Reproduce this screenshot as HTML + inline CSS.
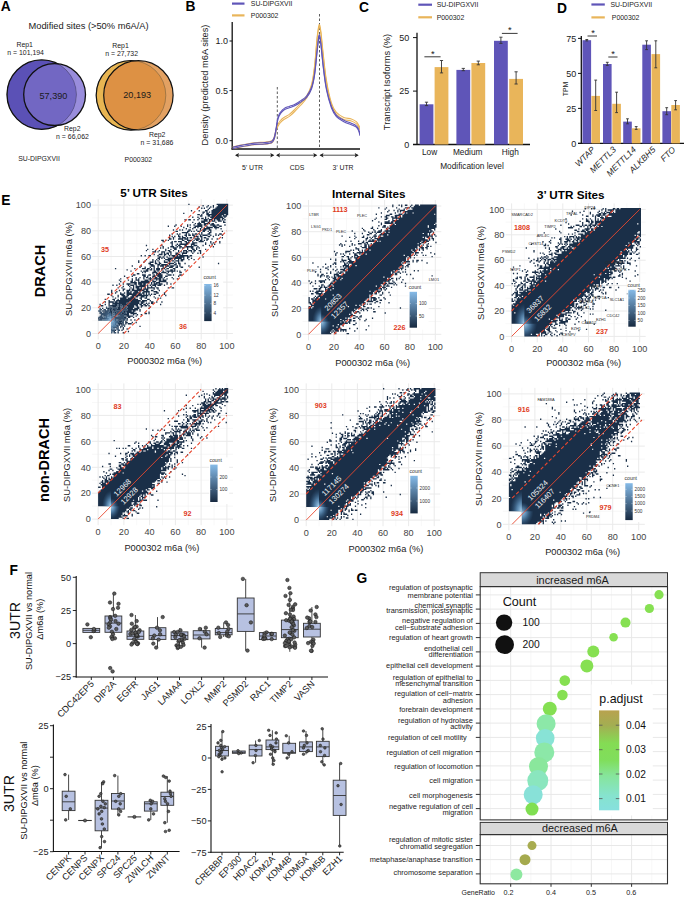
<!DOCTYPE html>
<html><head><meta charset="utf-8"><title>Figure</title>
<style>html,body{margin:0;padding:0;background:#fff;width:685px;height:897px;overflow:hidden}svg{display:block}text{font-family:"Liberation Sans", sans-serif}</style>
</head><body>
<svg width="685" height="897" viewBox="0 0 685 897" font-family='"Liberation Sans", sans-serif' fill="#1a1a1a">
<rect width="685" height="897" fill="#fff"/>
<text x="0.8" y="10.8" font-size="13.8" text-anchor="start" font-weight="bold" fill="#000">A</text>
<text x="28.5" y="28.5" font-size="9.3" text-anchor="start">Modified sites (&gt;50% m6A/A)</text>
<defs><clipPath id="cA1"><circle cx="41.7" cy="94.6" r="34.7"/></clipPath><clipPath id="cA2"><circle cx="131.0" cy="95.3" r="34.8"/></clipPath></defs>
<circle cx="54.6" cy="94.6" r="30.9" fill="#998DDC"/>
<circle cx="41.7" cy="94.6" r="34.7" fill="#5B51B6"/>
<circle cx="54.6" cy="94.6" r="30.9" fill="#7267C3" clip-path="url(#cA1)"/>
<mask id="mA1"><rect x="0" y="40" width="100" height="110" fill="#fff"/><circle cx="54.6" cy="94.6" r="30.9" fill="#000"/></mask>
<circle cx="41.7" cy="94.6" r="34.7" fill="none" stroke="#333" stroke-width="0.6" stroke-opacity="0.6"/>
<circle cx="41.7" cy="94.6" r="34.7" fill="none" stroke="#111" stroke-width="1.3" mask="url(#mA1)"/>
<circle cx="54.6" cy="94.6" r="30.9" fill="none" stroke="#111" stroke-width="1.3"/>
<text x="53.4" y="98.7" font-size="9.1" text-anchor="middle">57,390</text>
<text x="24.7" y="46.8" font-size="6.9" text-anchor="middle">Rep1</text>
<text x="25.6" y="55.0" font-size="6.9" text-anchor="middle">n = 101,194</text>
<text x="72.3" y="130.9" font-size="6.9" text-anchor="middle">Rep2</text>
<text x="72.5" y="138.7" font-size="6.9" text-anchor="middle">n = 66,062</text>
<text x="39.0" y="160.6" font-size="6.9" text-anchor="middle">SU-DIPGXVII</text>
<circle cx="138.4" cy="95.3" r="34.7" fill="#E3A162"/>
<circle cx="131.0" cy="95.3" r="34.8" fill="#E8B552"/>
<circle cx="138.4" cy="95.3" r="34.7" fill="#DD9144" clip-path="url(#cA2)"/>
<mask id="mA2"><rect x="90" y="40" width="100" height="110" fill="#fff"/><circle cx="138.4" cy="95.3" r="34.7" fill="#000"/></mask>
<circle cx="131.0" cy="95.3" r="34.8" fill="none" stroke="#333" stroke-width="0.6" stroke-opacity="0.6"/>
<circle cx="131.0" cy="95.3" r="34.8" fill="none" stroke="#111" stroke-width="1.2" mask="url(#mA2)"/>
<circle cx="138.4" cy="95.3" r="34.7" fill="none" stroke="#111" stroke-width="1.2"/>
<text x="137.2" y="98.4" font-size="9.1" text-anchor="middle">20,193</text>
<text x="120.5" y="47.7" font-size="6.9" text-anchor="middle">Rep1</text>
<text x="121.6" y="55.8" font-size="6.9" text-anchor="middle">n = 27,732</text>
<text x="157.2" y="136.7" font-size="6.9" text-anchor="middle">Rep2</text>
<text x="157.0" y="144.6" font-size="6.9" text-anchor="middle">n = 31,686</text>
<text x="138.4" y="162.4" font-size="6.9" text-anchor="middle">P000302</text>
<text x="185.5" y="10.8" font-size="13.8" text-anchor="start" font-weight="bold" fill="#000">B</text>
<line x1="232.0" y1="3.6" x2="244.5" y2="3.6" stroke="#5F55B8" stroke-width="2.2"/>
<line x1="232.0" y1="15.4" x2="244.5" y2="15.4" stroke="#E9B55A" stroke-width="2.2"/>
<text x="250.8" y="6.0" font-size="6.9" text-anchor="start" fill="#222">SU-DIPGXVII</text>
<text x="250.8" y="17.8" font-size="6.9" text-anchor="start" fill="#222">P000302</text>
<line x1="232.2" y1="22.0" x2="232.2" y2="149.5" stroke="#111" stroke-width="1.3"/>
<line x1="231.5" y1="149.0" x2="360.0" y2="149.0" stroke="#111" stroke-width="1.3"/>
<text x="228.0" y="44.2" font-size="9.0" text-anchor="end">1.0</text>
<line x1="229.5" y1="41.0" x2="232.2" y2="41.0" stroke="#111" stroke-width="1"/>
<text x="228.0" y="93.8" font-size="9.0" text-anchor="end">0.5</text>
<line x1="229.5" y1="90.6" x2="232.2" y2="90.6" stroke="#111" stroke-width="1"/>
<text x="228.0" y="143.9" font-size="9.0" text-anchor="end">0.0</text>
<line x1="229.5" y1="140.7" x2="232.2" y2="140.7" stroke="#111" stroke-width="1"/>
<text x="208.3" y="85.0" font-size="9.3" text-anchor="middle" transform="rotate(-90 208.3 85.0)">Density (predicted m6A sites)</text>
<line x1="277.3" y1="87.0" x2="277.3" y2="149.0" stroke="#333" stroke-width="0.8" stroke-dasharray="2.5,2"/>
<line x1="319.5" y1="14.0" x2="319.5" y2="149.0" stroke="#333" stroke-width="0.8" stroke-dasharray="2.5,2"/>
<g clip-path="url(#clipB)">
<path d="M232.7,148.1 C233.8,147.8 236.0,147.1 239.6,146.4 C243.3,145.7 250.4,144.4 254.5,143.9 C258.7,143.4 261.5,143.8 264.4,143.4 C267.3,143.1 270.2,142.9 271.9,141.9 C273.5,141.0 273.7,139.7 274.4,137.7 C275.1,135.8 275.5,132.3 276.1,130.3 C276.7,128.2 277.3,126.8 278.1,125.3 C278.8,123.9 279.5,122.7 280.6,121.6 C281.6,120.4 282.8,119.4 284.3,118.4 C285.7,117.4 287.6,116.8 289.3,115.6 C290.9,114.4 292.4,113.0 294.2,111.2 C296.1,109.3 298.4,107.0 300.4,104.7 C302.5,102.4 304.8,100.5 306.6,97.3 C308.5,94.1 310.3,90.7 311.6,85.6 C312.9,80.6 313.7,74.6 314.6,67.0 C315.5,59.3 316.3,46.5 317.0,39.7 C317.8,32.9 318.4,27.3 319.0,26.1 C319.7,24.8 320.1,27.3 320.8,32.3 C321.5,37.2 322.3,47.6 323.3,55.8 C324.2,64.1 325.1,73.8 326.5,81.9 C327.8,90.0 329.8,98.9 331.4,104.2 C333.1,109.5 334.3,111.2 336.4,113.6 C338.5,116.0 341.4,117.5 343.8,118.6 C346.3,119.7 349.2,119.4 351.3,120.1 C353.4,120.8 355.0,121.8 356.3,122.8 C357.5,123.9 358.1,125.5 358.7,126.6 C359.4,127.6 359.8,128.6 360.0,129.0" fill="none" stroke="#E9B55A" stroke-width="1.1" transform="translate(0,-1.2)"/>
<path d="M232.7,148.1 C233.8,147.8 236.0,147.1 239.6,146.4 C243.3,145.7 250.4,144.4 254.5,143.9 C258.7,143.4 261.5,143.8 264.4,143.4 C267.3,143.1 270.2,142.9 271.9,141.9 C273.5,141.0 273.7,139.7 274.4,137.7 C275.1,135.8 275.5,132.3 276.1,130.3 C276.7,128.2 277.3,126.8 278.1,125.3 C278.8,123.9 279.5,122.7 280.6,121.6 C281.6,120.4 282.8,119.4 284.3,118.4 C285.7,117.4 287.6,116.8 289.3,115.6 C290.9,114.4 292.4,113.0 294.2,111.2 C296.1,109.3 298.4,107.0 300.4,104.7 C302.5,102.4 304.8,100.5 306.6,97.3 C308.5,94.1 310.3,90.7 311.6,85.6 C312.9,80.6 313.7,74.6 314.6,67.0 C315.5,59.3 316.3,46.5 317.0,39.7 C317.8,32.9 318.4,27.3 319.0,26.1 C319.7,24.8 320.1,27.3 320.8,32.3 C321.5,37.2 322.3,47.6 323.3,55.8 C324.2,64.1 325.1,73.8 326.5,81.9 C327.8,90.0 329.8,98.9 331.4,104.2 C333.1,109.5 334.3,111.2 336.4,113.6 C338.5,116.0 341.4,117.5 343.8,118.6 C346.3,119.7 349.2,119.4 351.3,120.1 C353.4,120.8 355.0,121.8 356.3,122.8 C357.5,123.9 358.1,125.5 358.7,126.6 C359.4,127.6 359.8,128.6 360.0,129.0" fill="none" stroke="#E9B55A" stroke-width="1.1" transform="translate(0,0.8)"/>
<path d="M232.7,148.1 C233.8,147.8 236.0,147.1 239.6,146.4 C243.3,145.7 250.4,144.4 254.5,143.9 C258.7,143.4 261.5,143.8 264.4,143.4 C267.3,143.1 270.2,142.9 271.9,141.9 C273.5,141.0 273.7,139.9 274.4,137.7 C275.1,135.6 275.5,132.3 276.1,129.0 C276.7,125.7 277.3,120.6 278.1,117.9 C278.8,115.2 279.5,114.4 280.6,112.9 C281.6,111.5 282.8,110.1 284.3,109.2 C285.7,108.2 287.6,107.8 289.3,107.2 C290.9,106.6 292.4,106.4 294.2,105.5 C296.1,104.5 298.4,103.2 300.4,101.7 C302.5,100.3 304.8,99.0 306.6,96.8 C308.5,94.5 310.3,91.8 311.6,88.1 C312.9,84.4 313.7,80.4 314.6,74.4 C315.5,68.4 316.3,58.5 317.0,52.1 C317.8,45.7 318.4,37.4 319.0,36.0 C319.7,34.5 320.1,38.3 320.8,43.4 C321.5,48.6 322.3,59.3 323.3,67.0 C324.2,74.6 325.1,82.6 326.5,89.3 C327.8,96.0 329.8,102.7 331.4,107.2 C333.1,111.7 334.3,113.8 336.4,116.1 C338.5,118.4 341.4,119.8 343.8,121.1 C346.3,122.4 349.2,123.2 351.3,124.1 C353.4,125.0 355.0,125.5 356.3,126.6 C357.5,127.6 358.1,128.8 358.7,130.3 C359.4,131.7 359.8,134.4 360.0,135.2" fill="none" stroke="#5F55B8" stroke-width="1.1" transform="translate(0,-0.8)"/>
<path d="M232.7,148.1 C233.8,147.8 236.0,147.1 239.6,146.4 C243.3,145.7 250.4,144.4 254.5,143.9 C258.7,143.4 261.5,143.8 264.4,143.4 C267.3,143.1 270.2,142.9 271.9,141.9 C273.5,141.0 273.7,139.9 274.4,137.7 C275.1,135.6 275.5,132.3 276.1,129.0 C276.7,125.7 277.3,120.6 278.1,117.9 C278.8,115.2 279.5,114.4 280.6,112.9 C281.6,111.5 282.8,110.1 284.3,109.2 C285.7,108.2 287.6,107.8 289.3,107.2 C290.9,106.6 292.4,106.4 294.2,105.5 C296.1,104.5 298.4,103.2 300.4,101.7 C302.5,100.3 304.8,99.0 306.6,96.8 C308.5,94.5 310.3,91.8 311.6,88.1 C312.9,84.4 313.7,80.4 314.6,74.4 C315.5,68.4 316.3,58.5 317.0,52.1 C317.8,45.7 318.4,37.4 319.0,36.0 C319.7,34.5 320.1,38.3 320.8,43.4 C321.5,48.6 322.3,59.3 323.3,67.0 C324.2,74.6 325.1,82.6 326.5,89.3 C327.8,96.0 329.8,102.7 331.4,107.2 C333.1,111.7 334.3,113.8 336.4,116.1 C338.5,118.4 341.4,119.8 343.8,121.1 C346.3,122.4 349.2,123.2 351.3,124.1 C353.4,125.0 355.0,125.5 356.3,126.6 C357.5,127.6 358.1,128.8 358.7,130.3 C359.4,131.7 359.8,134.4 360.0,135.2" fill="none" stroke="#5F55B8" stroke-width="1.1" transform="translate(0,0.6)"/>
</g>
<defs><clipPath id="clipB"><rect x="232" y="0" width="128" height="149"/></clipPath></defs>
<line x1="236.0" y1="155.2" x2="273.3" y2="155.2" stroke="#222" stroke-width="0.8"/>
<path d="M235.0,155.2 l4,-2.2 l-0.8,2.2 l0.8,2.2z M274.3,155.2 l-4,-2.2 l0.8,2.2 l-0.8,2.2z" fill="#222"/>
<line x1="277.0" y1="155.2" x2="316.3" y2="155.2" stroke="#222" stroke-width="0.8"/>
<path d="M276.0,155.2 l4,-2.2 l-0.8,2.2 l0.8,2.2z M317.3,155.2 l-4,-2.2 l0.8,2.2 l-0.8,2.2z" fill="#222"/>
<line x1="320.5" y1="155.2" x2="357.7" y2="155.2" stroke="#222" stroke-width="0.8"/>
<path d="M319.5,155.2 l4,-2.2 l-0.8,2.2 l0.8,2.2z M358.7,155.2 l-4,-2.2 l0.8,2.2 l-0.8,2.2z" fill="#222"/>
<text x="252.5" y="169.9" font-size="6.9" text-anchor="middle">5&#8217; UTR</text>
<text x="297.0" y="169.9" font-size="6.9" text-anchor="middle">CDS</text>
<text x="343.0" y="169.9" font-size="6.9" text-anchor="middle">3&#8217; UTR</text>
<text x="359.0" y="12.4" font-size="13.8" text-anchor="start" font-weight="bold" fill="#000">C</text>
<line x1="418.3" y1="4.7" x2="432.0" y2="4.7" stroke="#5F55B8" stroke-width="2.2"/>
<line x1="418.3" y1="17.3" x2="432.0" y2="17.3" stroke="#E9B55A" stroke-width="2.2"/>
<text x="436.7" y="7.1" font-size="6.9" text-anchor="start" fill="#222">SU-DIPGXVII</text>
<text x="436.7" y="19.7" font-size="6.9" text-anchor="start" fill="#222">P000302</text>
<line x1="417.0" y1="32.8" x2="417.0" y2="145.0" stroke="#111" stroke-width="1.3"/>
<line x1="413.0" y1="144.5" x2="530.0" y2="144.5" stroke="#111" stroke-width="1.3"/>
<line x1="413.0" y1="144.5" x2="417.0" y2="144.5" stroke="#111" stroke-width="1"/>
<text x="409.3" y="147.7" font-size="9.0" text-anchor="end">0</text>
<line x1="413.0" y1="91.1" x2="417.0" y2="91.1" stroke="#111" stroke-width="1"/>
<text x="409.3" y="94.2" font-size="9.0" text-anchor="end">25</text>
<line x1="413.0" y1="37.6" x2="417.0" y2="37.6" stroke="#111" stroke-width="1"/>
<text x="409.3" y="40.8" font-size="9.0" text-anchor="end">50</text>
<text x="390.1" y="82.0" font-size="9.3" text-anchor="middle" transform="rotate(-90 390.1 82.0)">Transcript Isoforms (%)</text>
<rect x="419.6" y="104.3" width="13.8" height="40.2" fill="#5F55B8"/>
<line x1="426.5" y1="102.2" x2="426.5" y2="105.6" stroke="#333" stroke-width="0.9"/>
<line x1="424.9" y1="102.2" x2="428.1" y2="102.2" stroke="#333" stroke-width="0.9"/>
<line x1="424.9" y1="105.6" x2="428.1" y2="105.6" stroke="#333" stroke-width="0.9"/>
<rect x="434.6" y="67.1" width="13.8" height="77.4" fill="#E9B55A"/>
<line x1="441.5" y1="60.5" x2="441.5" y2="72.9" stroke="#333" stroke-width="0.9"/>
<line x1="439.9" y1="60.5" x2="443.1" y2="60.5" stroke="#333" stroke-width="0.9"/>
<line x1="439.9" y1="72.9" x2="443.1" y2="72.9" stroke="#333" stroke-width="0.9"/>
<rect x="456.4" y="69.9" width="13.8" height="74.6" fill="#5F55B8"/>
<line x1="463.3" y1="68.4" x2="463.3" y2="70.7" stroke="#333" stroke-width="0.9"/>
<line x1="461.7" y1="68.4" x2="464.9" y2="68.4" stroke="#333" stroke-width="0.9"/>
<line x1="461.7" y1="70.7" x2="464.9" y2="70.7" stroke="#333" stroke-width="0.9"/>
<rect x="471.4" y="63.0" width="13.8" height="81.5" fill="#E9B55A"/>
<line x1="478.3" y1="61.1" x2="478.3" y2="64.8" stroke="#333" stroke-width="0.9"/>
<line x1="476.7" y1="61.1" x2="479.9" y2="61.1" stroke="#333" stroke-width="0.9"/>
<line x1="476.7" y1="64.8" x2="479.9" y2="64.8" stroke="#333" stroke-width="0.9"/>
<rect x="494.0" y="40.8" width="13.8" height="103.7" fill="#5F55B8"/>
<line x1="500.9" y1="37.2" x2="500.9" y2="43.4" stroke="#333" stroke-width="0.9"/>
<line x1="499.3" y1="37.2" x2="502.5" y2="37.2" stroke="#333" stroke-width="0.9"/>
<line x1="499.3" y1="43.4" x2="502.5" y2="43.4" stroke="#333" stroke-width="0.9"/>
<rect x="509.2" y="78.9" width="13.8" height="65.6" fill="#E9B55A"/>
<line x1="516.1" y1="71.8" x2="516.1" y2="84.0" stroke="#333" stroke-width="0.9"/>
<line x1="514.5" y1="71.8" x2="517.7" y2="71.8" stroke="#333" stroke-width="0.9"/>
<line x1="514.5" y1="84.0" x2="517.7" y2="84.0" stroke="#333" stroke-width="0.9"/>
<line x1="424.4" y1="56.8" x2="440.6" y2="56.8" stroke="#222" stroke-width="0.9"/>
<text x="432.8" y="56.8" font-size="9.3" text-anchor="middle">*</text>
<line x1="501.9" y1="33.4" x2="517.6" y2="33.4" stroke="#222" stroke-width="0.9"/>
<text x="509.7" y="33.3" font-size="9.3" text-anchor="middle">*</text>
<text x="429.6" y="155.3" font-size="8.3" text-anchor="middle">Low</text>
<text x="467.7" y="155.3" font-size="8.3" text-anchor="middle">Medium</text>
<text x="510.3" y="155.3" font-size="8.3" text-anchor="middle">High</text>
<text x="472.0" y="168.9" font-size="8.3" text-anchor="middle">Modification level</text>
<text x="557.0" y="12.6" font-size="13.8" text-anchor="start" font-weight="bold" fill="#000">D</text>
<line x1="591.4" y1="4.5" x2="604.8" y2="4.5" stroke="#5F55B8" stroke-width="2.2"/>
<line x1="591.4" y1="17.4" x2="604.8" y2="17.4" stroke="#E9B55A" stroke-width="2.2"/>
<text x="610.5" y="6.9" font-size="6.9" text-anchor="start" fill="#222">SU-DIPGXVII</text>
<text x="611.8" y="19.8" font-size="6.9" text-anchor="start" fill="#222">P000302</text>
<line x1="581.3" y1="36.0" x2="581.3" y2="144.0" stroke="#111" stroke-width="1.3"/>
<line x1="578.0" y1="143.4" x2="684.0" y2="143.4" stroke="#111" stroke-width="1.3"/>
<line x1="578.0" y1="143.4" x2="581.3" y2="143.4" stroke="#111" stroke-width="1"/>
<text x="576.3" y="146.6" font-size="9.0" text-anchor="end">0</text>
<line x1="578.0" y1="108.4" x2="581.3" y2="108.4" stroke="#111" stroke-width="1"/>
<text x="576.3" y="111.6" font-size="9.0" text-anchor="end">25</text>
<line x1="578.0" y1="73.4" x2="581.3" y2="73.4" stroke="#111" stroke-width="1"/>
<text x="576.3" y="76.6" font-size="9.0" text-anchor="end">50</text>
<line x1="578.0" y1="38.4" x2="581.3" y2="38.4" stroke="#111" stroke-width="1"/>
<text x="576.3" y="41.6" font-size="9.0" text-anchor="end">75</text>
<text x="568.4" y="89.0" font-size="6.9" text-anchor="middle" transform="rotate(-90 568.4 89.0)">TPM</text>
<rect x="582.5" y="40.2" width="8.6" height="103.2" fill="#5F55B8"/>
<line x1="586.8" y1="39.5" x2="586.8" y2="40.9" stroke="#333" stroke-width="0.9"/>
<line x1="585.4" y1="39.5" x2="588.2" y2="39.5" stroke="#333" stroke-width="0.9"/>
<line x1="585.4" y1="40.9" x2="588.2" y2="40.9" stroke="#333" stroke-width="0.9"/>
<rect x="591.4" y="95.9" width="8.6" height="47.5" fill="#E9B55A"/>
<line x1="595.7" y1="80.1" x2="595.7" y2="110.5" stroke="#333" stroke-width="0.9"/>
<line x1="594.3" y1="80.1" x2="597.1" y2="80.1" stroke="#333" stroke-width="0.9"/>
<line x1="594.3" y1="110.5" x2="597.1" y2="110.5" stroke="#333" stroke-width="0.9"/>
<rect x="603.0" y="64.0" width="8.6" height="79.4" fill="#5F55B8"/>
<line x1="607.3" y1="62.3" x2="607.3" y2="65.4" stroke="#333" stroke-width="0.9"/>
<line x1="605.9" y1="62.3" x2="608.7" y2="62.3" stroke="#333" stroke-width="0.9"/>
<line x1="605.9" y1="65.4" x2="608.7" y2="65.4" stroke="#333" stroke-width="0.9"/>
<rect x="612.3" y="103.8" width="8.6" height="39.6" fill="#E9B55A"/>
<line x1="616.6" y1="92.2" x2="616.6" y2="112.6" stroke="#333" stroke-width="0.9"/>
<line x1="615.2" y1="92.2" x2="618.0" y2="92.2" stroke="#333" stroke-width="0.9"/>
<line x1="615.2" y1="112.6" x2="618.0" y2="112.6" stroke="#333" stroke-width="0.9"/>
<rect x="623.2" y="121.6" width="8.6" height="21.8" fill="#5F55B8"/>
<line x1="627.5" y1="118.8" x2="627.5" y2="123.8" stroke="#333" stroke-width="0.9"/>
<line x1="626.1" y1="118.8" x2="628.9" y2="118.8" stroke="#333" stroke-width="0.9"/>
<line x1="626.1" y1="123.8" x2="628.9" y2="123.8" stroke="#333" stroke-width="0.9"/>
<rect x="631.9" y="128.3" width="8.6" height="15.1" fill="#E9B55A"/>
<line x1="636.2" y1="126.6" x2="636.2" y2="129.4" stroke="#333" stroke-width="0.9"/>
<line x1="634.8" y1="126.6" x2="637.6" y2="126.6" stroke="#333" stroke-width="0.9"/>
<line x1="634.8" y1="129.4" x2="637.6" y2="129.4" stroke="#333" stroke-width="0.9"/>
<rect x="642.3" y="44.7" width="8.6" height="98.7" fill="#5F55B8"/>
<line x1="646.6" y1="40.8" x2="646.6" y2="49.6" stroke="#333" stroke-width="0.9"/>
<line x1="645.2" y1="40.8" x2="648.0" y2="40.8" stroke="#333" stroke-width="0.9"/>
<line x1="645.2" y1="49.6" x2="648.0" y2="49.6" stroke="#333" stroke-width="0.9"/>
<rect x="651.5" y="54.1" width="8.6" height="89.3" fill="#E9B55A"/>
<line x1="655.8" y1="40.8" x2="655.8" y2="67.8" stroke="#333" stroke-width="0.9"/>
<line x1="654.4" y1="40.8" x2="657.2" y2="40.8" stroke="#333" stroke-width="0.9"/>
<line x1="654.4" y1="67.8" x2="657.2" y2="67.8" stroke="#333" stroke-width="0.9"/>
<rect x="662.4" y="111.2" width="8.6" height="32.2" fill="#5F55B8"/>
<line x1="666.7" y1="107.7" x2="666.7" y2="114.7" stroke="#333" stroke-width="0.9"/>
<line x1="665.3" y1="107.7" x2="668.1" y2="107.7" stroke="#333" stroke-width="0.9"/>
<line x1="665.3" y1="114.7" x2="668.1" y2="114.7" stroke="#333" stroke-width="0.9"/>
<rect x="671.3" y="105.0" width="8.6" height="38.4" fill="#E9B55A"/>
<line x1="675.6" y1="100.6" x2="675.6" y2="109.8" stroke="#333" stroke-width="0.9"/>
<line x1="674.2" y1="100.6" x2="677.0" y2="100.6" stroke="#333" stroke-width="0.9"/>
<line x1="674.2" y1="109.8" x2="677.0" y2="109.8" stroke="#333" stroke-width="0.9"/>
<line x1="587.5" y1="36.0" x2="597.0" y2="36.0" stroke="#222" stroke-width="0.9"/>
<text x="593.0" y="35.9" font-size="9.3" text-anchor="middle">*</text>
<line x1="608.3" y1="57.0" x2="617.5" y2="57.0" stroke="#222" stroke-width="0.9"/>
<text x="613.0" y="56.9" font-size="9.3" text-anchor="middle">*</text>
<text x="595.6" y="150.2" font-size="8.6" text-anchor="end" font-style="italic" transform="rotate(-45 595.6 150.2)">WTAP</text>
<text x="616.6" y="150.2" font-size="8.6" text-anchor="end" font-style="italic" transform="rotate(-45 616.6 150.2)">METTL3</text>
<text x="636.6" y="150.2" font-size="8.6" text-anchor="end" font-style="italic" transform="rotate(-45 636.6 150.2)">METTL14</text>
<text x="656.1" y="150.2" font-size="8.6" text-anchor="end" font-style="italic" transform="rotate(-45 656.1 150.2)">ALKBH5</text>
<text x="676.1" y="150.2" font-size="8.6" text-anchor="end" font-style="italic" transform="rotate(-45 676.1 150.2)">FTO</text>
<text x="1.2" y="204.6" font-size="13.8" text-anchor="start" font-weight="bold" fill="#000">E</text>
<text x="154.0" y="197.2" font-size="11.7" text-anchor="middle" font-weight="bold" fill="#000">5&#8217; UTR Sites</text>
<text x="368.7" y="197.6" font-size="11.7" text-anchor="middle" font-weight="bold" fill="#000">Internal Sites</text>
<text x="570.8" y="199.2" font-size="11.7" text-anchor="middle" font-weight="bold" fill="#000">3&#8217; UTR Sites</text>
<text x="45.4" y="271.0" font-size="14.5" text-anchor="middle" font-weight="bold" fill="#000" transform="rotate(-90 45.4 271.0)">DRACH</text>
<text x="48.9" y="460.0" font-size="14.5" text-anchor="middle" font-weight="bold" fill="#000" transform="rotate(-90 48.9 460.0)">non-DRACH</text>
<line x1="111.1" y1="199.1" x2="111.1" y2="339.5" stroke="#F3F3F3" stroke-width="0.55"/>
<line x1="92.2" y1="320.7" x2="232.9" y2="320.7" stroke="#F3F3F3" stroke-width="0.55"/>
<line x1="136.8" y1="199.1" x2="136.8" y2="339.5" stroke="#F3F3F3" stroke-width="0.55"/>
<line x1="92.2" y1="295.0" x2="232.9" y2="295.0" stroke="#F3F3F3" stroke-width="0.55"/>
<line x1="162.6" y1="199.1" x2="162.6" y2="339.5" stroke="#F3F3F3" stroke-width="0.55"/>
<line x1="92.2" y1="269.3" x2="232.9" y2="269.3" stroke="#F3F3F3" stroke-width="0.55"/>
<line x1="188.3" y1="199.1" x2="188.3" y2="339.5" stroke="#F3F3F3" stroke-width="0.55"/>
<line x1="92.2" y1="243.6" x2="232.9" y2="243.6" stroke="#F3F3F3" stroke-width="0.55"/>
<line x1="214.0" y1="199.1" x2="214.0" y2="339.5" stroke="#F3F3F3" stroke-width="0.55"/>
<line x1="92.2" y1="217.9" x2="232.9" y2="217.9" stroke="#F3F3F3" stroke-width="0.55"/>
<line x1="98.2" y1="199.1" x2="98.2" y2="339.5" stroke="#EAEAEA" stroke-width="1"/>
<line x1="92.2" y1="333.5" x2="232.9" y2="333.5" stroke="#EAEAEA" stroke-width="1"/>
<line x1="123.9" y1="199.1" x2="123.9" y2="339.5" stroke="#EAEAEA" stroke-width="1"/>
<line x1="92.2" y1="307.8" x2="232.9" y2="307.8" stroke="#EAEAEA" stroke-width="1"/>
<line x1="149.7" y1="199.1" x2="149.7" y2="339.5" stroke="#EAEAEA" stroke-width="1"/>
<line x1="92.2" y1="282.1" x2="232.9" y2="282.1" stroke="#EAEAEA" stroke-width="1"/>
<line x1="175.4" y1="199.1" x2="175.4" y2="339.5" stroke="#EAEAEA" stroke-width="1"/>
<line x1="92.2" y1="256.5" x2="232.9" y2="256.5" stroke="#EAEAEA" stroke-width="1"/>
<line x1="201.2" y1="199.1" x2="201.2" y2="339.5" stroke="#EAEAEA" stroke-width="1"/>
<line x1="92.2" y1="230.8" x2="232.9" y2="230.8" stroke="#EAEAEA" stroke-width="1"/>
<line x1="226.9" y1="199.1" x2="226.9" y2="339.5" stroke="#EAEAEA" stroke-width="1"/>
<line x1="92.2" y1="205.1" x2="232.9" y2="205.1" stroke="#EAEAEA" stroke-width="1"/>
<text x="98.2" y="349.1" font-size="9.1" text-anchor="middle" fill="#444">0</text>
<text x="91.0" y="336.7" font-size="9.1" text-anchor="end" fill="#444">0</text>
<text x="123.9" y="349.1" font-size="9.1" text-anchor="middle" fill="#444">20</text>
<text x="91.0" y="311.1" font-size="9.1" text-anchor="end" fill="#444">20</text>
<text x="149.7" y="349.1" font-size="9.1" text-anchor="middle" fill="#444">40</text>
<text x="91.0" y="285.4" font-size="9.1" text-anchor="end" fill="#444">40</text>
<text x="175.4" y="349.1" font-size="9.1" text-anchor="middle" fill="#444">60</text>
<text x="91.0" y="259.7" font-size="9.1" text-anchor="end" fill="#444">60</text>
<text x="201.2" y="349.1" font-size="9.1" text-anchor="middle" fill="#444">80</text>
<text x="91.0" y="234.0" font-size="9.1" text-anchor="end" fill="#444">80</text>
<text x="226.9" y="349.1" font-size="9.1" text-anchor="middle" fill="#444">100</text>
<text x="91.0" y="208.3" font-size="9.1" text-anchor="end" fill="#444">100</text>
<text x="72.3" y="269.0" font-size="9.3" text-anchor="middle" fill="#222" transform="rotate(-90 72.3 269.0)">SU-DIPGXVII m6a (%)</text>
<text x="164.7" y="364.3" font-size="9.3" text-anchor="middle" fill="#222">P000302 m6a (%)</text>
<g transform="translate(98.20,333.50) scale(1.2870,-1.2840)">
<path fill="#1a2f48" d="M0 0m15 0h1v1.1h-1zm4 0h1v1.1h-1zm-7 1h1v1.1h-1zm11 0h1v1.1h-1zm-10 1h1v1.1h-1zm5 0h1v1.1h-1zm1 1h1v1.1h-1zm3 0h1v1.1h-1zm-8 1h1v1.1h-1zm5 0h1v1.1h-1zm-1 1h1v1.1h-1zm14 0h1v1.1h-1zm-16 1h1v1.1h-1zm2 0h1v1.1h-1zm2 0h1v1.1h-1zm-5 1h4v1.1h-4zm6 0h1v1.1h-1zm2 0h3v1.1h-3zm-6 1h1v1.1h-1zm4 0h2v1.1h-2zm5 0h1v1.1h-1zm3 0h1v1.1h-1zm-13 1h3v1.1h-3zm5 0h1v1.1h-1zm-6 1h1v1.1h-1zm3 0h1v1.1h-1zm4 0h1v1.1h-1zm3 0h1v1.1h-1zm3 0h1v1.1h-1zm-28 1h1v1.1h-1zm22 0h1v1.1h-1zm9 0h1v1.1h-1zm-11 1h2v1.1h-2zm3 0h2v1.1h-2zm4 0h1v1.1h-1zm-11 1h1v1.1h-1zm6 0h5v1.1h-5zm7 0h1v1.1h-1zm-22 1h1v1.1h-1zm8 0h1v1.1h-1zm5 0h4v1.1h-4zm7 0h1v1.1h-1zm3 0h1v1.1h-1zm3 0h1v1.1h-1zm-32 1h1v1.1h-1zm9 0h1v1.1h-1zm8 0h2v1.1h-2zm4 0h2v1.1h-2zm3 0h5v1.1h-5zm11 0h2v1.1h-2zm3 0h1v1.1h-1zm-35 1h1v1.1h-1zm4 0h3v1.1h-3zm5 0h1v1.1h-1zm7 0h1v1.1h-1zm2 0h6v1.1h-6zm17 0h1v1.1h-1zm-35 1h1v1.1h-1zm5 0h2v1.1h-2zm3 0h1v1.1h-1zm7 0h7v1.1h-7zm8 0h2v1.1h-2zm5 0h1v1.1h-1zm-31 1h1v1.1h-1zm8 0h1v1.1h-1zm2 0h2v1.1h-2zm3 0h3v1.1h-3zm4 0h1v1.1h-1zm5 0h8v1.1h-8zm9 0h1v1.1h-1zm-29 1h1v1.1h-1zm4 0h2v1.1h-2zm3 0h1v1.1h-1zm5 0h2v1.1h-2zm3 0h2v1.1h-2zm4 0h5v1.1h-5zm6 0h4v1.1h-4zm11 0h1v1.1h-1zm-30 1h1v1.1h-1zm2 0h3v1.1h-3zm4 0h3v1.1h-3zm4 0h1v1.1h-1zm4 0h5v1.1h-5zm7 0h2v1.1h-2zm3 0h1v1.1h-1zm7 0h1v1.1h-1zm-38 1h2v1.1h-2zm6 0h1v1.1h-1zm2 0h5v1.1h-5zm6 0h1v1.1h-1zm3 0h1v1.1h-1zm3 0h6v1.1h-6zm7 0h2v1.1h-2zm4 0h2v1.1h-2zm3 0h2v1.1h-2zm3 0h1v1.1h-1zm-38 1h1v1.1h-1zm4 0h1v1.1h-1zm3 0h1v1.1h-1zm3 0h1v1.1h-1zm2 0h2v1.1h-2zm3 0h1v1.1h-1zm2 0h5v1.1h-5zm6 0h7v1.1h-7zm8 0h2v1.1h-2zm3 0h2v1.1h-2zm3 0h1v1.1h-1zm10 0h1v1.1h-1zm-40 1h1v1.1h-1zm3 0h11v1.1h-11zm13 0h8v1.1h-8zm9 0h2v1.1h-2zm4 0h1v1.1h-1zm2 0h1v1.1h-1zm2 0h2v1.1h-2zm-36 1h1v1.1h-1zm3 0h4v1.1h-4zm5 0h2v1.1h-2zm3 0h8v1.1h-8zm9 0h7v1.1h-7zm8 0h3v1.1h-3zm8 0h2v1.1h-2zm4 0h1v1.1h-1zm4 0h1v1.1h-1zm-41 1h1v1.1h-1zm4 0h1v1.1h-1zm2 0h19v1.1h-19zm20 0h4v1.1h-4zm6 0h1v1.1h-1zm-35 1h1v1.1h-1zm6 0h2v1.1h-2zm4 0h1v1.1h-1zm2 0h14v1.1h-14zm16 0h1v1.1h-1zm5 0h2v1.1h-2zm-25 1h1v1.1h-1zm4 0h5v1.1h-5zm6 0h6v1.1h-6zm9 0h2v1.1h-2zm4 0h2v1.1h-2zm8 0h1v1.1h-1zm2 0h1v1.1h-1zm2 0h1v1.1h-1zm-37 1h1v1.1h-1zm4 0h1v1.1h-1zm4 0h4v1.1h-4zm6 0h3v1.1h-3zm4 0h2v1.1h-2zm4 0h3v1.1h-3zm4 0h1v1.1h-1zm6 0h1v1.1h-1zm-33 1h1v1.1h-1zm5 0h1v1.1h-1zm3 0h3v1.1h-3zm4 0h2v1.1h-2zm4 0h13v1.1h-13zm14 0h1v1.1h-1zm7 0h1v1.1h-1zm5 0h1v1.1h-1zm-45 1h2v1.1h-2zm10 0h3v1.1h-3zm5 0h8v1.1h-8zm9 0h3v1.1h-3zm4 0h1v1.1h-1zm2 0h1v1.1h-1zm2 0h1v1.1h-1zm2 0h1v1.1h-1zm2 0h2v1.1h-2zm8 0h1v1.1h-1zm-41 1h1v1.1h-1zm3 0h1v1.1h-1zm4 0h1v1.1h-1zm3 0h1v1.1h-1zm2 0h4v1.1h-4zm5 0h6v1.1h-6zm7 0h2v1.1h-2zm3 0h1v1.1h-1zm2 0h1v1.1h-1zm6 0h2v1.1h-2zm6 0h1v1.1h-1zm-41 1h1v1.1h-1zm4 0h1v1.1h-1zm8 0h2v1.1h-2zm3 0h1v1.1h-1zm3 0h3v1.1h-3zm4 0h1v1.1h-1zm3 0h5v1.1h-5zm8 0h3v1.1h-3zm-33 1h1v1.1h-1zm6 0h1v1.1h-1zm3 0h1v1.1h-1zm3 0h3v1.1h-3zm4 0h10v1.1h-10zm11 0h2v1.1h-2zm4 0h2v1.1h-2zm6 0h1v1.1h-1zm-28 1h2v1.1h-2zm5 0h1v1.1h-1zm2 0h2v1.1h-2zm4 0h4v1.1h-4zm5 0h4v1.1h-4zm8 0h1v1.1h-1zm3 0h1v1.1h-1zm-31 1h1v1.1h-1zm3 0h1v1.1h-1zm7 0h1v1.1h-1zm2 0h1v1.1h-1zm2 0h3v1.1h-3zm4 0h1v1.1h-1zm3 0h1v1.1h-1zm2 0h6v1.1h-6zm7 0h2v1.1h-2zm9 0h1v1.1h-1zm3 0h2v1.1h-2zm-38 1h1v1.1h-1zm5 0h1v1.1h-1zm3 0h1v1.1h-1zm2 0h8v1.1h-8zm9 0h1v1.1h-1zm3 0h1v1.1h-1zm3 0h1v1.1h-1zm-33 1h1v1.1h-1zm3 0h1v1.1h-1zm9 0h1v1.1h-1zm2 0h3v1.1h-3zm4 0h1v1.1h-1zm3 0h5v1.1h-5zm6 0h1v1.1h-1zm2 0h1v1.1h-1zm2 0h3v1.1h-3zm4 0h3v1.1h-3zm5 0h1v1.1h-1zm-35 1h1v1.1h-1zm3 0h1v1.1h-1zm3 0h3v1.1h-3zm6 0h2v1.1h-2zm3 0h3v1.1h-3zm4 0h2v1.1h-2zm6 0h1v1.1h-1zm2 0h3v1.1h-3zm4 0h3v1.1h-3zm6 0h1v1.1h-1zm3 0h1v1.1h-1zm-31 1h5v1.1h-5zm6 0h9v1.1h-9zm10 0h1v1.1h-1zm2 0h1v1.1h-1zm2 0h3v1.1h-3zm8 0h1v1.1h-1zm-36 1h1v1.1h-1zm8 0h2v1.1h-2zm3 0h1v1.1h-1zm3 0h1v1.1h-1zm2 0h7v1.1h-7zm9 0h3v1.1h-3zm5 0h6v1.1h-6zm-31 1h1v1.1h-1zm7 0h1v1.1h-1zm3 0h1v1.1h-1zm3 0h3v1.1h-3zm7 0h3v1.1h-3zm4 0h1v1.1h-1zm2 0h1v1.1h-1zm3 0h1v1.1h-1zm2 0h2v1.1h-2zm3 0h3v1.1h-3zm-33 1h1v1.1h-1zm9 0h1v1.1h-1zm3 0h1v1.1h-1zm2 0h1v1.1h-1zm4 0h1v1.1h-1zm4 0h3v1.1h-3zm4 0h6v1.1h-6zm7 0h1v1.1h-1zm3 0h1v1.1h-1zm5 0h1v1.1h-1zm3 0h1v1.1h-1zm-39 1h1v1.1h-1zm7 0h1v1.1h-1zm3 0h1v1.1h-1zm3 0h1v1.1h-1zm2 0h2v1.1h-2zm3 0h1v1.1h-1zm2 0h1v1.1h-1zm2 0h2v1.1h-2zm3 0h3v1.1h-3zm4 0h1v1.1h-1zm6 0h1v1.1h-1zm-37 1h1v1.1h-1zm6 0h1v1.1h-1zm9 0h2v1.1h-2zm3 0h1v1.1h-1zm4 0h3v1.1h-3zm4 0h4v1.1h-4zm6 0h2v1.1h-2zm10 0h1v1.1h-1zm-35 1h2v1.1h-2zm7 0h3v1.1h-3zm5 0h2v1.1h-2zm4 0h1v1.1h-1zm2 0h5v1.1h-5zm9 0h3v1.1h-3zm4 0h1v1.1h-1zm5 0h2v1.1h-2zm-33 1h2v1.1h-2zm12 0h1v1.1h-1zm3 0h4v1.1h-4zm8 0h1v1.1h-1zm-19 1h1v1.1h-1zm2 0h1v1.1h-1zm6 0h4v1.1h-4zm5 0h1v1.1h-1zm2 0h4v1.1h-4zm5 0h1v1.1h-1zm3 0h1v1.1h-1zm6 0h2v1.1h-2zm-38 1h1v1.1h-1zm8 0h1v1.1h-1zm2 0h4v1.1h-4zm8 0h2v1.1h-2zm3 0h1v1.1h-1zm4 0h1v1.1h-1zm3 0h7v1.1h-7zm8 0h1v1.1h-1zm2 0h1v1.1h-1zm-41 1h1v1.1h-1zm15 0h2v1.1h-2zm3 0h2v1.1h-2zm3 0h1v1.1h-1zm2 0h3v1.1h-3zm4 0h1v1.1h-1zm3 0h1v1.1h-1zm4 0h2v1.1h-2zm3 0h1v1.1h-1zm8 0h1v1.1h-1zm-54 1h1v1.1h-1zm15 0h1v1.1h-1zm6 0h3v1.1h-3zm4 0h2v1.1h-2zm3 0h1v1.1h-1zm2 0h1v1.1h-1zm2 0h3v1.1h-3zm4 0h3v1.1h-3zm4 0h2v1.1h-2zm5 0h2v1.1h-2zm-26 1h1v1.1h-1zm4 0h1v1.1h-1zm4 0h1v1.1h-1zm3 0h1v1.1h-1zm3 0h1v1.1h-1zm4 0h1v1.1h-1zm2 0h1v1.1h-1zm3 0h3v1.1h-3zm5 0h2v1.1h-2zm4 0h2v1.1h-2zm14 0h1v1.1h-1zm-52 1h1v1.1h-1zm7 0h1v1.1h-1zm8 0h3v1.1h-3zm5 0h1v1.1h-1zm2 0h3v1.1h-3zm4 0h3v1.1h-3zm4 0h3v1.1h-3zm5 0h1v1.1h-1zm2 0h1v1.1h-1zm7 0h1v1.1h-1zm-30 1h3v1.1h-3zm6 0h2v1.1h-2zm3 0h5v1.1h-5zm6 0h1v1.1h-1zm4 0h2v1.1h-2zm4 0h1v1.1h-1zm-24 1h2v1.1h-2zm5 0h2v1.1h-2zm3 0h2v1.1h-2zm7 0h5v1.1h-5zm6 0h1v1.1h-1zm2 0h2v1.1h-2zm5 0h1v1.1h-1zm26 0h1v1.1h-1zm-62 1h1v1.1h-1zm4 0h1v1.1h-1zm5 0h3v1.1h-3zm4 0h1v1.1h-1zm3 0h1v1.1h-1zm4 0h3v1.1h-3zm4 0h1v1.1h-1zm4 0h1v1.1h-1zm3 0h1v1.1h-1zm-31 1h1v1.1h-1zm5 0h1v1.1h-1zm6 0h1v1.1h-1zm2 0h1v1.1h-1zm2 0h1v1.1h-1zm5 0h1v1.1h-1zm3 0h2v1.1h-2zm3 0h2v1.1h-2zm3 0h3v1.1h-3zm4 0h2v1.1h-2zm-27 1h1v1.1h-1zm5 0h1v1.1h-1zm3 0h1v1.1h-1zm2 0h1v1.1h-1zm5 0h5v1.1h-5zm7 0h1v1.1h-1zm3 0h1v1.1h-1zm2 0h3v1.1h-3zm6 0h1v1.1h-1zm4 0h1v1.1h-1zm-28 1h2v1.1h-2zm3 0h1v1.1h-1zm2 0h1v1.1h-1zm3 0h4v1.1h-4zm5 0h6v1.1h-6zm7 0h1v1.1h-1zm3 0h1v1.1h-1zm3 0h1v1.1h-1zm-25 1h2v1.1h-2zm3 0h1v1.1h-1zm3 0h1v1.1h-1zm5 0h9v1.1h-9zm11 0h2v1.1h-2zm12 0h1v1.1h-1zm-48 1h1v1.1h-1zm3 0h1v1.1h-1zm3 0h2v1.1h-2zm7 0h1v1.1h-1zm5 0h1v1.1h-1zm4 0h1v1.1h-1zm2 0h3v1.1h-3zm4 0h1v1.1h-1zm2 0h7v1.1h-7zm8 0h2v1.1h-2zm-28 1h1v1.1h-1zm4 0h3v1.1h-3zm4 0h2v1.1h-2zm3 0h1v1.1h-1zm2 0h1v1.1h-1zm4 0h4v1.1h-4zm5 0h1v1.1h-1zm-16 1h1v1.1h-1zm2 0h1v1.1h-1zm2 0h2v1.1h-2zm3 0h1v1.1h-1zm4 0h2v1.1h-2zm5 0h4v1.1h-4zm8 0h1v1.1h-1zm4 0h1v1.1h-1zm2 0h1v1.1h-1zm-37 1h3v1.1h-3zm4 0h1v1.1h-1zm3 0h3v1.1h-3zm6 0h2v1.1h-2zm7 0h1v1.1h-1zm2 0h1v1.1h-1zm2 0h1v1.1h-1zm2 0h2v1.1h-2zm4 0h1v1.1h-1zm2 0h1v1.1h-1zm5 0h1v1.1h-1zm-42 1h1v1.1h-1zm7 0h1v1.1h-1zm3 0h1v1.1h-1zm5 0h1v1.1h-1zm2 0h2v1.1h-2zm4 0h1v1.1h-1zm4 0h1v1.1h-1zm4 0h3v1.1h-3zm4 0h3v1.1h-3zm4 0h2v1.1h-2zm4 0h2v1.1h-2zm-40 1h1v1.1h-1zm4 0h1v1.1h-1zm10 0h1v1.1h-1zm4 0h1v1.1h-1zm3 0h2v1.1h-2zm10 0h1v1.1h-1zm4 0h2v1.1h-2zm3 0h1v1.1h-1zm7 0h1v1.1h-1zm-35 1h1v1.1h-1zm2 0h1v1.1h-1zm4 0h1v1.1h-1zm4 0h3v1.1h-3zm5 0h1v1.1h-1zm2 0h2v1.1h-2zm4 0h1v1.1h-1zm3 0h2v1.1h-2zm4 0h1v1.1h-1zm2 0h1v1.1h-1zm-28 1h1v1.1h-1zm6 0h3v1.1h-3zm5 0h1v1.1h-1zm2 0h2v1.1h-2zm4 0h7v1.1h-7zm10 0h1v1.1h-1zm12 0h1v1.1h-1zm-52 1h1v1.1h-1zm12 0h1v1.1h-1zm8 0h1v1.1h-1zm3 0h1v1.1h-1zm2 0h2v1.1h-2zm5 0h2v1.1h-2zm5 0h1v1.1h-1zm2 0h3v1.1h-3zm7 0h1v1.1h-1zm5 0h1v1.1h-1zm-29 1h1v1.1h-1zm4 0h1v1.1h-1zm2 0h7v1.1h-7zm9 0h3v1.1h-3zm11 0h1v1.1h-1zm5 0h1v1.1h-1zm2 0h1v1.1h-1zm-34 1h2v1.1h-2zm8 0h1v1.1h-1zm4 0h3v1.1h-3zm5 0h4v1.1h-4zm10 0h1v1.1h-1zm4 0h1v1.1h-1zm2 0h1v1.1h-1zm5 0h1v1.1h-1zm-44 1h1v1.1h-1zm7 0h1v1.1h-1zm2 0h2v1.1h-2zm3 0h3v1.1h-3zm5 0h2v1.1h-2zm3 0h1v1.1h-1zm3 0h1v1.1h-1zm5 0h4v1.1h-4zm9 0h1v1.1h-1zm4 0h1v1.1h-1zm3 0h1v1.1h-1zm-45 1h2v1.1h-2zm3 0h1v1.1h-1zm2 0h1v1.1h-1zm11 0h2v1.1h-2zm4 0h4v1.1h-4zm5 0h1v1.1h-1zm2 0h2v1.1h-2zm3 0h2v1.1h-2zm3 0h1v1.1h-1zm2 0h1v1.1h-1zm-29 1h2v1.1h-2zm3 0h1v1.1h-1zm4 0h4v1.1h-4zm5 0h3v1.1h-3zm8 0h4v1.1h-4zm5 0h1v1.1h-1zm4 0h2v1.1h-2zm4 0h1v1.1h-1zm4 0h1v1.1h-1zm-37 1h1v1.1h-1zm3 0h1v1.1h-1zm5 0h1v1.1h-1zm2 0h3v1.1h-3zm4 0h1v1.1h-1zm2 0h2v1.1h-2zm3 0h1v1.1h-1zm3 0h1v1.1h-1zm3 0h1v1.1h-1zm2 0h2v1.1h-2zm14 0h1v1.1h-1zm-39 1h1v1.1h-1zm2 0h1v1.1h-1zm3 0h2v1.1h-2zm3 0h1v1.1h-1zm3 0h1v1.1h-1zm6 0h4v1.1h-4zm5 0h2v1.1h-2zm6 0h2v1.1h-2zm4 0h1v1.1h-1zm-34 1h1v1.1h-1zm7 0h1v1.1h-1zm5 0h2v1.1h-2zm3 0h2v1.1h-2zm3 0h2v1.1h-2zm6 0h1v1.1h-1zm2 0h4v1.1h-4zm6 0h1v1.1h-1zm4 0h1v1.1h-1zm2 0h1v1.1h-1zm3 0h1v1.1h-1zm-39 1h1v1.1h-1zm4 0h1v1.1h-1zm2 0h1v1.1h-1zm5 0h1v1.1h-1zm2 0h1v1.1h-1zm3 0h1v1.1h-1zm2 0h2v1.1h-2zm3 0h1v1.1h-1zm2 0h1v1.1h-1zm5 0h2v1.1h-2zm6 0h1v1.1h-1zm3 0h2v1.1h-2zm-29 1h5v1.1h-5zm15 0h1v1.1h-1zm6 0h2v1.1h-2zm-26 1h2v1.1h-2zm9 0h2v1.1h-2zm3 0h1v1.1h-1zm2 0h1v1.1h-1zm3 0h2v1.1h-2zm4 0h2v1.1h-2zm4 0h1v1.1h-1zm2 0h1v1.1h-1zm9 0h1v1.1h-1zm-38 1h1v1.1h-1zm5 0h1v1.1h-1zm2 0h1v1.1h-1zm5 0h2v1.1h-2zm6 0h1v1.1h-1zm3 0h1v1.1h-1zm2 0h3v1.1h-3zm5 0h2v1.1h-2zm-18 1h1v1.1h-1zm5 0h1v1.1h-1zm6 0h1v1.1h-1zm3 0h5v1.1h-5zm9 0h1v1.1h-1zm4 0h1v1.1h-1zm-29 1h1v1.1h-1zm5 0h1v1.1h-1zm3 0h2v1.1h-2zm3 0h1v1.1h-1zm3 0h1v1.1h-1zm2 0h1v1.1h-1zm2 0h5v1.1h-5zm6 0h4v1.1h-4zm-36 1h1v1.1h-1zm5 0h1v1.1h-1zm5 0h1v1.1h-1zm5 0h1v1.1h-1zm6 0h6v1.1h-6zm9 0h1v1.1h-1zm5 0h3v1.1h-3zm5 0h2v1.1h-2zm-34 1h1v1.1h-1zm9 0h1v1.1h-1zm2 0h1v1.1h-1zm3 0h1v1.1h-1zm3 0h4v1.1h-4zm5 0h2v1.1h-2zm5 0h4v1.1h-4zm5 0h2v1.1h-2zm6 0h1v1.1h-1zm-23 1h1v1.1h-1zm2 0h3v1.1h-3zm5 0h5v1.1h-5zm6 0h2v1.1h-2zm-15 1h1v1.1h-1zm5 0h1v1.1h-1zm2 0h3v1.1h-3zm5 0h2v1.1h-2zm6 0h1v1.1h-1zm6 0h2v1.1h-2zm-17 1h5v1.1h-5zm6 0h1v1.1h-1zm2 0h3v1.1h-3zm5 0h3v1.1h-3zm4 0h1v1.1h-1zm-30 1h1v1.1h-1zm3 0h2v1.1h-2zm4 0h1v1.1h-1zm3 0h1v1.1h-1zm5 0h3v1.1h-3zm4 0h3v1.1h-3zm4 0h1v1.1h-1zm2 0h3v1.1h-3zm4 0h1v1.1h-1zm2 0h1v1.1h-1zm-20 1h1v1.1h-1zm2 0h2v1.1h-2zm3 0h1v1.1h-1zm2 0h1v1.1h-1zm3 0h7v1.1h-7zm8 0h2v1.1h-2zm-23 1h1v1.1h-1zm4 0h1v1.1h-1zm6 0h1v1.1h-1zm4 0h10v1.1h-10zm11 0h1v1.1h-1zm-19 1h2v1.1h-2zm6 0h2v1.1h-2zm3 0h8v1.1h-8zm9 0h3v1.1h-3zm-20 1h2v1.1h-2zm3 0h1v1.1h-1zm4 0h14v1.1h-14zm15 0h2v1.1h-2zm-33 1h1v1.1h-1zm15 0h1v1.1h-1zm3 0h2v1.1h-2zm4 0h13v1.1h-13zm-7 1h2v1.1h-2zm3 0h1v1.1h-1zm2 0h1v1.1h-1zm2 0h13v1.1h-13zm-16 1h1v1.1h-1zm6 0h1v1.1h-1zm5 0h2v1.1h-2zm5 0h13v1.1h-13zm-3 1h1v1.1h-1zm4 0h12v1.1h-12zm-9 1h1v1.1h-1zm2 0h1v1.1h-1zm4 0h1v1.1h-1zm5 0h10v1.1h-10zm-13 1h1v1.1h-1zm6 0h1v1.1h-1zm3 0h1v1.1h-1zm2 0h1v1.1h-1zm3 0h9v1.1h-9zm-11 1h1v1.1h-1zm4 0h1v1.1h-1zm4 0h1v1.1h-1zm4 0h8v1.1h-8zm-23 1h1v1.1h-1zm22 0h9v1.1h-9z"/>
<path fill="#37516c" d="M0 0m10 0h1v1.1h-1zm2 0h2v1.1h-2zm-1 1h1v1.1h-1zm4 0h1v1.1h-1zm-5 1h3v1.1h-3zm5 0h2v1.1h-2zm-5 1h1v1.1h-1zm4 0h2v1.1h-2zm-3 1h3v1.1h-3zm4 0h1v1.1h-1zm2 0h1v1.1h-1zm-3 1h2v1.1h-2zm3 0h1v1.1h-1zm3 0h1v1.1h-1zm-10 1h1v1.1h-1zm3 0h3v1.1h-3zm6 0h1v1.1h-1zm-6 1h1v1.1h-1zm6 0h1v1.1h-1zm-6 1h4v1.1h-4zm5 0h2v1.1h-2zm-8 1h1v1.1h-1zm2 0h4v1.1h-4zm7 0h1v1.1h-1zm-19 1h3v1.1h-3zm7 0h1v1.1h-1zm3 0h1v1.1h-1zm3 0h1v1.1h-1zm3 0h2v1.1h-2zm3 0h2v1.1h-2zm-18 1h8v1.1h-8zm10 0h1v1.1h-1zm2 0h9v1.1h-9zm-13 1h4v1.1h-4zm6 0h1v1.1h-1zm2 0h1v1.1h-1zm4 0h8v1.1h-8zm-11 1h2v1.1h-2zm3 0h10v1.1h-10zm11 0h1v1.1h-1zm2 0h5v1.1h-5zm-15 1h5v1.1h-5zm6 0h3v1.1h-3zm5 0h2v1.1h-2zm3 0h4v1.1h-4zm-14 1h8v1.1h-8zm9 0h1v1.1h-1zm2 0h5v1.1h-5zm7 0h2v1.1h-2zm-19 1h2v1.1h-2zm4 0h3v1.1h-3zm6 0h2v1.1h-2zm3 0h6v1.1h-6zm7 0h1v1.1h-1zm-21 1h2v1.1h-2zm3 0h1v1.1h-1zm2 0h4v1.1h-4zm6 0h1v1.1h-1zm2 0h6v1.1h-6zm-11 1h1v1.1h-1zm2 0h2v1.1h-2zm3 0h2v1.1h-2zm3 0h1v1.1h-1zm3 0h1v1.1h-1zm4 0h1v1.1h-1zm2 0h4v1.1h-4zm-18 1h1v1.1h-1zm5 0h1v1.1h-1zm3 0h1v1.1h-1zm2 0h4v1.1h-4zm6 0h1v1.1h-1zm3 0h2v1.1h-2zm-14 1h1v1.1h-1zm2 0h1v1.1h-1zm2 0h1v1.1h-1zm4 0h1v1.1h-1zm4 0h1v1.1h-1zm2 0h3v1.1h-3zm-11 1h1v1.1h-1zm6 0h1v1.1h-1zm2 0h2v1.1h-2zm3 0h2v1.1h-2zm-8 1h1v1.1h-1zm3 0h1v1.1h-1zm2 0h1v1.1h-1zm6 0h1v1.1h-1zm-1 1h2v1.1h-2zm2 1h1v1.1h-1z"/>
<path fill="#4d6b87" d="M0 0m10 1h1v1.1h-1zm1 2h2v1.1h-2zm-1 1h1v1.1h-1zm0 1h4v1.1h-4zm1 1h2v1.1h-2zm-1 1h3v1.1h-3zm4 0h1v1.1h-1zm-4 1h3v1.1h-3zm1 1h1v1.1h-1zm-8 1h4v1.1h-4zm5 0h2v1.1h-2zm3 0h2v1.1h-2zm3 0h1v1.1h-1zm-4 1h1v1.1h-1zm2 0h1v1.1h-1zm-8 1h2v1.1h-2zm3 0h1v1.1h-1zm2 0h3v1.1h-3zm-6 1h1v1.1h-1zm11 0h1v1.1h-1zm-3 1h2v1.1h-2zm1 1h1v1.1h-1z"/>
<path fill="#61829f" d="M0 0m9 11h1v1.1h-1z"/>
<defs><radialGradient id="gl1"><stop offset="0" stop-color="#b4dcf8" stop-opacity="1"/><stop offset="0.45" stop-color="#78b4e4" stop-opacity="0.6"/><stop offset="1" stop-color="#3d6f9e" stop-opacity="0"/></radialGradient><clipPath id="cpL1"><rect x="0" y="10" width="10" height="20"/></clipPath><clipPath id="cpB1"><rect x="10" y="0" width="20" height="10"/></clipPath><clipPath id="cpG1"><rect x="10" y="10" width="20" height="20"/></clipPath></defs>
<ellipse cx="10" cy="10" rx="6" ry="9" fill="url(#gl1)" opacity="0.75" clip-path="url(#cpL1)"/>
<ellipse cx="10" cy="10" rx="7" ry="9" fill="url(#gl1)" opacity="0.75" clip-path="url(#cpB1)"/>
<ellipse cx="10" cy="10" rx="5" ry="5" fill="url(#gl1)" opacity="0.5" clip-path="url(#cpG1)"/>
</g>
<g transform="translate(0,0)">
<line x1="98.2" y1="333.5" x2="226.9" y2="205.1" stroke="#E8472F" stroke-width="0.9"/>
<line x1="98.2" y1="307.8" x2="201.2" y2="205.1" stroke="#E8472F" stroke-width="1.1" stroke-dasharray="3.6,2.2"/>
<line x1="123.9" y1="333.5" x2="226.9" y2="230.8" stroke="#E8472F" stroke-width="1.1" stroke-dasharray="3.6,2.2"/>
</g>
<text x="105.0" y="251.6" font-size="7.2" text-anchor="middle" font-weight="bold" fill="#E03A22">35</text>
<text x="183.0" y="329.1" font-size="7.2" text-anchor="middle" font-weight="bold" fill="#E03A22">36</text>
<defs><linearGradient id="lg2326" x1="0" y1="1" x2="0" y2="0"><stop offset="0" stop-color="#172a41"/><stop offset="1" stop-color="#86bbe8"/></linearGradient></defs>
<rect x="203.2" y="274.3" width="20" height="48.8" fill="#fff"/>
<rect x="204.2" y="284.0" width="7.4" height="37.1" fill="url(#lg2326)"/>
<text x="203.4" y="279.1" font-size="5.1" text-anchor="start" fill="#333">count</text>
<text x="213.5" y="287.2" font-size="4.7" text-anchor="start" fill="#333">16</text>
<path d="M204.2 285.5h1.4M210.2 285.5h1.4" stroke="#fff" stroke-opacity="0.7" stroke-width="0.5"/>
<text x="213.5" y="296.9" font-size="4.7" text-anchor="start" fill="#333">12</text>
<path d="M204.2 295.2h1.4M210.2 295.2h1.4" stroke="#fff" stroke-opacity="0.7" stroke-width="0.5"/>
<text x="213.5" y="305.4" font-size="4.7" text-anchor="start" fill="#333">8</text>
<path d="M204.2 303.7h1.4M210.2 303.7h1.4" stroke="#fff" stroke-opacity="0.7" stroke-width="0.5"/>
<text x="213.5" y="314.7" font-size="4.7" text-anchor="start" fill="#333">4</text>
<path d="M204.2 313.0h1.4M210.2 313.0h1.4" stroke="#fff" stroke-opacity="0.7" stroke-width="0.5"/>
<line x1="321.2" y1="200.0" x2="321.2" y2="340.3" stroke="#F3F3F3" stroke-width="0.55"/>
<line x1="302.5" y1="321.5" x2="441.3" y2="321.5" stroke="#F3F3F3" stroke-width="0.55"/>
<line x1="346.5" y1="200.0" x2="346.5" y2="340.3" stroke="#F3F3F3" stroke-width="0.55"/>
<line x1="302.5" y1="295.8" x2="441.3" y2="295.8" stroke="#F3F3F3" stroke-width="0.55"/>
<line x1="371.9" y1="200.0" x2="371.9" y2="340.3" stroke="#F3F3F3" stroke-width="0.55"/>
<line x1="302.5" y1="270.1" x2="441.3" y2="270.1" stroke="#F3F3F3" stroke-width="0.55"/>
<line x1="397.3" y1="200.0" x2="397.3" y2="340.3" stroke="#F3F3F3" stroke-width="0.55"/>
<line x1="302.5" y1="244.5" x2="441.3" y2="244.5" stroke="#F3F3F3" stroke-width="0.55"/>
<line x1="422.6" y1="200.0" x2="422.6" y2="340.3" stroke="#F3F3F3" stroke-width="0.55"/>
<line x1="302.5" y1="218.8" x2="441.3" y2="218.8" stroke="#F3F3F3" stroke-width="0.55"/>
<line x1="308.5" y1="200.0" x2="308.5" y2="340.3" stroke="#EAEAEA" stroke-width="1"/>
<line x1="302.5" y1="334.3" x2="441.3" y2="334.3" stroke="#EAEAEA" stroke-width="1"/>
<line x1="333.9" y1="200.0" x2="333.9" y2="340.3" stroke="#EAEAEA" stroke-width="1"/>
<line x1="302.5" y1="308.6" x2="441.3" y2="308.6" stroke="#EAEAEA" stroke-width="1"/>
<line x1="359.2" y1="200.0" x2="359.2" y2="340.3" stroke="#EAEAEA" stroke-width="1"/>
<line x1="302.5" y1="283.0" x2="441.3" y2="283.0" stroke="#EAEAEA" stroke-width="1"/>
<line x1="384.6" y1="200.0" x2="384.6" y2="340.3" stroke="#EAEAEA" stroke-width="1"/>
<line x1="302.5" y1="257.3" x2="441.3" y2="257.3" stroke="#EAEAEA" stroke-width="1"/>
<line x1="409.9" y1="200.0" x2="409.9" y2="340.3" stroke="#EAEAEA" stroke-width="1"/>
<line x1="302.5" y1="231.7" x2="441.3" y2="231.7" stroke="#EAEAEA" stroke-width="1"/>
<line x1="435.3" y1="200.0" x2="435.3" y2="340.3" stroke="#EAEAEA" stroke-width="1"/>
<line x1="302.5" y1="206.0" x2="441.3" y2="206.0" stroke="#EAEAEA" stroke-width="1"/>
<text x="308.5" y="349.9" font-size="9.1" text-anchor="middle" fill="#444">0</text>
<text x="301.3" y="337.5" font-size="9.1" text-anchor="end" fill="#444">0</text>
<text x="333.9" y="349.9" font-size="9.1" text-anchor="middle" fill="#444">20</text>
<text x="301.3" y="311.9" font-size="9.1" text-anchor="end" fill="#444">20</text>
<text x="359.2" y="349.9" font-size="9.1" text-anchor="middle" fill="#444">40</text>
<text x="301.3" y="286.2" font-size="9.1" text-anchor="end" fill="#444">40</text>
<text x="384.6" y="349.9" font-size="9.1" text-anchor="middle" fill="#444">60</text>
<text x="301.3" y="260.6" font-size="9.1" text-anchor="end" fill="#444">60</text>
<text x="409.9" y="349.9" font-size="9.1" text-anchor="middle" fill="#444">80</text>
<text x="301.3" y="234.9" font-size="9.1" text-anchor="end" fill="#444">80</text>
<text x="435.3" y="349.9" font-size="9.1" text-anchor="middle" fill="#444">100</text>
<text x="301.3" y="209.2" font-size="9.1" text-anchor="end" fill="#444">100</text>
<text x="278.0" y="270.0" font-size="9.3" text-anchor="middle" fill="#222" transform="rotate(-90 278.0 270.0)">SU-DIPGXVII m6a (%)</text>
<text x="372.7" y="366.1" font-size="9.3" text-anchor="middle" fill="#222">P000302 m6a (%)</text>
<g transform="translate(308.50,334.30) scale(1.2680,-1.2830)">
<path fill="#1a2f48" d="M0 0m10 0h8v1.1h-8zm11 0h1v1.1h-1zm9 0h2v1.1h-2zm-20 1h7v1.1h-7zm8 0h1v1.1h-1zm2 0h1v1.1h-1zm-10 1h8v1.1h-8zm9 0h1v1.1h-1zm2 0h3v1.1h-3zm4 0h1v1.1h-1zm2 0h1v1.1h-1zm2 0h1v1.1h-1zm7 0h1v1.1h-1zm-26 1h9v1.1h-9zm10 0h4v1.1h-4zm5 0h5v1.1h-5zm20 0h1v1.1h-1zm-35 1h14v1.1h-14zm15 0h1v1.1h-1zm7 0h1v1.1h-1zm6 0h1v1.1h-1zm-28 1h12v1.1h-12zm13 0h2v1.1h-2zm-13 1h9v1.1h-9zm10 0h5v1.1h-5zm7 0h1v1.1h-1zm20 0h1v1.1h-1zm-37 1h13v1.1h-13zm14 0h3v1.1h-3zm11 0h2v1.1h-2zm-25 1h21v1.1h-21zm22 0h1v1.1h-1zm5 0h1v1.1h-1zm-27 1h15v1.1h-15zm16 0h2v1.1h-2zm3 0h1v1.1h-1zm2 0h2v1.1h-2zm-31 1h27v1.1h-27zm28 0h1v1.1h-1zm4 0h2v1.1h-2zm3 0h2v1.1h-2zm9 0h1v1.1h-1zm-44 1h25v1.1h-25zm26 0h5v1.1h-5zm6 0h2v1.1h-2zm8 0h1v1.1h-1zm5 0h1v1.1h-1zm-45 1h29v1.1h-29zm30 0h1v1.1h-1zm5 0h2v1.1h-2zm4 0h1v1.1h-1zm11 0h1v1.1h-1zm-50 1h33v1.1h-33zm37 0h2v1.1h-2zm3 0h2v1.1h-2zm-40 1h37v1.1h-37zm41 0h1v1.1h-1zm-41 1h32v1.1h-32zm33 0h2v1.1h-2zm-33 1h34v1.1h-34zm36 0h2v1.1h-2zm4 0h1v1.1h-1zm20 0h1v1.1h-1zm-60 1h34v1.1h-34zm35 0h1v1.1h-1zm2 0h3v1.1h-3zm14 0h2v1.1h-2zm-51 1h37v1.1h-37zm41 0h1v1.1h-1zm2 0h1v1.1h-1zm3 0h1v1.1h-1zm-46 1h36v1.1h-36zm37 0h1v1.1h-1zm5 0h2v1.1h-2zm3 0h1v1.1h-1zm6 0h1v1.1h-1zm-51 1h2v1.1h-2zm3 0h39v1.1h-39zm43 0h2v1.1h-2zm3 0h1v1.1h-1zm23 0h1v1.1h-1zm-72 1h3v1.1h-3zm4 0h27v1.1h-27zm28 0h9v1.1h-9zm11 0h2v1.1h-2zm12 0h1v1.1h-1zm-53 1h35v1.1h-35zm36 0h2v1.1h-2zm3 0h1v1.1h-1zm2 0h1v1.1h-1zm-42 1h2v1.1h-2zm3 0h38v1.1h-38zm39 0h2v1.1h-2zm3 0h1v1.1h-1zm2 0h2v1.1h-2zm-48 1h2v1.1h-2zm3 0h42v1.1h-42zm49 0h1v1.1h-1zm4 0h1v1.1h-1zm7 0h1v1.1h-1zm-63 1h1v1.1h-1zm3 0h41v1.1h-41zm43 0h5v1.1h-5zm7 0h2v1.1h-2zm-53 1h1v1.1h-1zm3 0h42v1.1h-42zm44 0h1v1.1h-1zm2 0h1v1.1h-1zm2 0h2v1.1h-2zm5 0h2v1.1h-2zm-56 1h1v1.1h-1zm2 0h2v1.1h-2zm3 0h8v1.1h-8zm9 0h32v1.1h-32zm35 0h1v1.1h-1zm2 0h3v1.1h-3zm9 0h1v1.1h-1zm-60 1h1v1.1h-1zm4 0h1v1.1h-1zm2 0h2v1.1h-2zm3 0h39v1.1h-39zm40 0h4v1.1h-4zm6 0h1v1.1h-1zm4 0h1v1.1h-1zm-54 1h1v1.1h-1zm2 0h41v1.1h-41zm42 0h1v1.1h-1zm-41 1h2v1.1h-2zm3 0h8v1.1h-8zm9 0h28v1.1h-28zm29 0h1v1.1h-1zm7 0h2v1.1h-2zm8 0h1v1.1h-1zm-62 1h2v1.1h-2zm4 0h5v1.1h-5zm6 0h39v1.1h-39zm40 0h2v1.1h-2zm6 0h1v1.1h-1zm-53 1h3v1.1h-3zm5 0h1v1.1h-1zm3 0h38v1.1h-38zm39 0h2v1.1h-2zm3 0h1v1.1h-1zm3 0h1v1.1h-1zm5 0h1v1.1h-1zm-62 1h1v1.1h-1zm2 0h1v1.1h-1zm3 0h6v1.1h-6zm7 0h35v1.1h-35zm36 0h3v1.1h-3zm5 0h3v1.1h-3zm-46 1h1v1.1h-1zm5 0h4v1.1h-4zm5 0h37v1.1h-37zm39 0h1v1.1h-1zm3 0h1v1.1h-1zm-56 1h3v1.1h-3zm4 0h2v1.1h-2zm5 0h1v1.1h-1zm2 0h4v1.1h-4zm5 0h38v1.1h-38zm39 0h1v1.1h-1zm2 0h1v1.1h-1zm-52 1h2v1.1h-2zm3 0h3v1.1h-3zm4 0h41v1.1h-41zm42 0h3v1.1h-3zm7 0h1v1.1h-1zm-62 1h1v1.1h-1zm5 0h1v1.1h-1zm2 0h1v1.1h-1zm2 0h1v1.1h-1zm3 0h4v1.1h-4zm5 0h33v1.1h-33zm34 0h4v1.1h-4zm5 0h1v1.1h-1zm2 0h3v1.1h-3zm15 0h1v1.1h-1zm-66 1h2v1.1h-2zm6 0h2v1.1h-2zm3 0h38v1.1h-38zm40 0h2v1.1h-2zm3 0h1v1.1h-1zm5 0h1v1.1h-1zm2 0h1v1.1h-1zm-68 1h1v1.1h-1zm4 0h1v1.1h-1zm12 0h45v1.1h-45zm46 0h4v1.1h-4zm5 0h1v1.1h-1zm8 0h1v1.1h-1zm-74 1h1v1.1h-1zm7 0h2v1.1h-2zm3 0h1v1.1h-1zm6 0h1v1.1h-1zm2 0h39v1.1h-39zm40 0h1v1.1h-1zm3 0h1v1.1h-1zm4 0h1v1.1h-1zm6 0h1v1.1h-1zm-73 1h1v1.1h-1zm5 0h1v1.1h-1zm3 0h5v1.1h-5zm11 0h2v1.1h-2zm3 0h42v1.1h-42zm44 0h1v1.1h-1zm-53 1h1v1.1h-1zm3 0h1v1.1h-1zm4 0h5v1.1h-5zm6 0h39v1.1h-39zm43 0h1v1.1h-1zm5 0h1v1.1h-1zm-59 1h1v1.1h-1zm4 0h3v1.1h-3zm4 0h3v1.1h-3zm4 0h35v1.1h-35zm36 0h1v1.1h-1zm2 0h2v1.1h-2zm4 0h1v1.1h-1zm2 0h1v1.1h-1zm11 0h1v1.1h-1zm-73 1h1v1.1h-1zm5 0h1v1.1h-1zm2 0h1v1.1h-1zm2 0h1v1.1h-1zm2 0h2v1.1h-2zm3 0h36v1.1h-36zm37 0h5v1.1h-5zm12 0h1v1.1h-1zm-65 1h1v1.1h-1zm2 0h2v1.1h-2zm3 0h1v1.1h-1zm2 0h2v1.1h-2zm6 0h1v1.1h-1zm2 0h44v1.1h-44zm75 0h1v1.1h-1zm-90 1h1v1.1h-1zm3 0h2v1.1h-2zm10 0h4v1.1h-4zm7 0h40v1.1h-40zm41 0h2v1.1h-2zm9 0h1v1.1h-1zm3 0h1v1.1h-1zm-66 1h1v1.1h-1zm3 0h1v1.1h-1zm5 0h1v1.1h-1zm2 0h2v1.1h-2zm3 0h1v1.1h-1zm2 0h36v1.1h-36zm37 0h1v1.1h-1zm2 0h2v1.1h-2zm4 0h1v1.1h-1zm-67 1h1v1.1h-1zm4 0h1v1.1h-1zm8 0h1v1.1h-1zm6 0h1v1.1h-1zm2 0h2v1.1h-2zm4 0h36v1.1h-36zm37 0h2v1.1h-2zm4 0h2v1.1h-2zm4 0h1v1.1h-1zm2 0h1v1.1h-1zm-55 1h1v1.1h-1zm6 0h3v1.1h-3zm4 0h36v1.1h-36zm37 0h1v1.1h-1zm15 0h1v1.1h-1zm3 0h1v1.1h-1zm-77 1h1v1.1h-1zm6 0h1v1.1h-1zm4 0h1v1.1h-1zm3 0h1v1.1h-1zm3 0h4v1.1h-4zm5 0h42v1.1h-42zm43 0h1v1.1h-1zm3 0h1v1.1h-1zm-63 1h2v1.1h-2zm15 0h2v1.1h-2zm3 0h40v1.1h-40zm41 0h3v1.1h-3zm-65 1h1v1.1h-1zm4 0h1v1.1h-1zm4 0h1v1.1h-1zm2 0h1v1.1h-1zm4 0h1v1.1h-1zm4 0h1v1.1h-1zm2 0h1v1.1h-1zm2 0h43v1.1h-43zm45 0h1v1.1h-1zm2 0h1v1.1h-1zm2 0h1v1.1h-1zm-61 1h1v1.1h-1zm10 0h5v1.1h-5zm6 0h4v1.1h-4zm5 0h37v1.1h-37zm39 0h2v1.1h-2zm-64 1h1v1.1h-1zm6 0h1v1.1h-1zm2 0h1v1.1h-1zm7 0h2v1.1h-2zm3 0h1v1.1h-1zm3 0h40v1.1h-40zm44 0h2v1.1h-2zm-75 1h1v1.1h-1zm17 0h2v1.1h-2zm8 0h1v1.1h-1zm2 0h1v1.1h-1zm2 0h41v1.1h-41zm42 0h1v1.1h-1zm2 0h1v1.1h-1zm17 0h1v1.1h-1zm-68 1h1v1.1h-1zm2 0h1v1.1h-1zm4 0h5v1.1h-5zm6 0h37v1.1h-37zm38 0h5v1.1h-5zm7 0h1v1.1h-1zm3 0h1v1.1h-1zm-64 1h1v1.1h-1zm5 0h4v1.1h-4zm6 0h2v1.1h-2zm5 0h40v1.1h-40zm41 0h1v1.1h-1zm4 0h1v1.1h-1zm3 0h2v1.1h-2zm4 0h1v1.1h-1zm-72 1h1v1.1h-1zm4 0h1v1.1h-1zm5 0h1v1.1h-1zm5 0h2v1.1h-2zm6 0h40v1.1h-40zm41 0h1v1.1h-1zm-47 1h1v1.1h-1zm2 0h1v1.1h-1zm3 0h41v1.1h-41zm42 0h1v1.1h-1zm2 0h1v1.1h-1zm3 0h1v1.1h-1zm-57 1h2v1.1h-2zm4 0h2v1.1h-2zm4 0h1v1.1h-1zm2 0h1v1.1h-1zm2 0h40v1.1h-40zm41 0h2v1.1h-2zm18 0h1v1.1h-1zm-76 1h1v1.1h-1zm7 0h1v1.1h-1zm8 0h3v1.1h-3zm5 0h34v1.1h-34zm35 0h6v1.1h-6zm7 0h1v1.1h-1zm2 0h1v1.1h-1zm5 0h1v1.1h-1zm2 0h1v1.1h-1zm-71 1h1v1.1h-1zm4 0h1v1.1h-1zm2 0h1v1.1h-1zm5 0h1v1.1h-1zm4 0h2v1.1h-2zm4 0h1v1.1h-1zm2 0h3v1.1h-3zm4 0h35v1.1h-35zm38 0h1v1.1h-1zm15 0h1v1.1h-1zm-77 1h1v1.1h-1zm7 0h1v1.1h-1zm6 0h1v1.1h-1zm3 0h45v1.1h-45zm46 0h3v1.1h-3zm5 0h1v1.1h-1zm7 0h1v1.1h-1zm-76 1h1v1.1h-1zm9 0h4v1.1h-4zm11 0h1v1.1h-1zm2 0h1v1.1h-1zm2 0h38v1.1h-38zm39 0h2v1.1h-2zm-50 1h1v1.1h-1zm2 0h1v1.1h-1zm4 0h1v1.1h-1zm3 0h1v1.1h-1zm2 0h4v1.1h-4zm5 0h32v1.1h-32zm33 0h3v1.1h-3zm5 0h1v1.1h-1zm3 0h1v1.1h-1zm-53 1h3v1.1h-3zm8 0h39v1.1h-39zm40 0h1v1.1h-1zm2 0h1v1.1h-1zm2 0h2v1.1h-2zm4 0h1v1.1h-1zm-56 1h1v1.1h-1zm5 0h4v1.1h-4zm5 0h39v1.1h-39zm41 0h3v1.1h-3zm4 0h2v1.1h-2zm-66 1h1v1.1h-1zm6 0h1v1.1h-1zm9 0h1v1.1h-1zm3 0h2v1.1h-2zm3 0h39v1.1h-39zm40 0h1v1.1h-1zm2 0h1v1.1h-1zm4 0h2v1.1h-2zm3 0h1v1.1h-1zm-72 1h1v1.1h-1zm2 0h1v1.1h-1zm2 0h1v1.1h-1zm6 0h1v1.1h-1zm2 0h1v1.1h-1zm8 0h2v1.1h-2zm3 0h1v1.1h-1zm2 0h39v1.1h-39zm41 0h1v1.1h-1zm3 0h1v1.1h-1zm-68 1h1v1.1h-1zm9 0h1v1.1h-1zm5 0h3v1.1h-3zm5 0h1v1.1h-1zm2 0h1v1.1h-1zm3 0h1v1.1h-1zm2 0h35v1.1h-35zm36 0h2v1.1h-2zm7 0h1v1.1h-1zm-52 1h2v1.1h-2zm3 0h2v1.1h-2zm7 0h36v1.1h-36zm37 0h4v1.1h-4zm11 0h1v1.1h-1zm-71 1h1v1.1h-1zm4 0h1v1.1h-1zm6 0h1v1.1h-1zm4 0h1v1.1h-1zm4 0h7v1.1h-7zm8 0h1v1.1h-1zm2 0h32v1.1h-32zm33 0h5v1.1h-5zm-45 1h1v1.1h-1zm3 0h1v1.1h-1zm2 0h2v1.1h-2zm4 0h40v1.1h-40zm41 0h1v1.1h-1zm3 0h1v1.1h-1zm-62 1h1v1.1h-1zm9 0h2v1.1h-2zm4 0h1v1.1h-1zm3 0h40v1.1h-40zm43 0h1v1.1h-1zm2 0h2v1.1h-2zm-65 1h1v1.1h-1zm5 0h1v1.1h-1zm5 0h2v1.1h-2zm4 0h1v1.1h-1zm2 0h1v1.1h-1zm2 0h1v1.1h-1zm2 0h1v1.1h-1zm3 0h35v1.1h-35zm36 0h1v1.1h-1zm2 0h2v1.1h-2zm4 0h1v1.1h-1zm-71 1h1v1.1h-1zm10 0h1v1.1h-1zm7 0h1v1.1h-1zm8 0h3v1.1h-3zm4 0h2v1.1h-2zm4 0h39v1.1h-39zm41 0h1v1.1h-1zm-54 1h2v1.1h-2zm6 0h1v1.1h-1zm4 0h6v1.1h-6zm7 0h31v1.1h-31zm32 0h1v1.1h-1zm2 0h1v1.1h-1zm2 0h1v1.1h-1zm-63 1h1v1.1h-1zm6 0h1v1.1h-1zm6 0h2v1.1h-2zm5 0h1v1.1h-1zm4 0h33v1.1h-33zm34 0h3v1.1h-3zm4 0h1v1.1h-1zm3 0h1v1.1h-1zm-51 1h1v1.1h-1zm3 0h1v1.1h-1zm2 0h1v1.1h-1zm2 0h3v1.1h-3zm5 0h1v1.1h-1zm2 0h2v1.1h-2zm3 0h33v1.1h-33zm34 0h1v1.1h-1zm-64 1h1v1.1h-1zm10 0h1v1.1h-1zm8 0h1v1.1h-1zm3 0h3v1.1h-3zm5 0h35v1.1h-35zm36 0h2v1.1h-2zm-53 1h1v1.1h-1zm8 0h1v1.1h-1zm6 0h1v1.1h-1zm4 0h2v1.1h-2zm3 0h33v1.1h-33zm35 0h1v1.1h-1zm-57 1h1v1.1h-1zm7 0h2v1.1h-2zm5 0h1v1.1h-1zm7 0h1v1.1h-1zm2 0h37v1.1h-37zm-13 1h1v1.1h-1zm8 0h3v1.1h-3zm4 0h1v1.1h-1zm2 0h30v1.1h-30zm31 0h6v1.1h-6zm-40 1h1v1.1h-1zm4 0h2v1.1h-2zm5 0h30v1.1h-30zm31 0h6v1.1h-6zm-38 1h1v1.1h-1zm9 0h2v1.1h-2zm3 0h30v1.1h-30zm31 0h1v1.1h-1zm-43 1h1v1.1h-1zm3 0h7v1.1h-7zm8 0h32v1.1h-32zm-13 1h1v1.1h-1zm5 0h4v1.1h-4zm5 0h2v1.1h-2zm3 0h33v1.1h-33zm-18 1h1v1.1h-1zm13 0h1v1.1h-1zm3 0h35v1.1h-35zm-14 1h1v1.1h-1zm8 0h2v1.1h-2zm6 0h1v1.1h-1zm3 0h1v1.1h-1zm2 0h30v1.1h-30zm-18 1h1v1.1h-1zm8 0h2v1.1h-2zm5 0h35v1.1h-35zm-9 1h1v1.1h-1zm3 0h2v1.1h-2zm5 0h2v1.1h-2zm3 0h2v1.1h-2zm4 0h1v1.1h-1zm2 0h27v1.1h-27zm-13 1h3v1.1h-3zm7 0h5v1.1h-5zm6 0h27v1.1h-27zm-21 1h1v1.1h-1zm11 0h2v1.1h-2zm7 0h3v1.1h-3zm4 0h24v1.1h-24zm25 0h1v1.1h-1zm-43 1h1v1.1h-1zm11 0h1v1.1h-1zm8 0h1v1.1h-1zm2 0h4v1.1h-4zm5 0h18v1.1h-18zm-21 1h1v1.1h-1zm8 0h1v1.1h-1zm2 0h1v1.1h-1zm3 0h26v1.1h-26zm-12 1h1v1.1h-1zm4 0h1v1.1h-1zm3 0h1v1.1h-1zm2 0h4v1.1h-4zm6 0h23v1.1h-23zm-18 1h1v1.1h-1zm11 0h1v1.1h-1zm4 0h1v1.1h-1zm7 0h19v1.1h-19zm-27 1h1v1.1h-1zm6 0h1v1.1h-1zm8 0h1v1.1h-1zm7 0h4v1.1h-4zm5 0h20v1.1h-20zm-15 1h1v1.1h-1zm7 0h1v1.1h-1zm7 0h1v1.1h-1zm3 0h18v1.1h-18zm-17 1h1v1.1h-1zm5 0h1v1.1h-1zm2 0h1v1.1h-1zm3 0h2v1.1h-2zm5 0h1v1.1h-1zm3 0h3v1.1h-3zm4 0h13v1.1h-13z"/>
<defs><radialGradient id="gl2"><stop offset="0" stop-color="#b4dcf8" stop-opacity="1"/><stop offset="0.45" stop-color="#78b4e4" stop-opacity="0.6"/><stop offset="1" stop-color="#3d6f9e" stop-opacity="0"/></radialGradient><clipPath id="cpL2"><rect x="0" y="10" width="10" height="20"/></clipPath><clipPath id="cpB2"><rect x="10" y="0" width="20" height="10"/></clipPath><clipPath id="cpG2"><rect x="10" y="10" width="20" height="20"/></clipPath></defs>
<ellipse cx="10" cy="10" rx="7" ry="12" fill="url(#gl2)" opacity="0.95" clip-path="url(#cpL2)"/>
<ellipse cx="10" cy="10" rx="8" ry="11" fill="url(#gl2)" opacity="0.95" clip-path="url(#cpB2)"/>
<ellipse cx="10" cy="10" rx="6" ry="6" fill="url(#gl2)" opacity="0.6" clip-path="url(#cpG2)"/>
</g>
<g transform="translate(0,0)">
<line x1="308.5" y1="334.3" x2="435.3" y2="206.0" stroke="#E8472F" stroke-width="0.9"/>
<line x1="308.5" y1="308.6" x2="409.9" y2="206.0" stroke="#E8472F" stroke-width="1.1" stroke-dasharray="3.6,2.2"/>
<line x1="333.9" y1="334.3" x2="435.3" y2="231.7" stroke="#E8472F" stroke-width="1.1" stroke-dasharray="3.6,2.2"/>
</g>
<text x="340.0" y="212.1" font-size="7.2" text-anchor="middle" font-weight="bold" fill="#E03A22">1113</text>
<text x="399.6" y="330.3" font-size="7.2" text-anchor="middle" font-weight="bold" fill="#E03A22">226</text>
<defs><linearGradient id="lg4387" x1="0" y1="1" x2="0" y2="0"><stop offset="0" stop-color="#172a41"/><stop offset="1" stop-color="#86bbe8"/></linearGradient></defs>
<rect x="408.6" y="284.5" width="20" height="45.2" fill="#fff"/>
<rect x="409.6" y="291.8" width="7.4" height="35.9" fill="url(#lg4387)"/>
<text x="408.8" y="289.3" font-size="5.1" text-anchor="start" fill="#333">count</text>
<text x="418.9" y="305.3" font-size="4.7" text-anchor="start" fill="#333">100</text>
<path d="M409.6 303.6h1.4M415.6 303.6h1.4" stroke="#fff" stroke-opacity="0.7" stroke-width="0.5"/>
<text x="418.9" y="317.7" font-size="4.7" text-anchor="start" fill="#333">50</text>
<path d="M409.6 316.0h1.4M415.6 316.0h1.4" stroke="#fff" stroke-opacity="0.7" stroke-width="0.5"/>
<text x="334.9" y="303.8" font-size="7.5" text-anchor="middle" fill="#f4f6f8" transform="rotate(-45 334.9 303.8)">20853</text>
<text x="341.5" y="311.8" font-size="7.5" text-anchor="middle" fill="#f4f6f8" transform="rotate(-45 341.5 311.8)">12357</text>
<text x="314.0" y="215.9" font-size="3.9" text-anchor="middle" fill="#2a2a2a">LTBR</text>
<text x="316.0" y="228.4" font-size="3.9" text-anchor="middle" fill="#2a2a2a">LSG1</text>
<text x="327.0" y="231.4" font-size="3.9" text-anchor="middle" fill="#2a2a2a">PKD1</text>
<text x="362.0" y="217.4" font-size="3.9" text-anchor="middle" fill="#2a2a2a">PLEC</text>
<text x="341.0" y="233.4" font-size="3.9" text-anchor="middle" fill="#2a2a2a">PLEC</text>
<text x="312.0" y="272.4" font-size="3.9" text-anchor="middle" fill="#2a2a2a">PLEC</text>
<text x="434.0" y="281.4" font-size="3.9" text-anchor="middle" fill="#2a2a2a">LMO1</text>
<line x1="524.4" y1="203.4" x2="524.4" y2="342.4" stroke="#F3F3F3" stroke-width="0.55"/>
<line x1="505.6" y1="323.7" x2="645.7" y2="323.7" stroke="#F3F3F3" stroke-width="0.55"/>
<line x1="550.0" y1="203.4" x2="550.0" y2="342.4" stroke="#F3F3F3" stroke-width="0.55"/>
<line x1="505.6" y1="298.3" x2="645.7" y2="298.3" stroke="#F3F3F3" stroke-width="0.55"/>
<line x1="575.7" y1="203.4" x2="575.7" y2="342.4" stroke="#F3F3F3" stroke-width="0.55"/>
<line x1="505.6" y1="272.9" x2="645.7" y2="272.9" stroke="#F3F3F3" stroke-width="0.55"/>
<line x1="601.3" y1="203.4" x2="601.3" y2="342.4" stroke="#F3F3F3" stroke-width="0.55"/>
<line x1="505.6" y1="247.5" x2="645.7" y2="247.5" stroke="#F3F3F3" stroke-width="0.55"/>
<line x1="626.9" y1="203.4" x2="626.9" y2="342.4" stroke="#F3F3F3" stroke-width="0.55"/>
<line x1="505.6" y1="222.1" x2="645.7" y2="222.1" stroke="#F3F3F3" stroke-width="0.55"/>
<line x1="511.6" y1="203.4" x2="511.6" y2="342.4" stroke="#EAEAEA" stroke-width="1"/>
<line x1="505.6" y1="336.4" x2="645.7" y2="336.4" stroke="#EAEAEA" stroke-width="1"/>
<line x1="537.2" y1="203.4" x2="537.2" y2="342.4" stroke="#EAEAEA" stroke-width="1"/>
<line x1="505.6" y1="311.0" x2="645.7" y2="311.0" stroke="#EAEAEA" stroke-width="1"/>
<line x1="562.8" y1="203.4" x2="562.8" y2="342.4" stroke="#EAEAEA" stroke-width="1"/>
<line x1="505.6" y1="285.6" x2="645.7" y2="285.6" stroke="#EAEAEA" stroke-width="1"/>
<line x1="588.5" y1="203.4" x2="588.5" y2="342.4" stroke="#EAEAEA" stroke-width="1"/>
<line x1="505.6" y1="260.2" x2="645.7" y2="260.2" stroke="#EAEAEA" stroke-width="1"/>
<line x1="614.1" y1="203.4" x2="614.1" y2="342.4" stroke="#EAEAEA" stroke-width="1"/>
<line x1="505.6" y1="234.8" x2="645.7" y2="234.8" stroke="#EAEAEA" stroke-width="1"/>
<line x1="639.7" y1="203.4" x2="639.7" y2="342.4" stroke="#EAEAEA" stroke-width="1"/>
<line x1="505.6" y1="209.4" x2="645.7" y2="209.4" stroke="#EAEAEA" stroke-width="1"/>
<text x="511.6" y="351.9" font-size="9.1" text-anchor="middle" fill="#444">0</text>
<text x="504.4" y="339.6" font-size="9.1" text-anchor="end" fill="#444">0</text>
<text x="537.2" y="351.9" font-size="9.1" text-anchor="middle" fill="#444">20</text>
<text x="504.4" y="314.2" font-size="9.1" text-anchor="end" fill="#444">20</text>
<text x="562.8" y="351.9" font-size="9.1" text-anchor="middle" fill="#444">40</text>
<text x="504.4" y="288.8" font-size="9.1" text-anchor="end" fill="#444">40</text>
<text x="588.5" y="351.9" font-size="9.1" text-anchor="middle" fill="#444">60</text>
<text x="504.4" y="263.4" font-size="9.1" text-anchor="end" fill="#444">60</text>
<text x="614.1" y="351.9" font-size="9.1" text-anchor="middle" fill="#444">80</text>
<text x="504.4" y="238.0" font-size="9.1" text-anchor="end" fill="#444">80</text>
<text x="639.7" y="351.9" font-size="9.1" text-anchor="middle" fill="#444">100</text>
<text x="504.4" y="212.6" font-size="9.1" text-anchor="end" fill="#444">100</text>
<text x="484.3" y="273.0" font-size="9.3" text-anchor="middle" fill="#222" transform="rotate(-90 484.3 273.0)">SU-DIPGXVII m6a (%)</text>
<text x="583.6" y="365.6" font-size="9.3" text-anchor="middle" fill="#222">P000302 m6a (%)</text>
<g transform="translate(511.60,336.40) scale(1.2810,-1.2700)">
<path fill="#1a2f48" d="M0 0m10 0h10v1.1h-10zm11 0h1v1.1h-1zm2 0h1v1.1h-1zm2 0h1v1.1h-1zm6 0h1v1.1h-1zm4 0h1v1.1h-1zm-25 1h5v1.1h-5zm6 0h3v1.1h-3zm5 0h1v1.1h-1zm2 0h1v1.1h-1zm3 0h2v1.1h-2zm4 0h1v1.1h-1zm3 0h1v1.1h-1zm4 0h1v1.1h-1zm2 0h1v1.1h-1zm-29 1h12v1.1h-12zm13 0h4v1.1h-4zm5 0h1v1.1h-1zm3 0h1v1.1h-1zm7 0h2v1.1h-2zm-28 1h17v1.1h-17zm19 0h2v1.1h-2zm6 0h1v1.1h-1zm10 0h1v1.1h-1zm-35 1h16v1.1h-16zm18 0h2v1.1h-2zm6 0h1v1.1h-1zm8 0h1v1.1h-1zm10 0h1v1.1h-1zm-42 1h16v1.1h-16zm17 0h3v1.1h-3zm11 0h1v1.1h-1zm20 0h1v1.1h-1zm-48 1h17v1.1h-17zm18 0h2v1.1h-2zm4 0h3v1.1h-3zm10 0h1v1.1h-1zm-32 1h18v1.1h-18zm19 0h1v1.1h-1zm2 0h1v1.1h-1zm-21 1h19v1.1h-19zm20 0h1v1.1h-1zm3 0h1v1.1h-1zm4 0h1v1.1h-1zm5 0h1v1.1h-1zm-32 1h22v1.1h-22zm24 0h2v1.1h-2zm7 0h1v1.1h-1zm8 0h1v1.1h-1zm15 0h1v1.1h-1zm-64 1h31v1.1h-31zm34 0h1v1.1h-1zm3 0h5v1.1h-5zm22 0h1v1.1h-1zm-59 1h35v1.1h-35zm38 0h6v1.1h-6zm14 0h1v1.1h-1zm-52 1h31v1.1h-31zm32 0h4v1.1h-4zm5 0h3v1.1h-3zm5 0h2v1.1h-2zm15 0h1v1.1h-1zm-57 1h29v1.1h-29zm30 0h4v1.1h-4zm7 0h1v1.1h-1zm2 0h1v1.1h-1zm3 0h1v1.1h-1zm2 0h2v1.1h-2zm6 0h1v1.1h-1zm-50 1h38v1.1h-38zm42 0h2v1.1h-2zm9 0h1v1.1h-1zm-51 1h36v1.1h-36zm37 0h4v1.1h-4zm9 0h1v1.1h-1zm3 0h1v1.1h-1zm5 0h1v1.1h-1zm-54 1h35v1.1h-35zm36 0h5v1.1h-5zm6 0h1v1.1h-1zm2 0h2v1.1h-2zm8 0h1v1.1h-1zm-52 1h43v1.1h-43zm51 0h1v1.1h-1zm10 0h1v1.1h-1zm2 0h1v1.1h-1zm-63 1h2v1.1h-2zm3 0h36v1.1h-36zm39 0h5v1.1h-5zm6 0h1v1.1h-1zm3 0h1v1.1h-1zm5 0h1v1.1h-1zm-56 1h42v1.1h-42zm44 0h1v1.1h-1zm4 0h2v1.1h-2zm-48 1h46v1.1h-46zm47 0h1v1.1h-1zm7 0h1v1.1h-1zm19 0h1v1.1h-1zm-73 1h46v1.1h-46zm50 0h1v1.1h-1zm2 0h1v1.1h-1zm3 0h1v1.1h-1zm6 0h1v1.1h-1zm2 0h1v1.1h-1zm-63 1h47v1.1h-47zm49 0h1v1.1h-1zm2 0h4v1.1h-4zm7 0h1v1.1h-1zm-58 1h46v1.1h-46zm47 0h2v1.1h-2zm3 0h1v1.1h-1zm2 0h1v1.1h-1zm2 0h1v1.1h-1zm9 0h1v1.1h-1zm-63 1h1v1.1h-1zm2 0h47v1.1h-47zm48 0h1v1.1h-1zm6 0h2v1.1h-2zm-55 1h48v1.1h-48zm49 0h2v1.1h-2zm8 0h1v1.1h-1zm5 0h2v1.1h-2zm-60 1h46v1.1h-46zm50 0h2v1.1h-2zm3 0h1v1.1h-1zm-56 1h2v1.1h-2zm3 0h48v1.1h-48zm49 0h1v1.1h-1zm2 0h2v1.1h-2zm4 0h2v1.1h-2zm-58 1h1v1.1h-1zm2 0h1v1.1h-1zm2 0h44v1.1h-44zm45 0h2v1.1h-2zm4 0h1v1.1h-1zm2 0h1v1.1h-1zm2 0h1v1.1h-1zm3 0h1v1.1h-1zm3 0h1v1.1h-1zm2 0h1v1.1h-1zm-65 1h1v1.1h-1zm4 0h49v1.1h-49zm50 0h2v1.1h-2zm3 0h1v1.1h-1zm2 0h2v1.1h-2zm9 0h1v1.1h-1zm-66 1h2v1.1h-2zm3 0h1v1.1h-1zm2 0h48v1.1h-48zm51 0h1v1.1h-1zm2 0h2v1.1h-2zm5 0h1v1.1h-1zm10 0h1v1.1h-1zm-72 1h2v1.1h-2zm3 0h2v1.1h-2zm3 0h47v1.1h-47zm48 0h3v1.1h-3zm4 0h1v1.1h-1zm2 0h1v1.1h-1zm4 0h2v1.1h-2zm-67 1h1v1.1h-1zm3 0h55v1.1h-55zm57 0h1v1.1h-1zm2 0h2v1.1h-2zm-61 1h1v1.1h-1zm2 0h2v1.1h-2zm4 0h50v1.1h-50zm54 0h2v1.1h-2zm10 0h1v1.1h-1zm2 0h1v1.1h-1zm17 0h1v1.1h-1zm-88 1h3v1.1h-3zm4 0h52v1.1h-52zm53 0h2v1.1h-2zm3 0h2v1.1h-2zm8 0h1v1.1h-1zm3 0h1v1.1h-1zm-69 1h1v1.1h-1zm5 0h2v1.1h-2zm3 0h49v1.1h-49zm51 0h1v1.1h-1zm5 0h1v1.1h-1zm-65 1h1v1.1h-1zm3 0h3v1.1h-3zm4 0h3v1.1h-3zm5 0h47v1.1h-47zm48 0h1v1.1h-1zm2 0h1v1.1h-1zm4 0h1v1.1h-1zm2 0h1v1.1h-1zm10 0h1v1.1h-1zm-78 1h1v1.1h-1zm3 0h1v1.1h-1zm2 0h1v1.1h-1zm4 0h49v1.1h-49zm50 0h1v1.1h-1zm3 0h3v1.1h-3zm-61 1h1v1.1h-1zm3 0h2v1.1h-2zm3 0h1v1.1h-1zm2 0h1v1.1h-1zm2 0h47v1.1h-47zm48 0h1v1.1h-1zm2 0h1v1.1h-1zm2 0h1v1.1h-1zm5 0h2v1.1h-2zm5 0h2v1.1h-2zm7 0h1v1.1h-1zm-81 1h1v1.1h-1zm2 0h2v1.1h-2zm4 0h1v1.1h-1zm2 0h1v1.1h-1zm4 0h3v1.1h-3zm4 0h48v1.1h-48zm50 0h1v1.1h-1zm-63 1h2v1.1h-2zm4 0h2v1.1h-2zm6 0h49v1.1h-49zm50 0h1v1.1h-1zm3 0h1v1.1h-1zm6 0h1v1.1h-1zm21 0h1v1.1h-1zm-95 1h1v1.1h-1zm2 0h1v1.1h-1zm5 0h2v1.1h-2zm3 0h1v1.1h-1zm4 0h2v1.1h-2zm3 0h1v1.1h-1zm2 0h50v1.1h-50zm51 0h1v1.1h-1zm5 0h1v1.1h-1zm3 0h1v1.1h-1zm4 0h1v1.1h-1zm-79 1h1v1.1h-1zm4 0h1v1.1h-1zm4 0h2v1.1h-2zm4 0h1v1.1h-1zm2 0h52v1.1h-52zm53 0h2v1.1h-2zm3 0h1v1.1h-1zm-72 1h2v1.1h-2zm8 0h2v1.1h-2zm4 0h6v1.1h-6zm7 0h6v1.1h-6zm7 0h42v1.1h-42zm43 0h4v1.1h-4zm22 0h1v1.1h-1zm-91 1h1v1.1h-1zm9 0h1v1.1h-1zm2 0h2v1.1h-2zm4 0h2v1.1h-2zm3 0h1v1.1h-1zm2 0h51v1.1h-51zm52 0h1v1.1h-1zm2 0h1v1.1h-1zm-72 1h2v1.1h-2zm4 0h1v1.1h-1zm3 0h1v1.1h-1zm2 0h1v1.1h-1zm5 0h1v1.1h-1zm2 0h53v1.1h-53zm54 0h4v1.1h-4zm5 0h1v1.1h-1zm11 0h1v1.1h-1zm-85 1h1v1.1h-1zm2 0h2v1.1h-2zm4 0h1v1.1h-1zm4 0h4v1.1h-4zm5 0h1v1.1h-1zm2 0h1v1.1h-1zm2 0h45v1.1h-45zm46 0h9v1.1h-9zm10 0h2v1.1h-2zm7 0h1v1.1h-1zm-75 1h1v1.1h-1zm6 0h1v1.1h-1zm3 0h56v1.1h-56zm63 0h2v1.1h-2zm13 0h1v1.1h-1zm-85 1h2v1.1h-2zm8 0h1v1.1h-1zm4 0h3v1.1h-3zm4 0h37v1.1h-37zm38 0h4v1.1h-4zm5 0h8v1.1h-8zm14 0h1v1.1h-1zm2 0h1v1.1h-1zm12 0h1v1.1h-1zm-97 1h1v1.1h-1zm3 0h1v1.1h-1zm14 0h1v1.1h-1zm3 0h1v1.1h-1zm2 0h50v1.1h-50zm51 0h2v1.1h-2zm3 0h2v1.1h-2zm9 0h1v1.1h-1zm-75 1h1v1.1h-1zm5 0h5v1.1h-5zm6 0h2v1.1h-2zm3 0h54v1.1h-54zm59 0h1v1.1h-1zm-76 1h1v1.1h-1zm4 0h1v1.1h-1zm6 0h1v1.1h-1zm4 0h1v1.1h-1zm2 0h6v1.1h-6zm7 0h45v1.1h-45zm46 0h1v1.1h-1zm3 0h2v1.1h-2zm3 0h1v1.1h-1zm2 0h1v1.1h-1zm11 0h1v1.1h-1zm-96 1h1v1.1h-1zm10 0h1v1.1h-1zm10 0h1v1.1h-1zm5 0h2v1.1h-2zm3 0h8v1.1h-8zm9 0h44v1.1h-44zm51 0h1v1.1h-1zm3 0h1v1.1h-1zm-70 1h9v1.1h-9zm10 0h42v1.1h-42zm43 0h1v1.1h-1zm2 0h6v1.1h-6zm11 0h1v1.1h-1zm-86 1h1v1.1h-1zm21 0h2v1.1h-2zm3 0h52v1.1h-52zm53 0h3v1.1h-3zm7 0h1v1.1h-1zm2 0h1v1.1h-1zm-81 1h1v1.1h-1zm12 0h1v1.1h-1zm2 0h1v1.1h-1zm2 0h2v1.1h-2zm4 0h1v1.1h-1zm3 0h51v1.1h-51zm52 0h4v1.1h-4zm6 0h1v1.1h-1zm10 0h1v1.1h-1zm-77 1h1v1.1h-1zm6 0h1v1.1h-1zm2 0h53v1.1h-53zm55 0h1v1.1h-1zm2 0h1v1.1h-1zm7 0h1v1.1h-1zm-75 1h1v1.1h-1zm8 0h1v1.1h-1zm2 0h2v1.1h-2zm3 0h51v1.1h-51zm52 0h6v1.1h-6zm8 0h3v1.1h-3zm-76 1h1v1.1h-1zm7 0h1v1.1h-1zm4 0h1v1.1h-1zm3 0h1v1.1h-1zm2 0h3v1.1h-3zm4 0h50v1.1h-50zm52 0h1v1.1h-1zm4 0h1v1.1h-1zm-75 1h1v1.1h-1zm4 0h2v1.1h-2zm3 0h1v1.1h-1zm4 0h1v1.1h-1zm2 0h1v1.1h-1zm3 0h1v1.1h-1zm2 0h1v1.1h-1zm2 0h47v1.1h-47zm49 0h3v1.1h-3zm4 0h1v1.1h-1zm8 0h1v1.1h-1zm-79 1h1v1.1h-1zm3 0h1v1.1h-1zm3 0h1v1.1h-1zm2 0h2v1.1h-2zm3 0h3v1.1h-3zm4 0h51v1.1h-51zm52 0h1v1.1h-1zm8 0h1v1.1h-1zm-79 1h1v1.1h-1zm7 0h1v1.1h-1zm2 0h1v1.1h-1zm2 0h1v1.1h-1zm3 0h1v1.1h-1zm4 0h2v1.1h-2zm4 0h54v1.1h-54zm55 0h1v1.1h-1zm3 0h1v1.1h-1zm6 0h1v1.1h-1zm-76 1h1v1.1h-1zm2 0h2v1.1h-2zm3 0h1v1.1h-1zm5 0h54v1.1h-54zm55 0h1v1.1h-1zm-61 1h1v1.1h-1zm4 0h1v1.1h-1zm5 0h51v1.1h-51zm52 0h2v1.1h-2zm-63 1h1v1.1h-1zm4 0h3v1.1h-3zm5 0h51v1.1h-51zm52 0h5v1.1h-5zm6 0h2v1.1h-2zm5 0h2v1.1h-2zm-75 1h1v1.1h-1zm2 0h1v1.1h-1zm7 0h1v1.1h-1zm2 0h2v1.1h-2zm6 0h52v1.1h-52zm53 0h2v1.1h-2zm3 0h1v1.1h-1zm4 0h1v1.1h-1zm-82 1h1v1.1h-1zm12 0h1v1.1h-1zm6 0h2v1.1h-2zm4 0h46v1.1h-46zm47 0h6v1.1h-6zm8 0h1v1.1h-1zm2 0h1v1.1h-1zm-79 1h1v1.1h-1zm13 0h1v1.1h-1zm4 0h3v1.1h-3zm4 0h1v1.1h-1zm3 0h1v1.1h-1zm2 0h47v1.1h-47zm48 0h1v1.1h-1zm2 0h1v1.1h-1zm4 0h1v1.1h-1zm-68 1h1v1.1h-1zm7 0h3v1.1h-3zm4 0h49v1.1h-49zm50 0h1v1.1h-1zm3 0h1v1.1h-1zm4 0h2v1.1h-2zm-86 1h1v1.1h-1zm15 0h1v1.1h-1zm3 0h1v1.1h-1zm6 0h1v1.1h-1zm3 0h3v1.1h-3zm5 0h1v1.1h-1zm2 0h2v1.1h-2zm4 0h46v1.1h-46zm48 0h1v1.1h-1zm-63 1h2v1.1h-2zm5 0h3v1.1h-3zm5 0h2v1.1h-2zm3 0h48v1.1h-48zm53 0h1v1.1h-1zm-75 1h2v1.1h-2zm3 0h1v1.1h-1zm8 0h1v1.1h-1zm6 0h1v1.1h-1zm3 0h44v1.1h-44zm45 0h6v1.1h-6zm8 0h1v1.1h-1zm-83 1h1v1.1h-1zm11 0h1v1.1h-1zm11 0h1v1.1h-1zm2 0h1v1.1h-1zm2 0h1v1.1h-1zm2 0h1v1.1h-1zm2 0h49v1.1h-49zm52 0h1v1.1h-1zm2 0h1v1.1h-1zm-69 1h1v1.1h-1zm6 0h1v1.1h-1zm2 0h1v1.1h-1zm4 0h1v1.1h-1zm6 0h43v1.1h-43zm44 0h2v1.1h-2zm4 0h1v1.1h-1zm2 0h2v1.1h-2zm-74 1h1v1.1h-1zm5 0h1v1.1h-1zm9 0h1v1.1h-1zm3 0h3v1.1h-3zm4 0h1v1.1h-1zm2 0h2v1.1h-2zm4 0h1v1.1h-1zm2 0h47v1.1h-47zm-23 1h1v1.1h-1zm8 0h1v1.1h-1zm5 0h3v1.1h-3zm5 0h1v1.1h-1zm2 0h2v1.1h-2zm3 0h45v1.1h-45zm47 0h1v1.1h-1zm-63 1h2v1.1h-2zm5 0h3v1.1h-3zm4 0h1v1.1h-1zm3 0h1v1.1h-1zm2 0h2v1.1h-2zm3 0h42v1.1h-42zm43 0h2v1.1h-2zm3 0h1v1.1h-1zm-69 1h1v1.1h-1zm2 0h1v1.1h-1zm5 0h1v1.1h-1zm5 0h1v1.1h-1zm2 0h1v1.1h-1zm3 0h1v1.1h-1zm2 0h50v1.1h-50zm-9 1h1v1.1h-1zm2 0h1v1.1h-1zm2 0h4v1.1h-4zm5 0h1v1.1h-1zm2 0h1v1.1h-1zm2 0h44v1.1h-44zm46 0h1v1.1h-1zm-51 1h1v1.1h-1zm5 0h42v1.1h-42zm43 0h1v1.1h-1zm2 0h2v1.1h-2zm-55 1h1v1.1h-1zm3 0h1v1.1h-1zm5 0h4v1.1h-4zm5 0h44v1.1h-44zm-32 1h1v1.1h-1zm13 0h1v1.1h-1zm11 0h1v1.1h-1zm8 0h41v1.1h-41zm43 0h1v1.1h-1zm-63 1h1v1.1h-1zm14 0h2v1.1h-2zm3 0h4v1.1h-4zm5 0h40v1.1h-40zm41 0h1v1.1h-1zm-51 1h2v1.1h-2zm6 0h2v1.1h-2zm3 0h2v1.1h-2zm4 0h2v1.1h-2zm3 0h36v1.1h-36zm-31 1h1v1.1h-1zm18 0h1v1.1h-1zm5 0h4v1.1h-4zm5 0h2v1.1h-2zm3 0h36v1.1h-36zm-21 1h4v1.1h-4zm15 0h1v1.1h-1zm2 0h1v1.1h-1zm4 0h36v1.1h-36zm-19 1h1v1.1h-1zm2 0h1v1.1h-1zm5 0h2v1.1h-2zm3 0h1v1.1h-1zm3 0h1v1.1h-1zm2 0h2v1.1h-2zm3 0h1v1.1h-1zm2 0h1v1.1h-1zm2 0h2v1.1h-2zm3 0h30v1.1h-30zm-33 1h1v1.1h-1zm12 0h3v1.1h-3zm5 0h1v1.1h-1zm2 0h2v1.1h-2zm3 0h2v1.1h-2zm3 0h3v1.1h-3zm4 0h34v1.1h-34zm-23 1h1v1.1h-1zm11 0h1v1.1h-1zm6 0h2v1.1h-2zm4 0h2v1.1h-2zm3 0h30v1.1h-30zm31 0h2v1.1h-2zm-57 1h1v1.1h-1zm13 0h1v1.1h-1zm5 0h1v1.1h-1zm2 0h2v1.1h-2zm3 0h36v1.1h-36zm-12 1h1v1.1h-1zm5 0h3v1.1h-3zm4 0h2v1.1h-2zm3 0h36v1.1h-36zm-7 1h2v1.1h-2zm4 0h1v1.1h-1zm3 0h1v1.1h-1zm2 0h1v1.1h-1zm2 0h1v1.1h-1zm3 0h29v1.1h-29zm-30 1h1v1.1h-1zm13 0h1v1.1h-1zm3 0h1v1.1h-1zm3 0h1v1.1h-1zm4 0h1v1.1h-1zm2 0h1v1.1h-1zm3 0h31v1.1h-31zm-5 1h1v1.1h-1zm4 0h3v1.1h-3zm4 0h28v1.1h-28zm-15 1h2v1.1h-2zm5 0h1v1.1h-1zm2 0h1v1.1h-1zm2 0h2v1.1h-2zm3 0h1v1.1h-1zm3 0h2v1.1h-2zm5 0h23v1.1h-23zm-32 1h1v1.1h-1zm9 0h1v1.1h-1zm8 0h1v1.1h-1zm3 0h4v1.1h-4zm5 0h2v1.1h-2zm4 0h26v1.1h-26zm-14 1h1v1.1h-1zm7 0h2v1.1h-2zm3 0h3v1.1h-3zm5 0h25v1.1h-25zm-23 1h1v1.1h-1zm8 0h1v1.1h-1zm6 0h1v1.1h-1zm3 0h1v1.1h-1zm2 0h1v1.1h-1zm2 0h4v1.1h-4zm5 0h1v1.1h-1zm2 0h20v1.1h-20zm-34 1h1v1.1h-1zm9 0h1v1.1h-1zm12 0h1v1.1h-1zm5 0h1v1.1h-1zm4 0h2v1.1h-2zm4 0h20v1.1h-20zm-11 1h1v1.1h-1zm3 0h1v1.1h-1zm2 0h5v1.1h-5zm6 0h20v1.1h-20zm-24 1h1v1.1h-1zm5 0h1v1.1h-1zm2 0h1v1.1h-1zm7 0h1v1.1h-1zm2 0h1v1.1h-1zm6 0h2v1.1h-2zm3 0h2v1.1h-2zm3 0h16v1.1h-16z"/>
<defs><radialGradient id="gl3"><stop offset="0" stop-color="#b4dcf8" stop-opacity="1"/><stop offset="0.45" stop-color="#78b4e4" stop-opacity="0.6"/><stop offset="1" stop-color="#3d6f9e" stop-opacity="0"/></radialGradient><clipPath id="cpL3"><rect x="0" y="10" width="10" height="25"/></clipPath><clipPath id="cpB3"><rect x="10" y="0" width="25" height="10"/></clipPath><clipPath id="cpG3"><rect x="10" y="10" width="20" height="20"/></clipPath></defs>
<ellipse cx="10" cy="10" rx="8" ry="16" fill="url(#gl3)" opacity="0.95" clip-path="url(#cpL3)"/>
<ellipse cx="10" cy="10" rx="10" ry="12" fill="url(#gl3)" opacity="0.95" clip-path="url(#cpB3)"/>
<ellipse cx="10" cy="10" rx="7" ry="7" fill="url(#gl3)" opacity="0.6" clip-path="url(#cpG3)"/>
</g>
<g transform="translate(0,0)">
<line x1="511.6" y1="336.4" x2="639.7" y2="209.4" stroke="#E8472F" stroke-width="0.9"/>
<line x1="511.6" y1="311.0" x2="614.1" y2="209.4" stroke="#E8472F" stroke-width="1.1" stroke-dasharray="3.6,2.2"/>
<line x1="537.2" y1="336.4" x2="639.7" y2="234.8" stroke="#E8472F" stroke-width="1.1" stroke-dasharray="3.6,2.2"/>
</g>
<text x="522.0" y="230.3" font-size="7.2" text-anchor="middle" font-weight="bold" fill="#E03A22">1808</text>
<text x="602.0" y="333.6" font-size="7.2" text-anchor="middle" font-weight="bold" fill="#E03A22">237</text>
<defs><linearGradient id="lg6572" x1="0" y1="1" x2="0" y2="0"><stop offset="0" stop-color="#172a41"/><stop offset="1" stop-color="#86bbe8"/></linearGradient></defs>
<rect x="627.3" y="282.0" width="20" height="46.7" fill="#fff"/>
<rect x="628.3" y="289.8" width="7.4" height="36.9" fill="url(#lg6572)"/>
<text x="627.5" y="286.8" font-size="5.1" text-anchor="start" fill="#333">count</text>
<text x="637.6" y="292.2" font-size="4.7" text-anchor="start" fill="#333">250</text>
<path d="M628.3 290.5h1.4M634.3 290.5h1.4" stroke="#fff" stroke-opacity="0.7" stroke-width="0.5"/>
<text x="637.6" y="299.7" font-size="4.7" text-anchor="start" fill="#333">200</text>
<path d="M628.3 298.0h1.4M634.3 298.0h1.4" stroke="#fff" stroke-opacity="0.7" stroke-width="0.5"/>
<text x="637.6" y="307.2" font-size="4.7" text-anchor="start" fill="#333">150</text>
<path d="M628.3 305.5h1.4M634.3 305.5h1.4" stroke="#fff" stroke-opacity="0.7" stroke-width="0.5"/>
<text x="637.6" y="314.7" font-size="4.7" text-anchor="start" fill="#333">100</text>
<path d="M628.3 313.0h1.4M634.3 313.0h1.4" stroke="#fff" stroke-opacity="0.7" stroke-width="0.5"/>
<text x="637.6" y="322.2" font-size="4.7" text-anchor="start" fill="#333">50</text>
<path d="M628.3 320.5h1.4M634.3 320.5h1.4" stroke="#fff" stroke-opacity="0.7" stroke-width="0.5"/>
<text x="537.0" y="306.2" font-size="7.5" text-anchor="middle" fill="#f4f6f8" transform="rotate(-45 537.0 306.2)">36837</text>
<text x="544.6" y="314.6" font-size="7.5" text-anchor="middle" fill="#f4f6f8" transform="rotate(-45 544.6 314.6)">15832</text>
<text x="522.0" y="215.9" font-size="3.9" text-anchor="middle" fill="#2a2a2a">SMARCAD2</text>
<text x="572.0" y="215.4" font-size="3.9" text-anchor="middle" fill="#2a2a2a">TFPAL</text>
<text x="590.0" y="209.4" font-size="3.9" text-anchor="middle" fill="#2a2a2a">DIP2A</text>
<text x="561.0" y="221.9" font-size="3.9" text-anchor="middle" fill="#2a2a2a">KCDT5</text>
<text x="550.0" y="227.9" font-size="3.9" text-anchor="middle" fill="#2a2a2a">TIMP2</text>
<text x="543.0" y="237.4" font-size="3.9" text-anchor="middle" fill="#2a2a2a">ARL4C</text>
<text x="536.0" y="245.4" font-size="3.9" text-anchor="middle" fill="#2a2a2a">CHST14</text>
<text x="508.8" y="253.1" font-size="3.9" text-anchor="middle" fill="#2a2a2a">PSMD2</text>
<text x="515.5" y="270.6" font-size="3.9" text-anchor="middle" fill="#2a2a2a">NRP1</text>
<text x="615.0" y="264.4" font-size="3.9" text-anchor="middle" fill="#2a2a2a">CDC42EP5</text>
<text x="620.0" y="271.4" font-size="3.9" text-anchor="middle" fill="#2a2a2a">CENPX</text>
<text x="597.0" y="288.4" font-size="3.9" text-anchor="middle" fill="#2a2a2a">GREP</text>
<text x="600.0" y="299.4" font-size="3.9" text-anchor="middle" fill="#2a2a2a">RRP1A</text>
<text x="617.0" y="301.4" font-size="3.9" text-anchor="middle" fill="#2a2a2a">SLC1A1</text>
<text x="587.0" y="303.4" font-size="3.9" text-anchor="middle" fill="#2a2a2a">AURKA</text>
<text x="585.0" y="309.4" font-size="3.9" text-anchor="middle" fill="#2a2a2a">PLK2</text>
<text x="613.0" y="317.4" font-size="3.9" text-anchor="middle" fill="#2a2a2a">CDC42</text>
<text x="601.0" y="321.4" font-size="3.9" text-anchor="middle" fill="#2a2a2a">EZH1</text>
<text x="589.0" y="324.4" font-size="3.9" text-anchor="middle" fill="#2a2a2a">CATAD2</text>
<text x="576.0" y="330.4" font-size="3.9" text-anchor="middle" fill="#2a2a2a">EZH1</text>
<text x="569.0" y="336.4" font-size="3.9" text-anchor="middle" fill="#2a2a2a">CENPV</text>
<line x1="111.0" y1="383.4" x2="111.0" y2="525.2" stroke="#F3F3F3" stroke-width="0.55"/>
<line x1="92.0" y1="506.1" x2="233.0" y2="506.1" stroke="#F3F3F3" stroke-width="0.55"/>
<line x1="136.7" y1="383.4" x2="136.7" y2="525.2" stroke="#F3F3F3" stroke-width="0.55"/>
<line x1="92.0" y1="480.2" x2="233.0" y2="480.2" stroke="#F3F3F3" stroke-width="0.55"/>
<line x1="162.5" y1="383.4" x2="162.5" y2="525.2" stroke="#F3F3F3" stroke-width="0.55"/>
<line x1="92.0" y1="454.3" x2="233.0" y2="454.3" stroke="#F3F3F3" stroke-width="0.55"/>
<line x1="188.3" y1="383.4" x2="188.3" y2="525.2" stroke="#F3F3F3" stroke-width="0.55"/>
<line x1="92.0" y1="428.4" x2="233.0" y2="428.4" stroke="#F3F3F3" stroke-width="0.55"/>
<line x1="214.0" y1="383.4" x2="214.0" y2="525.2" stroke="#F3F3F3" stroke-width="0.55"/>
<line x1="92.0" y1="402.5" x2="233.0" y2="402.5" stroke="#F3F3F3" stroke-width="0.55"/>
<line x1="98.1" y1="383.4" x2="98.1" y2="525.2" stroke="#EAEAEA" stroke-width="1"/>
<line x1="92.0" y1="519.1" x2="233.0" y2="519.1" stroke="#EAEAEA" stroke-width="1"/>
<line x1="123.9" y1="383.4" x2="123.9" y2="525.2" stroke="#EAEAEA" stroke-width="1"/>
<line x1="92.0" y1="493.2" x2="233.0" y2="493.2" stroke="#EAEAEA" stroke-width="1"/>
<line x1="149.6" y1="383.4" x2="149.6" y2="525.2" stroke="#EAEAEA" stroke-width="1"/>
<line x1="92.0" y1="467.3" x2="233.0" y2="467.3" stroke="#EAEAEA" stroke-width="1"/>
<line x1="175.4" y1="383.4" x2="175.4" y2="525.2" stroke="#EAEAEA" stroke-width="1"/>
<line x1="92.0" y1="441.3" x2="233.0" y2="441.3" stroke="#EAEAEA" stroke-width="1"/>
<line x1="201.1" y1="383.4" x2="201.1" y2="525.2" stroke="#EAEAEA" stroke-width="1"/>
<line x1="92.0" y1="415.4" x2="233.0" y2="415.4" stroke="#EAEAEA" stroke-width="1"/>
<line x1="226.9" y1="383.4" x2="226.9" y2="525.2" stroke="#EAEAEA" stroke-width="1"/>
<line x1="92.0" y1="389.5" x2="233.0" y2="389.5" stroke="#EAEAEA" stroke-width="1"/>
<text x="98.1" y="534.7" font-size="9.1" text-anchor="middle" fill="#444">0</text>
<text x="90.8" y="522.3" font-size="9.1" text-anchor="end" fill="#444">0</text>
<text x="123.9" y="534.7" font-size="9.1" text-anchor="middle" fill="#444">20</text>
<text x="90.8" y="496.4" font-size="9.1" text-anchor="end" fill="#444">20</text>
<text x="149.6" y="534.7" font-size="9.1" text-anchor="middle" fill="#444">40</text>
<text x="90.8" y="470.5" font-size="9.1" text-anchor="end" fill="#444">40</text>
<text x="175.4" y="534.7" font-size="9.1" text-anchor="middle" fill="#444">60</text>
<text x="90.8" y="444.6" font-size="9.1" text-anchor="end" fill="#444">60</text>
<text x="201.1" y="534.7" font-size="9.1" text-anchor="middle" fill="#444">80</text>
<text x="90.8" y="418.7" font-size="9.1" text-anchor="end" fill="#444">80</text>
<text x="226.9" y="534.7" font-size="9.1" text-anchor="middle" fill="#444">100</text>
<text x="90.8" y="392.7" font-size="9.1" text-anchor="end" fill="#444">100</text>
<text x="69.9" y="455.0" font-size="9.3" text-anchor="middle" fill="#222" transform="rotate(-90 69.9 455.0)">SU-DIPGXVII m6a (%)</text>
<text x="161.9" y="550.9" font-size="9.3" text-anchor="middle" fill="#222">P000302 m6a (%)</text>
<g transform="translate(98.10,519.10) scale(1.2880,-1.2960)">
<path fill="#1a2f48" d="M0 0m10 0h6v1.1h-6zm9 0h1v1.1h-1zm3 0h2v1.1h-2zm-12 1h9v1.1h-9zm0 1h8v1.1h-8zm9 0h4v1.1h-4zm7 0h1v1.1h-1zm-16 1h9v1.1h-9zm10 0h1v1.1h-1zm6 0h1v1.1h-1zm-16 1h9v1.1h-9zm13 0h1v1.1h-1zm7 0h2v1.1h-2zm-20 1h11v1.1h-11zm12 0h2v1.1h-2zm7 0h1v1.1h-1zm-19 1h12v1.1h-12zm13 0h1v1.1h-1zm2 0h1v1.1h-1zm2 0h2v1.1h-2zm-17 1h12v1.1h-12zm14 0h2v1.1h-2zm7 0h1v1.1h-1zm-21 1h14v1.1h-14zm15 0h2v1.1h-2zm7 0h1v1.1h-1zm2 0h1v1.1h-1zm-24 1h15v1.1h-15zm20 0h1v1.1h-1zm15 0h1v1.1h-1zm-45 1h27v1.1h-27zm28 0h1v1.1h-1zm2 0h1v1.1h-1zm2 0h2v1.1h-2zm-32 1h26v1.1h-26zm27 0h4v1.1h-4zm5 0h1v1.1h-1zm-32 1h26v1.1h-26zm28 0h2v1.1h-2zm-28 1h33v1.1h-33zm0 1h27v1.1h-27zm28 0h3v1.1h-3zm4 0h2v1.1h-2zm3 0h3v1.1h-3zm11 0h1v1.1h-1zm-46 1h31v1.1h-31zm32 0h1v1.1h-1zm2 0h1v1.1h-1zm-34 1h31v1.1h-31zm32 0h1v1.1h-1zm2 0h3v1.1h-3zm-34 1h32v1.1h-32zm33 0h2v1.1h-2zm3 0h1v1.1h-1zm-36 1h33v1.1h-33zm34 0h1v1.1h-1zm2 0h1v1.1h-1zm5 0h2v1.1h-2zm-41 1h37v1.1h-37zm38 0h1v1.1h-1zm2 0h1v1.1h-1zm-40 1h39v1.1h-39zm1 1h33v1.1h-33zm34 0h3v1.1h-3zm10 0h1v1.1h-1zm-43 1h35v1.1h-35zm36 0h2v1.1h-2zm-35 1h36v1.1h-36zm38 0h2v1.1h-2zm-41 1h2v1.1h-2zm3 0h41v1.1h-41zm0 1h39v1.1h-39zm40 0h1v1.1h-1zm-41 1h42v1.1h-42zm-1 1h1v1.1h-1zm2 0h3v1.1h-3zm4 0h35v1.1h-35zm39 0h2v1.1h-2zm-44 1h2v1.1h-2zm3 0h39v1.1h-39zm44 0h1v1.1h-1zm4 0h1v1.1h-1zm-50 1h1v1.1h-1zm2 0h3v1.1h-3zm4 0h36v1.1h-36zm37 0h2v1.1h-2zm3 0h1v1.1h-1zm-44 1h2v1.1h-2zm3 0h38v1.1h-38zm40 0h1v1.1h-1zm-44 1h1v1.1h-1zm2 0h1v1.1h-1zm2 0h1v1.1h-1zm2 0h38v1.1h-38zm40 0h1v1.1h-1zm2 0h1v1.1h-1zm-51 1h1v1.1h-1zm2 0h1v1.1h-1zm3 0h1v1.1h-1zm4 0h1v1.1h-1zm2 0h36v1.1h-36zm37 0h1v1.1h-1zm2 0h1v1.1h-1zm4 0h1v1.1h-1zm-50 1h1v1.1h-1zm2 0h2v1.1h-2zm5 0h36v1.1h-36zm55 0h1v1.1h-1zm-58 1h1v1.1h-1zm2 0h37v1.1h-37zm38 0h2v1.1h-2zm3 0h1v1.1h-1zm13 0h1v1.1h-1zm-59 1h1v1.1h-1zm6 0h7v1.1h-7zm8 0h32v1.1h-32zm-16 1h1v1.1h-1zm10 0h2v1.1h-2zm3 0h32v1.1h-32zm39 0h1v1.1h-1zm-48 1h1v1.1h-1zm3 0h1v1.1h-1zm5 0h37v1.1h-37zm-7 1h2v1.1h-2zm6 0h34v1.1h-34zm35 0h3v1.1h-3zm4 0h1v1.1h-1zm5 0h1v1.1h-1zm-45 1h1v1.1h-1zm3 0h3v1.1h-3zm4 0h28v1.1h-28zm29 0h5v1.1h-5zm7 0h1v1.1h-1zm3 0h1v1.1h-1zm-57 1h1v1.1h-1zm6 0h1v1.1h-1zm7 0h2v1.1h-2zm5 0h30v1.1h-30zm31 0h1v1.1h-1zm2 0h2v1.1h-2zm3 0h1v1.1h-1zm2 0h1v1.1h-1zm-43 1h2v1.1h-2zm3 0h33v1.1h-33zm38 0h1v1.1h-1zm-49 1h2v1.1h-2zm10 0h2v1.1h-2zm3 0h32v1.1h-32zm34 0h1v1.1h-1zm4 0h1v1.1h-1zm-43 1h2v1.1h-2zm4 0h1v1.1h-1zm2 0h30v1.1h-30zm31 0h1v1.1h-1zm8 0h1v1.1h-1zm4 0h1v1.1h-1zm-43 1h33v1.1h-33zm34 0h1v1.1h-1zm5 0h1v1.1h-1zm-42 1h1v1.1h-1zm2 0h2v1.1h-2zm4 0h30v1.1h-30zm31 0h1v1.1h-1zm5 0h1v1.1h-1zm-43 1h2v1.1h-2zm4 0h1v1.1h-1zm3 0h30v1.1h-30zm31 0h1v1.1h-1zm-35 1h1v1.1h-1zm5 0h1v1.1h-1zm2 0h21v1.1h-21zm22 0h6v1.1h-6zm9 0h1v1.1h-1zm-46 1h1v1.1h-1zm9 0h1v1.1h-1zm2 0h1v1.1h-1zm3 0h25v1.1h-25zm26 0h3v1.1h-3zm-32 1h1v1.1h-1zm3 0h1v1.1h-1zm2 0h27v1.1h-27zm28 0h3v1.1h-3zm5 0h1v1.1h-1zm10 0h1v1.1h-1zm-61 1h1v1.1h-1zm9 0h1v1.1h-1zm4 0h2v1.1h-2zm4 0h3v1.1h-3zm4 0h26v1.1h-26zm27 0h2v1.1h-2zm3 0h1v1.1h-1zm2 0h1v1.1h-1zm-38 1h1v1.1h-1zm7 0h2v1.1h-2zm3 0h11v1.1h-11zm12 0h13v1.1h-13zm15 0h2v1.1h-2zm4 0h2v1.1h-2zm-38 1h1v1.1h-1zm2 0h1v1.1h-1zm6 0h1v1.1h-1zm3 0h7v1.1h-7zm8 0h8v1.1h-8zm9 0h2v1.1h-2zm4 0h2v1.1h-2zm-31 1h2v1.1h-2zm5 0h6v1.1h-6zm7 0h12v1.1h-12zm13 0h1v1.1h-1zm4 0h1v1.1h-1zm4 0h1v1.1h-1zm-46 1h1v1.1h-1zm2 0h1v1.1h-1zm3 0h1v1.1h-1zm2 0h1v1.1h-1zm5 0h1v1.1h-1zm3 0h1v1.1h-1zm3 0h1v1.1h-1zm3 0h7v1.1h-7zm8 0h3v1.1h-3zm4 0h2v1.1h-2zm3 0h9v1.1h-9zm10 0h1v1.1h-1zm2 0h1v1.1h-1zm3 0h2v1.1h-2zm7 0h1v1.1h-1zm-41 1h1v1.1h-1zm4 0h1v1.1h-1zm3 0h4v1.1h-4zm5 0h11v1.1h-11zm12 0h4v1.1h-4zm5 0h5v1.1h-5zm-37 1h2v1.1h-2zm8 0h1v1.1h-1zm3 0h1v1.1h-1zm2 0h1v1.1h-1zm2 0h1v1.1h-1zm3 0h10v1.1h-10zm12 0h3v1.1h-3zm4 0h3v1.1h-3zm4 0h3v1.1h-3zm5 0h1v1.1h-1zm3 0h1v1.1h-1zm-32 1h1v1.1h-1zm4 0h1v1.1h-1zm3 0h4v1.1h-4zm7 0h5v1.1h-5zm6 0h5v1.1h-5zm6 0h2v1.1h-2zm-35 1h1v1.1h-1zm3 0h1v1.1h-1zm9 0h1v1.1h-1zm3 0h2v1.1h-2zm4 0h2v1.1h-2zm4 0h4v1.1h-4zm7 0h2v1.1h-2zm3 0h2v1.1h-2zm3 0h1v1.1h-1zm8 0h1v1.1h-1zm-43 1h1v1.1h-1zm10 0h2v1.1h-2zm6 0h2v1.1h-2zm3 0h2v1.1h-2zm4 0h8v1.1h-8zm9 0h6v1.1h-6zm-49 1h1v1.1h-1zm31 0h1v1.1h-1zm6 0h1v1.1h-1zm2 0h1v1.1h-1zm2 0h10v1.1h-10zm13 0h1v1.1h-1zm2 0h1v1.1h-1zm5 0h1v1.1h-1zm-29 1h1v1.1h-1zm6 0h1v1.1h-1zm3 0h9v1.1h-9zm10 0h3v1.1h-3zm10 0h1v1.1h-1zm-24 1h1v1.1h-1zm2 0h1v1.1h-1zm5 0h6v1.1h-6zm7 0h3v1.1h-3zm4 0h1v1.1h-1zm5 0h1v1.1h-1zm7 0h1v1.1h-1zm5 0h1v1.1h-1zm-42 1h1v1.1h-1zm2 0h2v1.1h-2zm6 0h1v1.1h-1zm5 0h3v1.1h-3zm4 0h3v1.1h-3zm4 0h2v1.1h-2zm9 0h1v1.1h-1zm8 0h1v1.1h-1zm-39 1h1v1.1h-1zm8 0h2v1.1h-2zm7 0h1v1.1h-1zm2 0h4v1.1h-4zm5 0h2v1.1h-2zm3 0h1v1.1h-1zm2 0h4v1.1h-4zm9 0h1v1.1h-1zm-25 1h1v1.1h-1zm6 0h1v1.1h-1zm2 0h1v1.1h-1zm5 0h3v1.1h-3zm4 0h3v1.1h-3zm4 0h1v1.1h-1zm4 0h1v1.1h-1zm-25 1h4v1.1h-4zm5 0h2v1.1h-2zm3 0h1v1.1h-1zm3 0h1v1.1h-1zm3 0h1v1.1h-1zm2 0h4v1.1h-4zm5 0h1v1.1h-1zm-17 1h1v1.1h-1zm3 0h5v1.1h-5zm7 0h3v1.1h-3zm4 0h1v1.1h-1zm2 0h1v1.1h-1zm2 0h1v1.1h-1zm-32 1h1v1.1h-1zm4 0h1v1.1h-1zm5 0h1v1.1h-1zm7 0h1v1.1h-1zm3 0h1v1.1h-1zm2 0h2v1.1h-2zm4 0h2v1.1h-2zm4 0h1v1.1h-1zm2 0h2v1.1h-2zm3 0h3v1.1h-3zm6 0h1v1.1h-1zm-45 1h1v1.1h-1zm12 0h1v1.1h-1zm8 0h1v1.1h-1zm3 0h1v1.1h-1zm2 0h1v1.1h-1zm7 0h1v1.1h-1zm2 0h1v1.1h-1zm4 0h2v1.1h-2zm-15 1h1v1.1h-1zm4 0h6v1.1h-6zm9 0h1v1.1h-1zm4 0h1v1.1h-1zm4 0h1v1.1h-1zm3 0h1v1.1h-1zm-27 1h1v1.1h-1zm2 0h3v1.1h-3zm4 0h7v1.1h-7zm9 0h4v1.1h-4zm5 0h1v1.1h-1zm3 0h1v1.1h-1zm13 0h1v1.1h-1zm-38 1h1v1.1h-1zm10 0h1v1.1h-1zm3 0h1v1.1h-1zm4 0h1v1.1h-1zm3 0h2v1.1h-2zm3 0h1v1.1h-1zm-16 1h2v1.1h-2zm4 0h1v1.1h-1zm3 0h1v1.1h-1zm2 0h1v1.1h-1zm2 0h7v1.1h-7zm8 0h1v1.1h-1zm-16 1h1v1.1h-1zm3 0h1v1.1h-1zm5 0h1v1.1h-1zm3 0h1v1.1h-1zm2 0h2v1.1h-2zm7 0h1v1.1h-1zm2 0h1v1.1h-1zm12 0h1v1.1h-1zm-40 1h3v1.1h-3zm10 0h2v1.1h-2zm5 0h2v1.1h-2zm4 0h3v1.1h-3zm4 0h1v1.1h-1zm2 0h1v1.1h-1zm-18 1h1v1.1h-1zm3 0h2v1.1h-2zm4 0h5v1.1h-5zm7 0h2v1.1h-2zm4 0h1v1.1h-1zm6 0h1v1.1h-1zm-36 1h1v1.1h-1zm15 0h1v1.1h-1zm2 0h2v1.1h-2zm8 0h1v1.1h-1zm5 0h1v1.1h-1zm4 0h1v1.1h-1zm-20 1h1v1.1h-1zm3 0h2v1.1h-2zm3 0h3v1.1h-3zm4 0h2v1.1h-2zm3 0h1v1.1h-1zm4 0h1v1.1h-1zm3 0h1v1.1h-1zm6 0h1v1.1h-1zm-32 1h1v1.1h-1zm7 0h1v1.1h-1zm2 0h1v1.1h-1zm2 0h3v1.1h-3zm4 0h2v1.1h-2zm3 0h2v1.1h-2zm3 0h1v1.1h-1zm3 0h1v1.1h-1zm3 0h1v1.1h-1zm3 0h1v1.1h-1zm-26 1h1v1.1h-1zm2 0h1v1.1h-1zm6 0h2v1.1h-2zm3 0h1v1.1h-1zm2 0h2v1.1h-2zm4 0h1v1.1h-1zm10 0h1v1.1h-1zm-32 1h1v1.1h-1zm16 0h9v1.1h-9zm16 0h2v1.1h-2zm6 0h1v1.1h-1zm-31 1h1v1.1h-1zm6 0h2v1.1h-2zm3 0h1v1.1h-1zm2 0h1v1.1h-1zm2 0h1v1.1h-1zm3 0h1v1.1h-1zm2 0h2v1.1h-2zm3 0h2v1.1h-2zm-38 1h1v1.1h-1zm11 0h1v1.1h-1zm11 0h5v1.1h-5zm6 0h8v1.1h-8zm9 0h2v1.1h-2zm3 0h1v1.1h-1zm4 0h1v1.1h-1zm-29 1h1v1.1h-1zm11 0h1v1.1h-1zm2 0h1v1.1h-1zm3 0h2v1.1h-2zm3 0h4v1.1h-4zm5 0h1v1.1h-1zm-22 1h1v1.1h-1zm3 0h1v1.1h-1zm4 0h1v1.1h-1zm4 0h7v1.1h-7zm8 0h1v1.1h-1zm2 0h1v1.1h-1zm6 0h1v1.1h-1zm-15 1h1v1.1h-1zm2 0h7v1.1h-7zm12 0h1v1.1h-1zm-26 1h1v1.1h-1zm5 0h1v1.1h-1zm8 0h9v1.1h-9zm10 0h2v1.1h-2zm7 0h1v1.1h-1zm-21 1h1v1.1h-1zm2 0h1v1.1h-1zm2 0h3v1.1h-3zm4 0h7v1.1h-7zm11 0h1v1.1h-1zm-16 1h3v1.1h-3zm4 0h1v1.1h-1zm3 0h1v1.1h-1zm3 0h6v1.1h-6zm-8 1h2v1.1h-2zm3 0h3v1.1h-3zm5 0h3v1.1h-3zm5 0h3v1.1h-3zm4 0h2v1.1h-2zm-16 1h1v1.1h-1zm2 0h1v1.1h-1zm3 0h2v1.1h-2zm3 0h3v1.1h-3zm4 0h1v1.1h-1zm3 0h1v1.1h-1zm-15 1h1v1.1h-1zm2 0h1v1.1h-1zm2 0h1v1.1h-1zm2 0h3v1.1h-3zm4 0h7v1.1h-7zm-11 1h1v1.1h-1zm4 0h1v1.1h-1zm2 0h2v1.1h-2zm4 0h3v1.1h-3zm4 0h3v1.1h-3zm4 0h1v1.1h-1zm-22 1h1v1.1h-1zm4 0h1v1.1h-1zm6 0h1v1.1h-1zm2 0h1v1.1h-1zm4 0h2v1.1h-2zm4 0h1v1.1h-1zm2 0h1v1.1h-1zm-32 1h1v1.1h-1zm12 0h1v1.1h-1zm6 0h1v1.1h-1zm4 0h5v1.1h-5zm6 0h1v1.1h-1zm2 0h2v1.1h-2zm-16 1h1v1.1h-1zm2 0h1v1.1h-1zm5 0h11v1.1h-11zm0 1h1v1.1h-1zm2 0h10v1.1h-10zm-10 1h1v1.1h-1zm9 0h1v1.1h-1zm2 0h5v1.1h-5zm6 0h3v1.1h-3zm-9 1h1v1.1h-1zm4 0h8v1.1h-8zm-2 1h1v1.1h-1zm3 0h1v1.1h-1zm2 0h1v1.1h-1zm2 0h3v1.1h-3z"/>
<defs><radialGradient id="gl4"><stop offset="0" stop-color="#b4dcf8" stop-opacity="1"/><stop offset="0.45" stop-color="#78b4e4" stop-opacity="0.6"/><stop offset="1" stop-color="#3d6f9e" stop-opacity="0"/></radialGradient><clipPath id="cpL4"><rect x="0" y="10" width="10" height="20"/></clipPath><clipPath id="cpB4"><rect x="10" y="0" width="20" height="10"/></clipPath><clipPath id="cpG4"><rect x="10" y="10" width="20" height="20"/></clipPath></defs>
<ellipse cx="10" cy="10" rx="7" ry="12" fill="url(#gl4)" opacity="1.0" clip-path="url(#cpL4)"/>
<ellipse cx="10" cy="10" rx="7" ry="10" fill="url(#gl4)" opacity="1.0" clip-path="url(#cpB4)"/>
<ellipse cx="10" cy="10" rx="6" ry="6" fill="url(#gl4)" opacity="0.7" clip-path="url(#cpG4)"/>
</g>
<g transform="translate(0,0)">
<line x1="98.1" y1="519.1" x2="226.9" y2="389.5" stroke="#E8472F" stroke-width="0.9"/>
<line x1="98.1" y1="493.2" x2="201.1" y2="389.5" stroke="#E8472F" stroke-width="1.1" stroke-dasharray="3.6,2.2"/>
<line x1="123.9" y1="519.1" x2="226.9" y2="415.4" stroke="#E8472F" stroke-width="1.1" stroke-dasharray="3.6,2.2"/>
</g>
<text x="117.4" y="409.4" font-size="7.2" text-anchor="middle" font-weight="bold" fill="#E03A22">83</text>
<text x="187.5" y="516.3" font-size="7.2" text-anchor="middle" font-weight="bold" fill="#E03A22">92</text>
<defs><linearGradient id="lg2566" x1="0" y1="1" x2="0" y2="0"><stop offset="0" stop-color="#172a41"/><stop offset="1" stop-color="#86bbe8"/></linearGradient></defs>
<rect x="209.2" y="457.4" width="20" height="46.6" fill="#fff"/>
<rect x="210.2" y="464.6" width="7.4" height="37.4" fill="url(#lg2566)"/>
<text x="209.4" y="462.2" font-size="5.1" text-anchor="start" fill="#333">count</text>
<text x="219.5" y="478.7" font-size="4.7" text-anchor="start" fill="#333">200</text>
<path d="M210.2 477.0h1.4M216.2 477.0h1.4" stroke="#fff" stroke-opacity="0.7" stroke-width="0.5"/>
<text x="219.5" y="491.2" font-size="4.7" text-anchor="start" fill="#333">100</text>
<path d="M210.2 489.5h1.4M216.2 489.5h1.4" stroke="#fff" stroke-opacity="0.7" stroke-width="0.5"/>
<text x="124.2" y="489.5" font-size="7.5" text-anchor="middle" fill="#f4f6f8" transform="rotate(-45 124.2 489.5)">12968</text>
<text x="131.1" y="497.6" font-size="7.5" text-anchor="middle" fill="#f4f6f8" transform="rotate(-45 131.1 497.6)">12928</text>
<line x1="319.0" y1="383.4" x2="319.0" y2="526.2" stroke="#F3F3F3" stroke-width="0.55"/>
<line x1="300.2" y1="507.0" x2="440.2" y2="507.0" stroke="#F3F3F3" stroke-width="0.55"/>
<line x1="344.6" y1="383.4" x2="344.6" y2="526.2" stroke="#F3F3F3" stroke-width="0.55"/>
<line x1="300.2" y1="480.9" x2="440.2" y2="480.9" stroke="#F3F3F3" stroke-width="0.55"/>
<line x1="370.2" y1="383.4" x2="370.2" y2="526.2" stroke="#F3F3F3" stroke-width="0.55"/>
<line x1="300.2" y1="454.8" x2="440.2" y2="454.8" stroke="#F3F3F3" stroke-width="0.55"/>
<line x1="395.8" y1="383.4" x2="395.8" y2="526.2" stroke="#F3F3F3" stroke-width="0.55"/>
<line x1="300.2" y1="428.7" x2="440.2" y2="428.7" stroke="#F3F3F3" stroke-width="0.55"/>
<line x1="421.4" y1="383.4" x2="421.4" y2="526.2" stroke="#F3F3F3" stroke-width="0.55"/>
<line x1="300.2" y1="402.6" x2="440.2" y2="402.6" stroke="#F3F3F3" stroke-width="0.55"/>
<line x1="306.2" y1="383.4" x2="306.2" y2="526.2" stroke="#EAEAEA" stroke-width="1"/>
<line x1="300.2" y1="520.1" x2="440.2" y2="520.1" stroke="#EAEAEA" stroke-width="1"/>
<line x1="331.8" y1="383.4" x2="331.8" y2="526.2" stroke="#EAEAEA" stroke-width="1"/>
<line x1="300.2" y1="494.0" x2="440.2" y2="494.0" stroke="#EAEAEA" stroke-width="1"/>
<line x1="357.4" y1="383.4" x2="357.4" y2="526.2" stroke="#EAEAEA" stroke-width="1"/>
<line x1="300.2" y1="467.9" x2="440.2" y2="467.9" stroke="#EAEAEA" stroke-width="1"/>
<line x1="383.0" y1="383.4" x2="383.0" y2="526.2" stroke="#EAEAEA" stroke-width="1"/>
<line x1="300.2" y1="441.7" x2="440.2" y2="441.7" stroke="#EAEAEA" stroke-width="1"/>
<line x1="408.6" y1="383.4" x2="408.6" y2="526.2" stroke="#EAEAEA" stroke-width="1"/>
<line x1="300.2" y1="415.6" x2="440.2" y2="415.6" stroke="#EAEAEA" stroke-width="1"/>
<line x1="434.2" y1="383.4" x2="434.2" y2="526.2" stroke="#EAEAEA" stroke-width="1"/>
<line x1="300.2" y1="389.5" x2="440.2" y2="389.5" stroke="#EAEAEA" stroke-width="1"/>
<text x="306.2" y="535.8" font-size="9.1" text-anchor="middle" fill="#444">0</text>
<text x="299.0" y="523.3" font-size="9.1" text-anchor="end" fill="#444">0</text>
<text x="331.8" y="535.8" font-size="9.1" text-anchor="middle" fill="#444">20</text>
<text x="299.0" y="497.2" font-size="9.1" text-anchor="end" fill="#444">20</text>
<text x="357.4" y="535.8" font-size="9.1" text-anchor="middle" fill="#444">40</text>
<text x="299.0" y="471.1" font-size="9.1" text-anchor="end" fill="#444">40</text>
<text x="383.0" y="535.8" font-size="9.1" text-anchor="middle" fill="#444">60</text>
<text x="299.0" y="445.0" font-size="9.1" text-anchor="end" fill="#444">60</text>
<text x="408.6" y="535.8" font-size="9.1" text-anchor="middle" fill="#444">80</text>
<text x="299.0" y="418.9" font-size="9.1" text-anchor="end" fill="#444">80</text>
<text x="434.2" y="535.8" font-size="9.1" text-anchor="middle" fill="#444">100</text>
<text x="299.0" y="392.7" font-size="9.1" text-anchor="end" fill="#444">100</text>
<text x="276.3" y="455.0" font-size="9.3" text-anchor="middle" fill="#222" transform="rotate(-90 276.3 455.0)">SU-DIPGXVII m6a (%)</text>
<text x="386.0" y="552.3" font-size="9.3" text-anchor="middle" fill="#222">P000302 m6a (%)</text>
<g transform="translate(306.20,520.10) scale(1.2800,-1.3060)">
<path fill="#1a2f48" d="M0 0m10 0h8v1.1h-8zm11 0h1v1.1h-1zm2 0h1v1.1h-1zm3 0h1v1.1h-1zm10 0h1v1.1h-1zm-26 1h11v1.1h-11zm12 0h1v1.1h-1zm2 0h1v1.1h-1zm3 0h1v1.1h-1zm4 0h2v1.1h-2zm-21 1h6v1.1h-6zm7 0h2v1.1h-2zm3 0h3v1.1h-3zm7 0h1v1.1h-1zm2 0h1v1.1h-1zm-19 1h11v1.1h-11zm12 0h1v1.1h-1zm2 0h1v1.1h-1zm8 0h1v1.1h-1zm-22 1h13v1.1h-13zm14 0h1v1.1h-1zm3 0h1v1.1h-1zm2 0h3v1.1h-3zm6 0h1v1.1h-1zm7 0h1v1.1h-1zm-32 1h15v1.1h-15zm17 0h1v1.1h-1zm2 0h1v1.1h-1zm-19 1h15v1.1h-15zm17 0h2v1.1h-2zm6 0h1v1.1h-1zm-23 1h9v1.1h-9zm10 0h5v1.1h-5zm7 0h2v1.1h-2zm3 0h1v1.1h-1zm3 0h1v1.1h-1zm2 0h2v1.1h-2zm3 0h2v1.1h-2zm-28 1h17v1.1h-17zm18 0h1v1.1h-1zm2 0h2v1.1h-2zm5 0h1v1.1h-1zm-25 1h20v1.1h-20zm21 0h1v1.1h-1zm15 0h1v1.1h-1zm-46 1h25v1.1h-25zm26 0h7v1.1h-7zm12 0h1v1.1h-1zm-38 1h30v1.1h-30zm32 0h3v1.1h-3zm11 0h1v1.1h-1zm-43 1h31v1.1h-31zm32 0h1v1.1h-1zm2 0h1v1.1h-1zm6 0h1v1.1h-1zm6 0h1v1.1h-1zm-46 1h33v1.1h-33zm38 0h1v1.1h-1zm-38 1h31v1.1h-31zm32 0h5v1.1h-5zm8 0h1v1.1h-1zm-40 1h32v1.1h-32zm33 0h4v1.1h-4zm10 0h2v1.1h-2zm-43 1h35v1.1h-35zm36 0h2v1.1h-2zm3 0h1v1.1h-1zm6 0h1v1.1h-1zm2 0h1v1.1h-1zm3 0h1v1.1h-1zm-50 1h35v1.1h-35zm36 0h1v1.1h-1zm2 0h1v1.1h-1zm2 0h1v1.1h-1zm6 0h2v1.1h-2zm4 0h1v1.1h-1zm12 0h1v1.1h-1zm-62 1h38v1.1h-38zm40 0h1v1.1h-1zm8 0h2v1.1h-2zm-48 1h39v1.1h-39zm40 0h3v1.1h-3zm6 0h1v1.1h-1zm2 0h1v1.1h-1zm4 0h1v1.1h-1zm21 0h1v1.1h-1zm-73 1h41v1.1h-41zm42 0h1v1.1h-1zm5 0h1v1.1h-1zm4 0h2v1.1h-2zm-51 1h41v1.1h-41zm42 0h2v1.1h-2zm4 0h1v1.1h-1zm2 0h2v1.1h-2zm3 0h2v1.1h-2zm9 0h1v1.1h-1zm-60 1h42v1.1h-42zm43 0h2v1.1h-2zm7 0h1v1.1h-1zm-50 1h1v1.1h-1zm2 0h41v1.1h-41zm42 0h3v1.1h-3zm-43 1h1v1.1h-1zm2 0h42v1.1h-42zm43 0h5v1.1h-5zm-46 1h46v1.1h-46zm56 0h1v1.1h-1zm-52 1h41v1.1h-41zm42 0h3v1.1h-3zm5 0h1v1.1h-1zm3 0h1v1.1h-1zm2 0h1v1.1h-1zm10 0h1v1.1h-1zm-66 1h6v1.1h-6zm7 0h7v1.1h-7zm8 0h32v1.1h-32zm34 0h3v1.1h-3zm4 0h1v1.1h-1zm-52 1h3v1.1h-3zm4 0h40v1.1h-40zm41 0h1v1.1h-1zm7 0h1v1.1h-1zm2 0h2v1.1h-2zm5 0h2v1.1h-2zm-60 1h3v1.1h-3zm5 0h43v1.1h-43zm44 0h1v1.1h-1zm2 0h1v1.1h-1zm-49 1h1v1.1h-1zm2 0h1v1.1h-1zm2 0h3v1.1h-3zm4 0h41v1.1h-41zm47 0h2v1.1h-2zm4 0h1v1.1h-1zm-60 1h1v1.1h-1zm2 0h4v1.1h-4zm5 0h1v1.1h-1zm2 0h40v1.1h-40zm42 0h3v1.1h-3zm6 0h1v1.1h-1zm-58 1h5v1.1h-5zm6 0h47v1.1h-47zm49 0h2v1.1h-2zm-54 1h1v1.1h-1zm7 0h5v1.1h-5zm6 0h38v1.1h-38zm40 0h1v1.1h-1zm2 0h1v1.1h-1zm-53 1h4v1.1h-4zm6 0h2v1.1h-2zm3 0h44v1.1h-44zm46 0h2v1.1h-2zm-54 1h2v1.1h-2zm7 0h9v1.1h-9zm10 0h38v1.1h-38zm-19 1h1v1.1h-1zm2 0h5v1.1h-5zm6 0h1v1.1h-1zm2 0h44v1.1h-44zm45 0h2v1.1h-2zm3 0h1v1.1h-1zm9 0h1v1.1h-1zm-68 1h1v1.1h-1zm8 0h47v1.1h-47zm-7 1h1v1.1h-1zm6 0h2v1.1h-2zm3 0h3v1.1h-3zm5 0h40v1.1h-40zm41 0h2v1.1h-2zm3 0h5v1.1h-5zm7 0h1v1.1h-1zm-60 1h4v1.1h-4zm5 0h2v1.1h-2zm3 0h44v1.1h-44zm45 0h2v1.1h-2zm3 0h1v1.1h-1zm3 0h1v1.1h-1zm6 0h1v1.1h-1zm-69 1h3v1.1h-3zm4 0h2v1.1h-2zm3 0h1v1.1h-1zm2 0h4v1.1h-4zm5 0h42v1.1h-42zm44 0h2v1.1h-2zm3 0h2v1.1h-2zm-52 1h1v1.1h-1zm3 0h2v1.1h-2zm3 0h44v1.1h-44zm46 0h1v1.1h-1zm5 0h1v1.1h-1zm-65 1h1v1.1h-1zm5 0h1v1.1h-1zm9 0h39v1.1h-39zm40 0h5v1.1h-5zm7 0h1v1.1h-1zm3 0h1v1.1h-1zm6 0h1v1.1h-1zm-64 1h3v1.1h-3zm5 0h1v1.1h-1zm2 0h4v1.1h-4zm5 0h47v1.1h-47zm-11 1h3v1.1h-3zm4 0h6v1.1h-6zm7 0h41v1.1h-41zm44 0h1v1.1h-1zm6 0h2v1.1h-2zm-64 1h1v1.1h-1zm6 0h1v1.1h-1zm2 0h3v1.1h-3zm5 0h43v1.1h-43zm44 0h3v1.1h-3zm19 0h1v1.1h-1zm-83 1h1v1.1h-1zm10 0h2v1.1h-2zm5 0h1v1.1h-1zm3 0h45v1.1h-45zm53 0h1v1.1h-1zm-59 1h1v1.1h-1zm2 0h1v1.1h-1zm2 0h3v1.1h-3zm5 0h41v1.1h-41zm47 0h1v1.1h-1zm5 0h1v1.1h-1zm-70 1h1v1.1h-1zm3 0h1v1.1h-1zm13 0h2v1.1h-2zm4 0h1v1.1h-1zm2 0h38v1.1h-38zm40 0h1v1.1h-1zm3 0h2v1.1h-2zm3 0h1v1.1h-1zm5 0h1v1.1h-1zm-66 1h1v1.1h-1zm5 0h2v1.1h-2zm6 0h1v1.1h-1zm4 0h39v1.1h-39zm40 0h2v1.1h-2zm3 0h1v1.1h-1zm-65 1h1v1.1h-1zm15 0h2v1.1h-2zm3 0h1v1.1h-1zm2 0h1v1.1h-1zm2 0h1v1.1h-1zm3 0h43v1.1h-43zm-19 1h1v1.1h-1zm4 0h1v1.1h-1zm8 0h1v1.1h-1zm3 0h11v1.1h-11zm12 0h35v1.1h-35zm36 0h1v1.1h-1zm3 0h1v1.1h-1zm3 0h1v1.1h-1zm-65 1h2v1.1h-2zm3 0h2v1.1h-2zm4 0h2v1.1h-2zm3 0h4v1.1h-4zm5 0h40v1.1h-40zm44 0h1v1.1h-1zm2 0h2v1.1h-2zm6 0h1v1.1h-1zm-69 1h1v1.1h-1zm13 0h1v1.1h-1zm3 0h7v1.1h-7zm8 0h31v1.1h-31zm32 0h2v1.1h-2zm4 0h4v1.1h-4zm9 0h1v1.1h-1zm4 0h1v1.1h-1zm-70 1h3v1.1h-3zm10 0h1v1.1h-1zm4 0h1v1.1h-1zm2 0h45v1.1h-45zm54 0h1v1.1h-1zm-73 1h1v1.1h-1zm11 0h2v1.1h-2zm3 0h1v1.1h-1zm2 0h2v1.1h-2zm3 0h36v1.1h-36zm37 0h4v1.1h-4zm5 0h1v1.1h-1zm2 0h1v1.1h-1zm2 0h1v1.1h-1zm-73 1h1v1.1h-1zm19 0h1v1.1h-1zm3 0h1v1.1h-1zm4 0h1v1.1h-1zm2 0h40v1.1h-40zm-13 1h1v1.1h-1zm4 0h1v1.1h-1zm5 0h3v1.1h-3zm5 0h39v1.1h-39zm41 0h1v1.1h-1zm2 0h1v1.1h-1zm4 0h1v1.1h-1zm-55 1h1v1.1h-1zm4 0h3v1.1h-3zm4 0h1v1.1h-1zm2 0h41v1.1h-41zm44 0h1v1.1h-1zm-63 1h1v1.1h-1zm11 0h1v1.1h-1zm3 0h43v1.1h-43zm44 0h1v1.1h-1zm4 0h1v1.1h-1zm8 0h1v1.1h-1zm-68 1h2v1.1h-2zm5 0h1v1.1h-1zm3 0h1v1.1h-1zm5 0h1v1.1h-1zm6 0h1v1.1h-1zm2 0h32v1.1h-32zm33 0h5v1.1h-5zm6 0h2v1.1h-2zm3 0h1v1.1h-1zm-63 1h1v1.1h-1zm8 0h2v1.1h-2zm6 0h3v1.1h-3zm4 0h39v1.1h-39zm40 0h1v1.1h-1zm2 0h2v1.1h-2zm5 0h1v1.1h-1zm-57 1h2v1.1h-2zm3 0h3v1.1h-3zm8 0h10v1.1h-10zm11 0h15v1.1h-15zm16 0h11v1.1h-11zm13 0h3v1.1h-3zm-54 1h1v1.1h-1zm4 0h2v1.1h-2zm5 0h1v1.1h-1zm6 0h3v1.1h-3zm5 0h37v1.1h-37zm40 0h2v1.1h-2zm-55 1h1v1.1h-1zm2 0h1v1.1h-1zm2 0h2v1.1h-2zm3 0h3v1.1h-3zm5 0h37v1.1h-37zm38 0h3v1.1h-3zm6 0h1v1.1h-1zm4 0h1v1.1h-1zm-65 1h1v1.1h-1zm4 0h2v1.1h-2zm5 0h1v1.1h-1zm3 0h1v1.1h-1zm2 0h1v1.1h-1zm4 0h38v1.1h-38zm40 0h3v1.1h-3zm4 0h1v1.1h-1zm-65 1h1v1.1h-1zm6 0h1v1.1h-1zm4 0h1v1.1h-1zm2 0h2v1.1h-2zm3 0h1v1.1h-1zm8 0h1v1.1h-1zm2 0h35v1.1h-35zm36 0h1v1.1h-1zm-51 1h1v1.1h-1zm8 0h1v1.1h-1zm4 0h1v1.1h-1zm4 0h31v1.1h-31zm32 0h4v1.1h-4zm6 0h1v1.1h-1zm14 0h1v1.1h-1zm-61 1h2v1.1h-2zm7 0h1v1.1h-1zm3 0h34v1.1h-34zm36 0h1v1.1h-1zm5 0h1v1.1h-1zm-56 1h1v1.1h-1zm13 0h4v1.1h-4zm5 0h3v1.1h-3zm4 0h20v1.1h-20zm21 0h6v1.1h-6zm7 0h2v1.1h-2zm3 0h2v1.1h-2zm-66 1h1v1.1h-1zm19 0h2v1.1h-2zm4 0h1v1.1h-1zm2 0h2v1.1h-2zm3 0h34v1.1h-34zm39 0h1v1.1h-1zm2 0h1v1.1h-1zm-57 1h1v1.1h-1zm5 0h1v1.1h-1zm5 0h1v1.1h-1zm2 0h5v1.1h-5zm6 0h2v1.1h-2zm3 0h1v1.1h-1zm2 0h29v1.1h-29zm30 0h2v1.1h-2zm9 0h2v1.1h-2zm-50 1h1v1.1h-1zm4 0h1v1.1h-1zm3 0h7v1.1h-7zm8 0h6v1.1h-6zm7 0h6v1.1h-6zm7 0h13v1.1h-13zm15 0h1v1.1h-1zm3 0h1v1.1h-1zm3 0h1v1.1h-1zm-54 1h2v1.1h-2zm5 0h1v1.1h-1zm3 0h1v1.1h-1zm2 0h1v1.1h-1zm3 0h1v1.1h-1zm2 0h7v1.1h-7zm8 0h16v1.1h-16zm17 0h4v1.1h-4zm5 0h3v1.1h-3zm4 0h2v1.1h-2zm4 0h1v1.1h-1zm-73 1h1v1.1h-1zm25 0h1v1.1h-1zm2 0h1v1.1h-1zm2 0h3v1.1h-3zm5 0h9v1.1h-9zm10 0h3v1.1h-3zm4 0h15v1.1h-15zm16 0h3v1.1h-3zm4 0h1v1.1h-1zm-46 1h4v1.1h-4zm5 0h1v1.1h-1zm3 0h2v1.1h-2zm3 0h1v1.1h-1zm2 0h2v1.1h-2zm3 0h1v1.1h-1zm2 0h14v1.1h-14zm16 0h15v1.1h-15zm23 0h1v1.1h-1zm-64 1h1v1.1h-1zm11 0h1v1.1h-1zm2 0h1v1.1h-1zm2 0h2v1.1h-2zm5 0h2v1.1h-2zm4 0h27v1.1h-27zm28 0h3v1.1h-3zm8 0h1v1.1h-1zm-53 1h3v1.1h-3zm6 0h1v1.1h-1zm6 0h1v1.1h-1zm2 0h4v1.1h-4zm5 0h15v1.1h-15zm16 0h11v1.1h-11zm12 0h1v1.1h-1zm7 0h2v1.1h-2zm-53 1h1v1.1h-1zm7 0h6v1.1h-6zm7 0h1v1.1h-1zm5 0h4v1.1h-4zm5 0h1v1.1h-1zm2 0h18v1.1h-18zm19 0h1v1.1h-1zm3 0h1v1.1h-1zm2 0h2v1.1h-2zm4 0h1v1.1h-1zm-55 1h1v1.1h-1zm6 0h1v1.1h-1zm4 0h1v1.1h-1zm2 0h4v1.1h-4zm5 0h2v1.1h-2zm5 0h2v1.1h-2zm3 0h4v1.1h-4zm5 0h1v1.1h-1zm2 0h18v1.1h-18zm-45 1h1v1.1h-1zm18 0h1v1.1h-1zm2 0h1v1.1h-1zm5 0h1v1.1h-1zm2 0h2v1.1h-2zm4 0h1v1.1h-1zm5 0h1v1.1h-1zm2 0h17v1.1h-17zm18 0h6v1.1h-6zm13 0h2v1.1h-2zm-55 1h1v1.1h-1zm2 0h1v1.1h-1zm10 0h1v1.1h-1zm2 0h2v1.1h-2zm3 0h1v1.1h-1zm3 0h1v1.1h-1zm3 0h2v1.1h-2zm3 0h2v1.1h-2zm3 0h19v1.1h-19zm20 0h1v1.1h-1zm-36 1h1v1.1h-1zm2 0h1v1.1h-1zm2 0h1v1.1h-1zm6 0h10v1.1h-10zm11 0h5v1.1h-5zm6 0h9v1.1h-9zm10 0h3v1.1h-3zm6 0h2v1.1h-2zm-58 1h1v1.1h-1zm9 0h1v1.1h-1zm8 0h3v1.1h-3zm4 0h6v1.1h-6zm7 0h4v1.1h-4zm5 0h9v1.1h-9zm10 0h11v1.1h-11zm12 0h2v1.1h-2zm4 0h2v1.1h-2zm-43 1h1v1.1h-1zm2 0h1v1.1h-1zm3 0h3v1.1h-3zm5 0h1v1.1h-1zm2 0h26v1.1h-26zm27 0h1v1.1h-1zm2 0h2v1.1h-2zm-50 1h1v1.1h-1zm11 0h1v1.1h-1zm7 0h1v1.1h-1zm2 0h2v1.1h-2zm3 0h1v1.1h-1zm3 0h2v1.1h-2zm3 0h18v1.1h-18zm19 0h1v1.1h-1zm2 0h2v1.1h-2zm3 0h1v1.1h-1zm-51 1h1v1.1h-1zm4 0h2v1.1h-2zm4 0h4v1.1h-4zm8 0h1v1.1h-1zm3 0h1v1.1h-1zm2 0h17v1.1h-17zm18 0h6v1.1h-6zm7 0h1v1.1h-1zm3 0h1v1.1h-1zm2 0h1v1.1h-1zm-41 1h1v1.1h-1zm3 0h1v1.1h-1zm2 0h1v1.1h-1zm2 0h2v1.1h-2zm4 0h1v1.1h-1zm2 0h20v1.1h-20zm21 0h3v1.1h-3zm6 0h1v1.1h-1zm-41 1h1v1.1h-1zm14 0h1v1.1h-1zm3 0h1v1.1h-1zm2 0h3v1.1h-3zm4 0h3v1.1h-3zm4 0h11v1.1h-11zm12 0h2v1.1h-2zm3 0h1v1.1h-1zm-37 1h1v1.1h-1zm2 0h2v1.1h-2zm3 0h1v1.1h-1zm4 0h2v1.1h-2zm4 0h2v1.1h-2zm3 0h9v1.1h-9zm10 0h8v1.1h-8zm9 0h1v1.1h-1zm2 0h1v1.1h-1zm-43 1h1v1.1h-1zm5 0h1v1.1h-1zm4 0h1v1.1h-1zm2 0h1v1.1h-1zm5 0h6v1.1h-6zm7 0h13v1.1h-13zm14 0h1v1.1h-1zm2 0h1v1.1h-1zm2 0h1v1.1h-1zm-24 1h4v1.1h-4zm6 0h14v1.1h-14zm15 0h1v1.1h-1zm2 0h1v1.1h-1zm2 0h2v1.1h-2zm-36 1h1v1.1h-1zm10 0h2v1.1h-2zm3 0h1v1.1h-1zm5 0h8v1.1h-8zm9 0h11v1.1h-11zm-27 1h1v1.1h-1zm2 0h1v1.1h-1zm3 0h1v1.1h-1zm5 0h1v1.1h-1zm4 0h1v1.1h-1zm3 0h1v1.1h-1zm4 0h11v1.1h-11zm13 0h4v1.1h-4zm-34 1h1v1.1h-1zm9 0h2v1.1h-2zm4 0h1v1.1h-1zm5 0h3v1.1h-3zm4 0h4v1.1h-4zm5 0h10v1.1h-10zm-19 1h1v1.1h-1zm3 0h1v1.1h-1zm5 0h1v1.1h-1zm2 0h2v1.1h-2zm3 0h9v1.1h-9zm10 0h7v1.1h-7zm-27 1h1v1.1h-1zm2 0h1v1.1h-1zm10 0h2v1.1h-2zm4 0h7v1.1h-7zm8 0h10v1.1h-10zm-18 1h2v1.1h-2zm3 0h1v1.1h-1zm8 0h1v1.1h-1zm4 0h4v1.1h-4zm5 0h8v1.1h-8zm-13 1h1v1.1h-1zm5 0h1v1.1h-1zm3 0h5v1.1h-5zm6 0h7v1.1h-7zm-19 1h1v1.1h-1zm3 0h2v1.1h-2zm4 0h1v1.1h-1zm2 0h2v1.1h-2zm4 0h13v1.1h-13zm-28 1h1v1.1h-1zm12 0h1v1.1h-1zm7 0h1v1.1h-1zm2 0h1v1.1h-1zm3 0h5v1.1h-5zm6 0h11v1.1h-11z"/>
<defs><radialGradient id="gl5"><stop offset="0" stop-color="#b4dcf8" stop-opacity="1"/><stop offset="0.45" stop-color="#78b4e4" stop-opacity="0.6"/><stop offset="1" stop-color="#3d6f9e" stop-opacity="0"/></radialGradient><clipPath id="cpL5"><rect x="0" y="10" width="10" height="20"/></clipPath><clipPath id="cpB5"><rect x="10" y="0" width="20" height="10"/></clipPath><clipPath id="cpG5"><rect x="10" y="10" width="20" height="20"/></clipPath></defs>
<ellipse cx="10" cy="10" rx="8" ry="14" fill="url(#gl5)" opacity="1.0" clip-path="url(#cpL5)"/>
<ellipse cx="10" cy="10" rx="8" ry="11" fill="url(#gl5)" opacity="1.0" clip-path="url(#cpB5)"/>
<ellipse cx="10" cy="10" rx="6" ry="6" fill="url(#gl5)" opacity="0.7" clip-path="url(#cpG5)"/>
</g>
<g transform="translate(0,0)">
<line x1="306.2" y1="520.1" x2="434.2" y2="389.5" stroke="#E8472F" stroke-width="0.9"/>
<line x1="306.2" y1="494.0" x2="408.6" y2="389.5" stroke="#E8472F" stroke-width="1.1" stroke-dasharray="3.6,2.2"/>
<line x1="331.8" y1="520.1" x2="434.2" y2="415.6" stroke="#E8472F" stroke-width="1.1" stroke-dasharray="3.6,2.2"/>
</g>
<text x="320.7" y="407.9" font-size="7.2" text-anchor="middle" font-weight="bold" fill="#E03A22">903</text>
<text x="396.9" y="516.3" font-size="7.2" text-anchor="middle" font-weight="bold" fill="#E03A22">934</text>
<defs><linearGradient id="lg4578" x1="0" y1="1" x2="0" y2="0"><stop offset="0" stop-color="#172a41"/><stop offset="1" stop-color="#86bbe8"/></linearGradient></defs>
<rect x="409.3" y="468.0" width="20" height="47.4" fill="#fff"/>
<rect x="410.3" y="475.8" width="7.4" height="37.6" fill="url(#lg4578)"/>
<text x="409.5" y="472.8" font-size="5.1" text-anchor="start" fill="#333">count</text>
<text x="419.6" y="489.7" font-size="4.7" text-anchor="start" fill="#333">2000</text>
<path d="M410.3 488.0h1.4M416.3 488.0h1.4" stroke="#fff" stroke-opacity="0.7" stroke-width="0.5"/>
<text x="419.6" y="502.7" font-size="4.7" text-anchor="start" fill="#333">1000</text>
<path d="M410.3 501.0h1.4M416.3 501.0h1.4" stroke="#fff" stroke-opacity="0.7" stroke-width="0.5"/>
<text x="333.4" y="487.8" font-size="7.5" text-anchor="middle" fill="#f4f6f8" transform="rotate(-45 333.4 487.8)">117145</text>
<text x="340.7" y="495.9" font-size="7.5" text-anchor="middle" fill="#f4f6f8" transform="rotate(-45 340.7 495.9)">130274</text>
<line x1="521.9" y1="387.8" x2="521.9" y2="530.4" stroke="#F3F3F3" stroke-width="0.55"/>
<line x1="502.8" y1="511.3" x2="644.8" y2="511.3" stroke="#F3F3F3" stroke-width="0.55"/>
<line x1="547.8" y1="387.8" x2="547.8" y2="530.4" stroke="#F3F3F3" stroke-width="0.55"/>
<line x1="502.8" y1="485.2" x2="644.8" y2="485.2" stroke="#F3F3F3" stroke-width="0.55"/>
<line x1="573.8" y1="387.8" x2="573.8" y2="530.4" stroke="#F3F3F3" stroke-width="0.55"/>
<line x1="502.8" y1="459.1" x2="644.8" y2="459.1" stroke="#F3F3F3" stroke-width="0.55"/>
<line x1="599.8" y1="387.8" x2="599.8" y2="530.4" stroke="#F3F3F3" stroke-width="0.55"/>
<line x1="502.8" y1="433.0" x2="644.8" y2="433.0" stroke="#F3F3F3" stroke-width="0.55"/>
<line x1="625.7" y1="387.8" x2="625.7" y2="530.4" stroke="#F3F3F3" stroke-width="0.55"/>
<line x1="502.8" y1="406.9" x2="644.8" y2="406.9" stroke="#F3F3F3" stroke-width="0.55"/>
<line x1="508.9" y1="387.8" x2="508.9" y2="530.4" stroke="#EAEAEA" stroke-width="1"/>
<line x1="502.8" y1="524.3" x2="644.8" y2="524.3" stroke="#EAEAEA" stroke-width="1"/>
<line x1="534.9" y1="387.8" x2="534.9" y2="530.4" stroke="#EAEAEA" stroke-width="1"/>
<line x1="502.8" y1="498.2" x2="644.8" y2="498.2" stroke="#EAEAEA" stroke-width="1"/>
<line x1="560.8" y1="387.8" x2="560.8" y2="530.4" stroke="#EAEAEA" stroke-width="1"/>
<line x1="502.8" y1="472.1" x2="644.8" y2="472.1" stroke="#EAEAEA" stroke-width="1"/>
<line x1="586.8" y1="387.8" x2="586.8" y2="530.4" stroke="#EAEAEA" stroke-width="1"/>
<line x1="502.8" y1="446.1" x2="644.8" y2="446.1" stroke="#EAEAEA" stroke-width="1"/>
<line x1="612.7" y1="387.8" x2="612.7" y2="530.4" stroke="#EAEAEA" stroke-width="1"/>
<line x1="502.8" y1="420.0" x2="644.8" y2="420.0" stroke="#EAEAEA" stroke-width="1"/>
<line x1="638.7" y1="387.8" x2="638.7" y2="530.4" stroke="#EAEAEA" stroke-width="1"/>
<line x1="502.8" y1="393.9" x2="644.8" y2="393.9" stroke="#EAEAEA" stroke-width="1"/>
<text x="508.9" y="540.0" font-size="9.1" text-anchor="middle" fill="#444">0</text>
<text x="501.6" y="527.5" font-size="9.1" text-anchor="end" fill="#444">0</text>
<text x="534.9" y="540.0" font-size="9.1" text-anchor="middle" fill="#444">20</text>
<text x="501.6" y="501.5" font-size="9.1" text-anchor="end" fill="#444">20</text>
<text x="560.8" y="540.0" font-size="9.1" text-anchor="middle" fill="#444">40</text>
<text x="501.6" y="475.4" font-size="9.1" text-anchor="end" fill="#444">40</text>
<text x="586.8" y="540.0" font-size="9.1" text-anchor="middle" fill="#444">60</text>
<text x="501.6" y="449.3" font-size="9.1" text-anchor="end" fill="#444">60</text>
<text x="612.7" y="540.0" font-size="9.1" text-anchor="middle" fill="#444">80</text>
<text x="501.6" y="423.2" font-size="9.1" text-anchor="end" fill="#444">80</text>
<text x="638.7" y="540.0" font-size="9.1" text-anchor="middle" fill="#444">100</text>
<text x="501.6" y="397.1" font-size="9.1" text-anchor="end" fill="#444">100</text>
<text x="481.8" y="459.0" font-size="9.3" text-anchor="middle" fill="#222" transform="rotate(-90 481.8 459.0)">SU-DIPGXVII m6a (%)</text>
<text x="582.6" y="554.6" font-size="9.3" text-anchor="middle" fill="#222">P000302 m6a (%)</text>
<g transform="translate(508.90,524.30) scale(1.2980,-1.3040)">
<path fill="#1a2f48" d="M0 0m10 0h11v1.1h-11zm13 0h1v1.1h-1zm3 0h1v1.1h-1zm8 0h1v1.1h-1zm-24 1h12v1.1h-12zm14 0h1v1.1h-1zm2 0h1v1.1h-1zm7 0h1v1.1h-1zm2 0h1v1.1h-1zm-25 1h17v1.1h-17zm18 0h1v1.1h-1zm12 0h1v1.1h-1zm3 0h1v1.1h-1zm-33 1h15v1.1h-15zm16 0h1v1.1h-1zm8 0h1v1.1h-1zm-24 1h17v1.1h-17zm18 0h3v1.1h-3zm-18 1h16v1.1h-16zm17 0h1v1.1h-1zm2 0h2v1.1h-2zm3 0h1v1.1h-1zm-22 1h14v1.1h-14zm15 0h3v1.1h-3zm4 0h3v1.1h-3zm4 0h1v1.1h-1zm-23 1h14v1.1h-14zm15 0h2v1.1h-2zm3 0h1v1.1h-1zm2 0h3v1.1h-3zm5 0h1v1.1h-1zm2 0h1v1.1h-1zm3 0h1v1.1h-1zm-30 1h20v1.1h-20zm21 0h1v1.1h-1zm2 0h1v1.1h-1zm5 0h2v1.1h-2zm19 0h1v1.1h-1zm-47 1h22v1.1h-22zm25 0h1v1.1h-1zm27 0h1v1.1h-1zm-62 1h34v1.1h-34zm39 0h3v1.1h-3zm-39 1h33v1.1h-33zm49 0h1v1.1h-1zm2 0h1v1.1h-1zm-51 1h36v1.1h-36zm37 0h2v1.1h-2zm3 0h2v1.1h-2zm-40 1h33v1.1h-33zm34 0h1v1.1h-1zm2 0h1v1.1h-1zm2 0h2v1.1h-2zm3 0h1v1.1h-1zm9 0h1v1.1h-1zm-50 1h33v1.1h-33zm34 0h1v1.1h-1zm4 0h3v1.1h-3zm7 0h1v1.1h-1zm-45 1h35v1.1h-35zm41 0h1v1.1h-1zm12 0h1v1.1h-1zm3 0h1v1.1h-1zm3 0h1v1.1h-1zm-59 1h36v1.1h-36zm38 0h1v1.1h-1zm7 0h3v1.1h-3zm7 0h1v1.1h-1zm5 0h1v1.1h-1zm4 0h1v1.1h-1zm-61 1h41v1.1h-41zm43 0h1v1.1h-1zm6 0h2v1.1h-2zm-49 1h34v1.1h-34zm35 0h5v1.1h-5zm7 0h1v1.1h-1zm2 0h1v1.1h-1zm-44 1h41v1.1h-41zm43 0h2v1.1h-2zm3 0h1v1.1h-1zm13 0h1v1.1h-1zm2 0h1v1.1h-1zm-60 1h41v1.1h-41zm42 0h1v1.1h-1zm6 0h1v1.1h-1zm16 0h1v1.1h-1zm5 0h1v1.1h-1zm-70 1h45v1.1h-45zm46 0h1v1.1h-1zm2 0h2v1.1h-2zm3 0h1v1.1h-1zm-51 1h43v1.1h-43zm44 0h1v1.1h-1zm3 0h1v1.1h-1zm5 0h3v1.1h-3zm-52 1h44v1.1h-44zm45 0h1v1.1h-1zm2 0h2v1.1h-2zm3 0h1v1.1h-1zm4 0h1v1.1h-1zm3 0h1v1.1h-1zm2 0h1v1.1h-1zm-59 1h39v1.1h-39zm40 0h7v1.1h-7zm8 0h1v1.1h-1zm2 0h2v1.1h-2zm-50 1h49v1.1h-49zm53 0h1v1.1h-1zm3 0h2v1.1h-2zm5 0h1v1.1h-1zm-61 1h2v1.1h-2zm3 0h44v1.1h-44zm46 0h1v1.1h-1zm3 0h3v1.1h-3zm14 0h1v1.1h-1zm3 0h1v1.1h-1zm-69 1h48v1.1h-48zm49 0h3v1.1h-3zm6 0h2v1.1h-2zm20 0h1v1.1h-1zm-75 1h51v1.1h-51zm52 0h1v1.1h-1zm2 0h2v1.1h-2zm8 0h1v1.1h-1zm-62 1h1v1.1h-1zm2 0h48v1.1h-48zm50 0h1v1.1h-1zm6 0h3v1.1h-3zm5 0h1v1.1h-1zm14 0h1v1.1h-1zm-77 1h1v1.1h-1zm2 0h52v1.1h-52zm54 0h1v1.1h-1zm2 0h1v1.1h-1zm-58 1h52v1.1h-52zm54 0h1v1.1h-1zm2 0h1v1.1h-1zm2 0h1v1.1h-1zm-57 1h11v1.1h-11zm12 0h40v1.1h-40zm41 0h1v1.1h-1zm2 0h1v1.1h-1zm2 0h1v1.1h-1zm7 0h1v1.1h-1zm-65 1h1v1.1h-1zm2 0h1v1.1h-1zm3 0h51v1.1h-51zm53 0h1v1.1h-1zm2 0h1v1.1h-1zm10 0h1v1.1h-1zm-70 1h2v1.1h-2zm3 0h1v1.1h-1zm2 0h50v1.1h-50zm51 0h5v1.1h-5zm14 0h2v1.1h-2zm-68 1h1v1.1h-1zm2 0h50v1.1h-50zm52 0h3v1.1h-3zm-55 1h1v1.1h-1zm2 0h1v1.1h-1zm4 0h52v1.1h-52zm53 0h1v1.1h-1zm2 0h1v1.1h-1zm2 0h1v1.1h-1zm6 0h1v1.1h-1zm-70 1h2v1.1h-2zm3 0h1v1.1h-1zm2 0h1v1.1h-1zm2 0h8v1.1h-8zm9 0h44v1.1h-44zm45 0h1v1.1h-1zm3 0h2v1.1h-2zm16 0h1v1.1h-1zm-76 1h1v1.1h-1zm2 0h1v1.1h-1zm2 0h53v1.1h-53zm54 0h1v1.1h-1zm2 0h1v1.1h-1zm3 0h2v1.1h-2zm-66 1h1v1.1h-1zm4 0h6v1.1h-6zm7 0h47v1.1h-47zm48 0h2v1.1h-2zm3 0h2v1.1h-2zm3 0h1v1.1h-1zm9 0h1v1.1h-1zm-73 1h2v1.1h-2zm4 0h10v1.1h-10zm11 0h44v1.1h-44zm48 0h3v1.1h-3zm-64 1h1v1.1h-1zm3 0h2v1.1h-2zm3 0h1v1.1h-1zm3 0h2v1.1h-2zm3 0h50v1.1h-50zm52 0h1v1.1h-1zm2 0h1v1.1h-1zm-65 1h1v1.1h-1zm8 0h1v1.1h-1zm2 0h55v1.1h-55zm69 0h1v1.1h-1zm-76 1h5v1.1h-5zm6 0h1v1.1h-1zm2 0h1v1.1h-1zm2 0h50v1.1h-50zm61 0h1v1.1h-1zm-70 1h2v1.1h-2zm9 0h47v1.1h-47zm48 0h2v1.1h-2zm3 0h2v1.1h-2zm3 0h1v1.1h-1zm22 0h1v1.1h-1zm-81 1h1v1.1h-1zm2 0h2v1.1h-2zm3 0h54v1.1h-54zm56 0h1v1.1h-1zm-67 1h1v1.1h-1zm5 0h1v1.1h-1zm2 0h2v1.1h-2zm5 0h3v1.1h-3zm4 0h47v1.1h-47zm51 0h1v1.1h-1zm2 0h1v1.1h-1zm7 0h1v1.1h-1zm-79 1h1v1.1h-1zm11 0h1v1.1h-1zm2 0h2v1.1h-2zm4 0h50v1.1h-50zm52 0h1v1.1h-1zm-60 1h1v1.1h-1zm2 0h55v1.1h-55zm62 0h1v1.1h-1zm3 0h1v1.1h-1zm13 0h1v1.1h-1zm-86 1h1v1.1h-1zm6 0h6v1.1h-6zm7 0h54v1.1h-54zm55 0h1v1.1h-1zm6 0h1v1.1h-1zm12 0h1v1.1h-1zm-90 1h2v1.1h-2zm9 0h1v1.1h-1zm5 0h1v1.1h-1zm2 0h1v1.1h-1zm3 0h1v1.1h-1zm2 0h6v1.1h-6zm7 0h40v1.1h-40zm41 0h1v1.1h-1zm3 0h2v1.1h-2zm4 0h1v1.1h-1zm-73 1h1v1.1h-1zm6 0h1v1.1h-1zm2 0h1v1.1h-1zm2 0h2v1.1h-2zm6 0h1v1.1h-1zm2 0h1v1.1h-1zm2 0h47v1.1h-47zm48 0h2v1.1h-2zm3 0h1v1.1h-1zm3 0h1v1.1h-1zm-70 1h2v1.1h-2zm5 0h1v1.1h-1zm4 0h1v1.1h-1zm4 0h2v1.1h-2zm3 0h49v1.1h-49zm50 0h1v1.1h-1zm2 0h1v1.1h-1zm2 0h1v1.1h-1zm7 0h2v1.1h-2zm-79 1h2v1.1h-2zm18 0h1v1.1h-1zm2 0h45v1.1h-45zm46 0h5v1.1h-5zm7 0h1v1.1h-1zm-66 1h1v1.1h-1zm9 0h3v1.1h-3zm5 0h44v1.1h-44zm46 0h2v1.1h-2zm5 0h1v1.1h-1zm2 0h3v1.1h-3zm-74 1h1v1.1h-1zm9 0h1v1.1h-1zm2 0h1v1.1h-1zm4 0h5v1.1h-5zm7 0h43v1.1h-43zm44 0h3v1.1h-3zm5 0h1v1.1h-1zm-65 1h1v1.1h-1zm5 0h2v1.1h-2zm4 0h1v1.1h-1zm2 0h1v1.1h-1zm6 0h44v1.1h-44zm46 0h2v1.1h-2zm3 0h1v1.1h-1zm5 0h1v1.1h-1zm-66 1h1v1.1h-1zm3 0h1v1.1h-1zm2 0h1v1.1h-1zm3 0h1v1.1h-1zm2 0h1v1.1h-1zm2 0h36v1.1h-36zm37 0h10v1.1h-10zm12 0h1v1.1h-1zm4 0h2v1.1h-2zm-71 1h1v1.1h-1zm4 0h1v1.1h-1zm11 0h2v1.1h-2zm3 0h43v1.1h-43zm44 0h4v1.1h-4zm11 0h2v1.1h-2zm-63 1h1v1.1h-1zm2 0h1v1.1h-1zm3 0h2v1.1h-2zm3 0h8v1.1h-8zm9 0h38v1.1h-38zm39 0h1v1.1h-1zm-68 1h1v1.1h-1zm8 0h3v1.1h-3zm7 0h1v1.1h-1zm2 0h1v1.1h-1zm3 0h3v1.1h-3zm4 0h31v1.1h-31zm32 0h12v1.1h-12zm14 0h1v1.1h-1zm2 0h1v1.1h-1zm-75 1h1v1.1h-1zm12 0h1v1.1h-1zm2 0h1v1.1h-1zm6 0h1v1.1h-1zm2 0h2v1.1h-2zm3 0h6v1.1h-6zm7 0h26v1.1h-26zm27 0h7v1.1h-7zm8 0h2v1.1h-2zm3 0h1v1.1h-1zm2 0h1v1.1h-1zm6 0h2v1.1h-2zm-74 1h1v1.1h-1zm7 0h1v1.1h-1zm4 0h1v1.1h-1zm6 0h2v1.1h-2zm7 0h42v1.1h-42zm43 0h2v1.1h-2zm4 0h1v1.1h-1zm-60 1h2v1.1h-2zm4 0h1v1.1h-1zm4 0h49v1.1h-49zm50 0h1v1.1h-1zm2 0h2v1.1h-2zm14 0h1v1.1h-1zm-80 1h1v1.1h-1zm8 0h1v1.1h-1zm7 0h6v1.1h-6zm7 0h35v1.1h-35zm36 0h3v1.1h-3zm4 0h2v1.1h-2zm3 0h1v1.1h-1zm5 0h1v1.1h-1zm4 0h1v1.1h-1zm-67 1h1v1.1h-1zm6 0h1v1.1h-1zm2 0h1v1.1h-1zm2 0h3v1.1h-3zm4 0h2v1.1h-2zm3 0h4v1.1h-4zm5 0h34v1.1h-34zm35 0h1v1.1h-1zm2 0h2v1.1h-2zm3 0h1v1.1h-1zm8 0h1v1.1h-1zm-69 1h1v1.1h-1zm2 0h3v1.1h-3zm9 0h2v1.1h-2zm4 0h28v1.1h-28zm29 0h14v1.1h-14zm15 0h1v1.1h-1zm2 0h1v1.1h-1zm9 0h1v1.1h-1zm3 0h1v1.1h-1zm-76 1h1v1.1h-1zm3 0h1v1.1h-1zm4 0h1v1.1h-1zm5 0h3v1.1h-3zm6 0h3v1.1h-3zm4 0h28v1.1h-28zm29 0h10v1.1h-10zm16 0h2v1.1h-2zm-59 1h3v1.1h-3zm7 0h45v1.1h-45zm46 0h2v1.1h-2zm3 0h1v1.1h-1zm-58 1h1v1.1h-1zm6 0h1v1.1h-1zm2 0h1v1.1h-1zm3 0h3v1.1h-3zm5 0h3v1.1h-3zm5 0h12v1.1h-12zm13 0h10v1.1h-10zm11 0h2v1.1h-2zm3 0h11v1.1h-11zm13 0h1v1.1h-1zm-56 1h1v1.1h-1zm2 0h2v1.1h-2zm4 0h1v1.1h-1zm5 0h1v1.1h-1zm2 0h1v1.1h-1zm4 0h15v1.1h-15zm16 0h4v1.1h-4zm6 0h12v1.1h-12zm14 0h2v1.1h-2zm3 0h2v1.1h-2zm-60 1h1v1.1h-1zm2 0h1v1.1h-1zm6 0h1v1.1h-1zm3 0h3v1.1h-3zm4 0h1v1.1h-1zm3 0h7v1.1h-7zm8 0h14v1.1h-14zm15 0h1v1.1h-1zm2 0h15v1.1h-15zm18 0h2v1.1h-2zm-55 1h1v1.1h-1zm7 0h8v1.1h-8zm11 0h12v1.1h-12zm13 0h22v1.1h-22zm25 0h2v1.1h-2zm3 0h1v1.1h-1zm-52 1h1v1.1h-1zm4 0h4v1.1h-4zm5 0h7v1.1h-7zm8 0h11v1.1h-11zm12 0h2v1.1h-2zm3 0h9v1.1h-9zm10 0h3v1.1h-3zm4 0h1v1.1h-1zm2 0h2v1.1h-2zm-75 1h1v1.1h-1zm9 0h1v1.1h-1zm10 0h1v1.1h-1zm5 0h1v1.1h-1zm5 0h2v1.1h-2zm3 0h1v1.1h-1zm2 0h1v1.1h-1zm3 0h1v1.1h-1zm3 0h1v1.1h-1zm2 0h6v1.1h-6zm7 0h12v1.1h-12zm13 0h1v1.1h-1zm2 0h3v1.1h-3zm4 0h4v1.1h-4zm6 0h1v1.1h-1zm5 0h1v1.1h-1zm-61 1h1v1.1h-1zm9 0h1v1.1h-1zm8 0h5v1.1h-5zm6 0h3v1.1h-3zm4 0h2v1.1h-2zm3 0h2v1.1h-2zm3 0h1v1.1h-1zm2 0h5v1.1h-5zm6 0h3v1.1h-3zm4 0h9v1.1h-9zm10 0h1v1.1h-1zm2 0h1v1.1h-1zm3 0h1v1.1h-1zm-60 1h1v1.1h-1zm4 0h1v1.1h-1zm2 0h1v1.1h-1zm4 0h1v1.1h-1zm4 0h1v1.1h-1zm6 0h2v1.1h-2zm4 0h7v1.1h-7zm8 0h1v1.1h-1zm2 0h1v1.1h-1zm3 0h7v1.1h-7zm8 0h2v1.1h-2zm3 0h10v1.1h-10zm12 0h1v1.1h-1zm3 0h1v1.1h-1zm-64 1h1v1.1h-1zm8 0h1v1.1h-1zm3 0h1v1.1h-1zm5 0h2v1.1h-2zm5 0h2v1.1h-2zm5 0h8v1.1h-8zm9 0h4v1.1h-4zm5 0h16v1.1h-16zm-34 1h1v1.1h-1zm3 0h1v1.1h-1zm3 0h1v1.1h-1zm2 0h1v1.1h-1zm4 0h1v1.1h-1zm2 0h1v1.1h-1zm7 0h5v1.1h-5zm7 0h11v1.1h-11zm12 0h5v1.1h-5zm6 0h1v1.1h-1zm2 0h5v1.1h-5zm6 0h2v1.1h-2zm9 0h1v1.1h-1zm-59 1h1v1.1h-1zm7 0h2v1.1h-2zm5 0h1v1.1h-1zm2 0h2v1.1h-2zm5 0h5v1.1h-5zm6 0h7v1.1h-7zm8 0h8v1.1h-8zm9 0h9v1.1h-9zm10 0h1v1.1h-1zm2 0h1v1.1h-1zm4 0h1v1.1h-1zm-73 1h1v1.1h-1zm20 0h1v1.1h-1zm6 0h4v1.1h-4zm7 0h1v1.1h-1zm2 0h4v1.1h-4zm5 0h13v1.1h-13zm15 0h2v1.1h-2zm3 0h1v1.1h-1zm2 0h5v1.1h-5zm9 0h1v1.1h-1zm3 0h1v1.1h-1zm-60 1h1v1.1h-1zm14 0h1v1.1h-1zm3 0h1v1.1h-1zm2 0h3v1.1h-3zm4 0h3v1.1h-3zm5 0h14v1.1h-14zm15 0h3v1.1h-3zm4 0h6v1.1h-6zm7 0h1v1.1h-1zm4 0h1v1.1h-1zm6 0h1v1.1h-1zm-67 1h1v1.1h-1zm18 0h1v1.1h-1zm3 0h2v1.1h-2zm6 0h1v1.1h-1zm2 0h15v1.1h-15zm16 0h1v1.1h-1zm2 0h5v1.1h-5zm6 0h3v1.1h-3zm4 0h3v1.1h-3zm4 0h3v1.1h-3zm-35 1h1v1.1h-1zm8 0h3v1.1h-3zm4 0h2v1.1h-2zm3 0h5v1.1h-5zm7 0h8v1.1h-8zm9 0h2v1.1h-2zm5 0h2v1.1h-2zm-57 1h1v1.1h-1zm19 0h1v1.1h-1zm2 0h1v1.1h-1zm2 0h1v1.1h-1zm3 0h2v1.1h-2zm3 0h2v1.1h-2zm3 0h8v1.1h-8zm9 0h5v1.1h-5zm7 0h5v1.1h-5zm9 0h1v1.1h-1zm3 0h1v1.1h-1zm-60 1h1v1.1h-1zm13 0h1v1.1h-1zm7 0h1v1.1h-1zm7 0h2v1.1h-2zm3 0h1v1.1h-1zm3 0h5v1.1h-5zm6 0h2v1.1h-2zm4 0h5v1.1h-5zm6 0h3v1.1h-3zm10 0h1v1.1h-1zm-47 1h1v1.1h-1zm4 0h1v1.1h-1zm9 0h1v1.1h-1zm2 0h1v1.1h-1zm2 0h1v1.1h-1zm2 0h1v1.1h-1zm3 0h4v1.1h-4zm5 0h3v1.1h-3zm4 0h3v1.1h-3zm4 0h2v1.1h-2zm4 0h3v1.1h-3zm5 0h1v1.1h-1zm2 0h1v1.1h-1zm3 0h1v1.1h-1zm-64 1h1v1.1h-1zm15 0h1v1.1h-1zm6 0h1v1.1h-1zm2 0h1v1.1h-1zm12 0h5v1.1h-5zm6 0h2v1.1h-2zm4 0h1v1.1h-1zm2 0h9v1.1h-9zm11 0h2v1.1h-2zm3 0h1v1.1h-1zm2 0h1v1.1h-1zm-65 1h1v1.1h-1zm32 0h3v1.1h-3zm4 0h10v1.1h-10zm11 0h1v1.1h-1zm2 0h5v1.1h-5zm6 0h3v1.1h-3zm4 0h1v1.1h-1zm2 0h3v1.1h-3zm4 0h1v1.1h-1zm-65 1h1v1.1h-1zm27 0h1v1.1h-1zm4 0h1v1.1h-1zm3 0h1v1.1h-1zm4 0h2v1.1h-2zm3 0h1v1.1h-1zm2 0h1v1.1h-1zm2 0h1v1.1h-1zm2 0h3v1.1h-3zm9 0h2v1.1h-2zm4 0h2v1.1h-2zm3 0h5v1.1h-5zm-38 1h1v1.1h-1zm13 0h3v1.1h-3zm5 0h2v1.1h-2zm3 0h7v1.1h-7zm8 0h9v1.1h-9zm10 0h3v1.1h-3zm-47 1h1v1.1h-1zm2 0h1v1.1h-1zm15 0h1v1.1h-1zm3 0h2v1.1h-2zm3 0h1v1.1h-1zm2 0h2v1.1h-2zm4 0h4v1.1h-4zm5 0h1v1.1h-1zm2 0h2v1.1h-2zm3 0h3v1.1h-3zm4 0h2v1.1h-2zm3 0h3v1.1h-3zm-41 1h1v1.1h-1zm9 0h1v1.1h-1zm11 0h2v1.1h-2zm5 0h1v1.1h-1zm3 0h1v1.1h-1zm2 0h1v1.1h-1zm2 0h8v1.1h-8zm9 0h5v1.1h-5zm-52 1h1v1.1h-1zm20 0h1v1.1h-1zm12 0h2v1.1h-2zm4 0h4v1.1h-4zm5 0h1v1.1h-1zm5 0h5v1.1h-5zm8 0h2v1.1h-2zm-33 1h1v1.1h-1zm9 0h2v1.1h-2zm5 0h5v1.1h-5zm6 0h1v1.1h-1zm2 0h7v1.1h-7zm8 0h5v1.1h-5zm-46 1h1v1.1h-1zm9 0h1v1.1h-1zm14 0h1v1.1h-1zm2 0h1v1.1h-1zm2 0h1v1.1h-1zm4 0h1v1.1h-1zm2 0h5v1.1h-5zm6 0h5v1.1h-5zm6 0h6v1.1h-6zm-28 1h1v1.1h-1zm10 0h1v1.1h-1zm3 0h2v1.1h-2zm4 0h1v1.1h-1zm2 0h1v1.1h-1zm2 0h4v1.1h-4zm5 0h4v1.1h-4zm5 0h4v1.1h-4zm-24 1h2v1.1h-2zm4 0h1v1.1h-1zm3 0h1v1.1h-1zm7 0h1v1.1h-1zm3 0h3v1.1h-3zm5 0h1v1.1h-1zm2 0h3v1.1h-3zm-29 1h1v1.1h-1zm3 0h1v1.1h-1zm8 0h1v1.1h-1zm2 0h1v1.1h-1zm2 0h1v1.1h-1zm3 0h1v1.1h-1zm2 0h1v1.1h-1zm2 0h3v1.1h-3zm4 0h7v1.1h-7zm-22 1h1v1.1h-1zm8 0h1v1.1h-1zm2 0h2v1.1h-2zm4 0h1v1.1h-1zm5 0h2v1.1h-2zm3 0h3v1.1h-3zm4 0h3v1.1h-3zm-25 1h1v1.1h-1zm9 0h1v1.1h-1zm8 0h1v1.1h-1zm3 0h8v1.1h-8z"/>
<defs><radialGradient id="gl6"><stop offset="0" stop-color="#b4dcf8" stop-opacity="1"/><stop offset="0.45" stop-color="#78b4e4" stop-opacity="0.6"/><stop offset="1" stop-color="#3d6f9e" stop-opacity="0"/></radialGradient><clipPath id="cpL6"><rect x="0" y="10" width="10" height="25"/></clipPath><clipPath id="cpB6"><rect x="10" y="0" width="25" height="10"/></clipPath><clipPath id="cpG6"><rect x="10" y="10" width="20" height="20"/></clipPath></defs>
<ellipse cx="10" cy="10" rx="9" ry="16" fill="url(#gl6)" opacity="1.0" clip-path="url(#cpL6)"/>
<ellipse cx="10" cy="10" rx="9" ry="12" fill="url(#gl6)" opacity="1.0" clip-path="url(#cpB6)"/>
<ellipse cx="10" cy="10" rx="7" ry="7" fill="url(#gl6)" opacity="0.7" clip-path="url(#cpG6)"/>
</g>
<g transform="translate(3.2,0)">
<line x1="508.9" y1="524.3" x2="638.7" y2="393.9" stroke="#E8472F" stroke-width="0.9"/>
<line x1="508.9" y1="498.2" x2="612.7" y2="393.9" stroke="#E8472F" stroke-width="1.1" stroke-dasharray="3.6,2.2"/>
<line x1="534.9" y1="524.3" x2="638.7" y2="420.0" stroke="#E8472F" stroke-width="1.1" stroke-dasharray="3.6,2.2"/>
</g>
<text x="523.8" y="412.2" font-size="7.2" text-anchor="middle" font-weight="bold" fill="#E03A22">916</text>
<text x="605.4" y="510.3" font-size="7.2" text-anchor="middle" font-weight="bold" fill="#E03A22">979</text>
<defs><linearGradient id="lg6736" x1="0" y1="1" x2="0" y2="0"><stop offset="0" stop-color="#172a41"/><stop offset="1" stop-color="#86bbe8"/></linearGradient></defs>
<rect x="624.3" y="475.5" width="20" height="46.6" fill="#fff"/>
<rect x="625.3" y="483.2" width="7.4" height="36.9" fill="url(#lg6736)"/>
<text x="624.5" y="480.3" font-size="5.1" text-anchor="start" fill="#333">count</text>
<text x="634.6" y="491.0" font-size="4.7" text-anchor="start" fill="#333">2000</text>
<path d="M625.3 489.3h1.4M631.3 489.3h1.4" stroke="#fff" stroke-opacity="0.7" stroke-width="0.5"/>
<text x="634.6" y="498.2" font-size="4.7" text-anchor="start" fill="#333">1500</text>
<path d="M625.3 496.5h1.4M631.3 496.5h1.4" stroke="#fff" stroke-opacity="0.7" stroke-width="0.5"/>
<text x="634.6" y="505.3" font-size="4.7" text-anchor="start" fill="#333">1000</text>
<path d="M625.3 503.6h1.4M631.3 503.6h1.4" stroke="#fff" stroke-opacity="0.7" stroke-width="0.5"/>
<text x="634.6" y="512.7" font-size="4.7" text-anchor="start" fill="#333">500</text>
<path d="M625.3 511.0h1.4M631.3 511.0h1.4" stroke="#fff" stroke-opacity="0.7" stroke-width="0.5"/>
<text x="539.6" y="492.2" font-size="7.5" text-anchor="middle" fill="#f4f6f8" transform="rotate(-45 539.6 492.2)">105324</text>
<text x="546.6" y="500.4" font-size="7.5" text-anchor="middle" fill="#f4f6f8" transform="rotate(-45 546.6 500.4)">116407</text>
<text x="546.0" y="400.9" font-size="3.9" text-anchor="middle" fill="#2a2a2a">FAM188A</text>
<rect x="545.7" y="403.0" width="1.3" height="1.3" fill="#1a2f48"/>
<text x="612.8" y="487.2" font-size="3.9" text-anchor="middle" fill="#2a2a2a">CCNE1</text>
<text x="592.7" y="518.4" font-size="3.9" text-anchor="middle" fill="#2a2a2a">PRDM4</text>
<rect x="588.9" y="511.9" width="1.3" height="1.3" fill="#1a2f48"/>
<text x="9.6" y="575.3" font-size="13.8" text-anchor="start" font-weight="bold" fill="#000">F</text>
<text x="20.2" y="620.4" font-size="14.2" text-anchor="middle" fill="#111" transform="rotate(-90 20.2 620.4)">3UTR</text>
<text x="32.2" y="621.0" font-size="9.2" text-anchor="middle" fill="#111" transform="rotate(-90 32.2 621.0)">SU-DIPGXVII vs normal</text>
<text x="42.7" y="619.2" font-size="9.2" text-anchor="middle" fill="#111" transform="rotate(-90 42.7 619.2)">&#916;m6a (%)</text>
<line x1="76.2" y1="576.0" x2="76.2" y2="677.5" stroke="#111" stroke-width="1.1"/>
<line x1="75.7" y1="677.0" x2="328.0" y2="677.0" stroke="#111" stroke-width="1.1"/>
<line x1="72.8" y1="577.3" x2="76.2" y2="577.3" stroke="#111" stroke-width="0.9"/>
<text x="71.0" y="580.6" font-size="9.2" text-anchor="end" fill="#222">50</text>
<line x1="72.8" y1="610.5" x2="76.2" y2="610.5" stroke="#111" stroke-width="0.9"/>
<text x="71.0" y="613.7" font-size="9.2" text-anchor="end" fill="#222">25</text>
<line x1="72.8" y1="643.6" x2="76.2" y2="643.6" stroke="#111" stroke-width="0.9"/>
<text x="71.0" y="646.9" font-size="9.2" text-anchor="end" fill="#222">0</text>
<line x1="72.8" y1="676.7" x2="76.2" y2="676.7" stroke="#111" stroke-width="0.9"/>
<text x="71.0" y="680.0" font-size="9.2" text-anchor="end" fill="#222">&#8722;25</text>
<line x1="91.3" y1="628.4" x2="91.3" y2="632.3" stroke="#333" stroke-width="0.9"/>
<rect x="82.9" y="628.4" width="16.8" height="4.0" fill="#B7C1E1" stroke="#333" stroke-width="0.9"/>
<line x1="82.9" y1="630.3" x2="99.7" y2="630.3" stroke="#333" stroke-width="0.9"/>
<circle cx="87.4" cy="624.4" r="1.75" fill="#5a5a5a" stroke="#1a1a1a" stroke-width="0.55"/>
<circle cx="90.8" cy="637.2" r="1.75" fill="#5a5a5a" stroke="#1a1a1a" stroke-width="0.55"/>
<circle cx="94.3" cy="630.3" r="1.75" fill="#5a5a5a" stroke="#1a1a1a" stroke-width="0.55"/>
<circle cx="93.6" cy="631.0" r="1.75" fill="#5a5a5a" stroke="#1a1a1a" stroke-width="0.55"/>
<circle cx="93.9" cy="629.0" r="1.75" fill="#5a5a5a" stroke="#1a1a1a" stroke-width="0.55"/>
<line x1="91.3" y1="677.0" x2="91.3" y2="680.0" stroke="#111" stroke-width="0.9"/>
<text x="94.5" y="684.5" font-size="9.2" text-anchor="end" fill="#222" transform="rotate(-45 94.5 684.5)">CDC42EP5</text>
<line x1="113.4" y1="593.6" x2="113.4" y2="639.0" stroke="#333" stroke-width="0.9"/>
<rect x="105.0" y="616.0" width="16.8" height="16.3" fill="#B7C1E1" stroke="#333" stroke-width="0.9"/>
<line x1="105.0" y1="623.1" x2="121.8" y2="623.1" stroke="#333" stroke-width="0.9"/>
<circle cx="114.3" cy="593.6" r="1.75" fill="#5a5a5a" stroke="#1a1a1a" stroke-width="0.55"/>
<circle cx="110.0" cy="602.5" r="1.75" fill="#5a5a5a" stroke="#1a1a1a" stroke-width="0.55"/>
<circle cx="118.5" cy="603.8" r="1.75" fill="#5a5a5a" stroke="#1a1a1a" stroke-width="0.55"/>
<circle cx="118.0" cy="607.8" r="1.75" fill="#5a5a5a" stroke="#1a1a1a" stroke-width="0.55"/>
<circle cx="113.0" cy="609.1" r="1.75" fill="#5a5a5a" stroke="#1a1a1a" stroke-width="0.55"/>
<circle cx="115.2" cy="615.8" r="1.75" fill="#5a5a5a" stroke="#1a1a1a" stroke-width="0.55"/>
<circle cx="110.2" cy="617.1" r="1.75" fill="#5a5a5a" stroke="#1a1a1a" stroke-width="0.55"/>
<circle cx="110.3" cy="618.4" r="1.75" fill="#5a5a5a" stroke="#1a1a1a" stroke-width="0.55"/>
<circle cx="111.0" cy="619.7" r="1.75" fill="#5a5a5a" stroke="#1a1a1a" stroke-width="0.55"/>
<circle cx="115.5" cy="621.1" r="1.75" fill="#5a5a5a" stroke="#1a1a1a" stroke-width="0.55"/>
<circle cx="110.2" cy="622.4" r="1.75" fill="#5a5a5a" stroke="#1a1a1a" stroke-width="0.55"/>
<circle cx="118.5" cy="623.7" r="1.75" fill="#5a5a5a" stroke="#1a1a1a" stroke-width="0.55"/>
<circle cx="108.6" cy="624.4" r="1.75" fill="#5a5a5a" stroke="#1a1a1a" stroke-width="0.55"/>
<circle cx="110.0" cy="626.4" r="1.75" fill="#5a5a5a" stroke="#1a1a1a" stroke-width="0.55"/>
<circle cx="108.8" cy="627.7" r="1.75" fill="#5a5a5a" stroke="#1a1a1a" stroke-width="0.55"/>
<circle cx="116.3" cy="629.0" r="1.75" fill="#5a5a5a" stroke="#1a1a1a" stroke-width="0.55"/>
<circle cx="111.9" cy="631.7" r="1.75" fill="#5a5a5a" stroke="#1a1a1a" stroke-width="0.55"/>
<circle cx="113.0" cy="634.3" r="1.75" fill="#5a5a5a" stroke="#1a1a1a" stroke-width="0.55"/>
<circle cx="111.4" cy="637.0" r="1.75" fill="#5a5a5a" stroke="#1a1a1a" stroke-width="0.55"/>
<circle cx="114.9" cy="638.3" r="1.75" fill="#5a5a5a" stroke="#1a1a1a" stroke-width="0.55"/>
<circle cx="112.3" cy="639.0" r="1.75" fill="#5a5a5a" stroke="#1a1a1a" stroke-width="0.55"/>
<circle cx="110.2" cy="668.1" r="1.75" fill="#5a5a5a" stroke="#1a1a1a" stroke-width="0.55"/>
<circle cx="112.6" cy="671.4" r="1.75" fill="#5a5a5a" stroke="#1a1a1a" stroke-width="0.55"/>
<line x1="113.4" y1="677.0" x2="113.4" y2="680.0" stroke="#111" stroke-width="0.9"/>
<text x="116.6" y="684.5" font-size="9.2" text-anchor="end" fill="#222" transform="rotate(-45 116.6 684.5)">DIP2A</text>
<line x1="135.4" y1="615.0" x2="135.4" y2="644.9" stroke="#333" stroke-width="0.9"/>
<rect x="127.0" y="631.0" width="16.8" height="8.3" fill="#B7C1E1" stroke="#333" stroke-width="0.9"/>
<line x1="127.0" y1="636.3" x2="143.8" y2="636.3" stroke="#333" stroke-width="0.9"/>
<circle cx="131.5" cy="615.0" r="1.75" fill="#5a5a5a" stroke="#1a1a1a" stroke-width="0.55"/>
<circle cx="136.7" cy="621.1" r="1.75" fill="#5a5a5a" stroke="#1a1a1a" stroke-width="0.55"/>
<circle cx="131.8" cy="623.7" r="1.75" fill="#5a5a5a" stroke="#1a1a1a" stroke-width="0.55"/>
<circle cx="137.8" cy="636.5" r="1.75" fill="#5a5a5a" stroke="#1a1a1a" stroke-width="0.55"/>
<circle cx="136.6" cy="634.5" r="1.75" fill="#5a5a5a" stroke="#1a1a1a" stroke-width="0.55"/>
<circle cx="134.1" cy="627.8" r="1.75" fill="#5a5a5a" stroke="#1a1a1a" stroke-width="0.55"/>
<circle cx="136.7" cy="636.3" r="1.75" fill="#5a5a5a" stroke="#1a1a1a" stroke-width="0.55"/>
<circle cx="136.1" cy="635.5" r="1.75" fill="#5a5a5a" stroke="#1a1a1a" stroke-width="0.55"/>
<circle cx="130.4" cy="634.0" r="1.75" fill="#5a5a5a" stroke="#1a1a1a" stroke-width="0.55"/>
<circle cx="135.8" cy="641.5" r="1.75" fill="#5a5a5a" stroke="#1a1a1a" stroke-width="0.55"/>
<circle cx="136.7" cy="635.4" r="1.75" fill="#5a5a5a" stroke="#1a1a1a" stroke-width="0.55"/>
<circle cx="135.6" cy="633.2" r="1.75" fill="#5a5a5a" stroke="#1a1a1a" stroke-width="0.55"/>
<circle cx="139.6" cy="630.2" r="1.75" fill="#5a5a5a" stroke="#1a1a1a" stroke-width="0.55"/>
<circle cx="138.0" cy="643.2" r="1.75" fill="#5a5a5a" stroke="#1a1a1a" stroke-width="0.55"/>
<circle cx="134.1" cy="639.3" r="1.75" fill="#5a5a5a" stroke="#1a1a1a" stroke-width="0.55"/>
<circle cx="132.4" cy="643.2" r="1.75" fill="#5a5a5a" stroke="#1a1a1a" stroke-width="0.55"/>
<circle cx="131.3" cy="629.9" r="1.75" fill="#5a5a5a" stroke="#1a1a1a" stroke-width="0.55"/>
<circle cx="138.8" cy="632.1" r="1.75" fill="#5a5a5a" stroke="#1a1a1a" stroke-width="0.55"/>
<circle cx="137.5" cy="644.1" r="1.75" fill="#5a5a5a" stroke="#1a1a1a" stroke-width="0.55"/>
<circle cx="136.6" cy="626.7" r="1.75" fill="#5a5a5a" stroke="#1a1a1a" stroke-width="0.55"/>
<circle cx="134.8" cy="627.0" r="1.75" fill="#5a5a5a" stroke="#1a1a1a" stroke-width="0.55"/>
<circle cx="135.4" cy="632.8" r="1.75" fill="#5a5a5a" stroke="#1a1a1a" stroke-width="0.55"/>
<circle cx="132.4" cy="633.5" r="1.75" fill="#5a5a5a" stroke="#1a1a1a" stroke-width="0.55"/>
<circle cx="135.8" cy="642.0" r="1.75" fill="#5a5a5a" stroke="#1a1a1a" stroke-width="0.55"/>
<circle cx="131.5" cy="644.6" r="1.75" fill="#5a5a5a" stroke="#1a1a1a" stroke-width="0.55"/>
<circle cx="136.8" cy="635.1" r="1.75" fill="#5a5a5a" stroke="#1a1a1a" stroke-width="0.55"/>
<circle cx="136.9" cy="643.8" r="1.75" fill="#5a5a5a" stroke="#1a1a1a" stroke-width="0.55"/>
<line x1="135.4" y1="677.0" x2="135.4" y2="680.0" stroke="#111" stroke-width="0.9"/>
<text x="138.6" y="684.5" font-size="9.2" text-anchor="end" fill="#222" transform="rotate(-45 138.6 684.5)">EGFR</text>
<line x1="157.5" y1="617.1" x2="157.5" y2="647.6" stroke="#333" stroke-width="0.9"/>
<rect x="149.1" y="627.7" width="16.8" height="11.7" fill="#B7C1E1" stroke="#333" stroke-width="0.9"/>
<line x1="149.1" y1="635.6" x2="165.9" y2="635.6" stroke="#333" stroke-width="0.9"/>
<circle cx="162.7" cy="617.1" r="1.75" fill="#5a5a5a" stroke="#1a1a1a" stroke-width="0.55"/>
<circle cx="157.0" cy="627.7" r="1.75" fill="#5a5a5a" stroke="#1a1a1a" stroke-width="0.55"/>
<circle cx="159.9" cy="630.3" r="1.75" fill="#5a5a5a" stroke="#1a1a1a" stroke-width="0.55"/>
<circle cx="160.1" cy="634.3" r="1.75" fill="#5a5a5a" stroke="#1a1a1a" stroke-width="0.55"/>
<circle cx="154.3" cy="635.6" r="1.75" fill="#5a5a5a" stroke="#1a1a1a" stroke-width="0.55"/>
<circle cx="152.8" cy="638.3" r="1.75" fill="#5a5a5a" stroke="#1a1a1a" stroke-width="0.55"/>
<circle cx="158.6" cy="639.6" r="1.75" fill="#5a5a5a" stroke="#1a1a1a" stroke-width="0.55"/>
<circle cx="153.3" cy="643.6" r="1.75" fill="#5a5a5a" stroke="#1a1a1a" stroke-width="0.55"/>
<circle cx="156.2" cy="647.6" r="1.75" fill="#5a5a5a" stroke="#1a1a1a" stroke-width="0.55"/>
<line x1="157.5" y1="677.0" x2="157.5" y2="680.0" stroke="#111" stroke-width="0.9"/>
<text x="160.7" y="684.5" font-size="9.2" text-anchor="end" fill="#222" transform="rotate(-45 160.7 684.5)">JAG1</text>
<line x1="179.5" y1="628.4" x2="179.5" y2="648.2" stroke="#333" stroke-width="0.9"/>
<rect x="171.1" y="631.9" width="16.8" height="7.7" fill="#B7C1E1" stroke="#333" stroke-width="0.9"/>
<line x1="171.1" y1="635.6" x2="187.9" y2="635.6" stroke="#333" stroke-width="0.9"/>
<circle cx="184.6" cy="638.8" r="1.75" fill="#5a5a5a" stroke="#1a1a1a" stroke-width="0.55"/>
<circle cx="183.6" cy="635.2" r="1.75" fill="#5a5a5a" stroke="#1a1a1a" stroke-width="0.55"/>
<circle cx="182.1" cy="635.0" r="1.75" fill="#5a5a5a" stroke="#1a1a1a" stroke-width="0.55"/>
<circle cx="176.5" cy="645.4" r="1.75" fill="#5a5a5a" stroke="#1a1a1a" stroke-width="0.55"/>
<circle cx="177.7" cy="648.0" r="1.75" fill="#5a5a5a" stroke="#1a1a1a" stroke-width="0.55"/>
<circle cx="181.9" cy="640.8" r="1.75" fill="#5a5a5a" stroke="#1a1a1a" stroke-width="0.55"/>
<circle cx="182.9" cy="642.8" r="1.75" fill="#5a5a5a" stroke="#1a1a1a" stroke-width="0.55"/>
<circle cx="174.2" cy="632.1" r="1.75" fill="#5a5a5a" stroke="#1a1a1a" stroke-width="0.55"/>
<circle cx="175.9" cy="634.5" r="1.75" fill="#5a5a5a" stroke="#1a1a1a" stroke-width="0.55"/>
<circle cx="183.9" cy="636.3" r="1.75" fill="#5a5a5a" stroke="#1a1a1a" stroke-width="0.55"/>
<circle cx="175.3" cy="637.1" r="1.75" fill="#5a5a5a" stroke="#1a1a1a" stroke-width="0.55"/>
<circle cx="181.2" cy="635.1" r="1.75" fill="#5a5a5a" stroke="#1a1a1a" stroke-width="0.55"/>
<circle cx="177.7" cy="645.4" r="1.75" fill="#5a5a5a" stroke="#1a1a1a" stroke-width="0.55"/>
<circle cx="181.1" cy="639.5" r="1.75" fill="#5a5a5a" stroke="#1a1a1a" stroke-width="0.55"/>
<circle cx="183.5" cy="645.0" r="1.75" fill="#5a5a5a" stroke="#1a1a1a" stroke-width="0.55"/>
<circle cx="180.4" cy="630.2" r="1.75" fill="#5a5a5a" stroke="#1a1a1a" stroke-width="0.55"/>
<circle cx="178.3" cy="647.1" r="1.75" fill="#5a5a5a" stroke="#1a1a1a" stroke-width="0.55"/>
<circle cx="177.6" cy="632.0" r="1.75" fill="#5a5a5a" stroke="#1a1a1a" stroke-width="0.55"/>
<circle cx="180.9" cy="646.8" r="1.75" fill="#5a5a5a" stroke="#1a1a1a" stroke-width="0.55"/>
<circle cx="181.0" cy="634.6" r="1.75" fill="#5a5a5a" stroke="#1a1a1a" stroke-width="0.55"/>
<circle cx="178.5" cy="641.5" r="1.75" fill="#5a5a5a" stroke="#1a1a1a" stroke-width="0.55"/>
<circle cx="179.2" cy="640.2" r="1.75" fill="#5a5a5a" stroke="#1a1a1a" stroke-width="0.55"/>
<line x1="179.5" y1="677.0" x2="179.5" y2="680.0" stroke="#111" stroke-width="0.9"/>
<text x="182.7" y="684.5" font-size="9.2" text-anchor="end" fill="#222" transform="rotate(-45 182.7 684.5)">LAMA4</text>
<line x1="201.6" y1="627.7" x2="201.6" y2="647.6" stroke="#333" stroke-width="0.9"/>
<rect x="193.2" y="630.7" width="16.8" height="8.2" fill="#B7C1E1" stroke="#333" stroke-width="0.9"/>
<line x1="193.2" y1="635.0" x2="210.0" y2="635.0" stroke="#333" stroke-width="0.9"/>
<circle cx="205.8" cy="627.7" r="1.75" fill="#5a5a5a" stroke="#1a1a1a" stroke-width="0.55"/>
<circle cx="199.9" cy="629.0" r="1.75" fill="#5a5a5a" stroke="#1a1a1a" stroke-width="0.55"/>
<circle cx="204.8" cy="631.7" r="1.75" fill="#5a5a5a" stroke="#1a1a1a" stroke-width="0.55"/>
<circle cx="206.6" cy="634.3" r="1.75" fill="#5a5a5a" stroke="#1a1a1a" stroke-width="0.55"/>
<circle cx="199.5" cy="638.3" r="1.75" fill="#5a5a5a" stroke="#1a1a1a" stroke-width="0.55"/>
<circle cx="204.6" cy="647.6" r="1.75" fill="#5a5a5a" stroke="#1a1a1a" stroke-width="0.55"/>
<line x1="201.6" y1="677.0" x2="201.6" y2="680.0" stroke="#111" stroke-width="0.9"/>
<text x="204.8" y="684.5" font-size="9.2" text-anchor="end" fill="#222" transform="rotate(-45 204.8 684.5)">LOXL2</text>
<line x1="223.7" y1="622.4" x2="223.7" y2="637.0" stroke="#333" stroke-width="0.9"/>
<rect x="215.3" y="628.4" width="16.8" height="6.4" fill="#B7C1E1" stroke="#333" stroke-width="0.9"/>
<line x1="215.3" y1="632.6" x2="232.1" y2="632.6" stroke="#333" stroke-width="0.9"/>
<circle cx="226.0" cy="622.4" r="1.75" fill="#5a5a5a" stroke="#1a1a1a" stroke-width="0.55"/>
<circle cx="228.1" cy="625.0" r="1.75" fill="#5a5a5a" stroke="#1a1a1a" stroke-width="0.55"/>
<circle cx="218.3" cy="627.7" r="1.75" fill="#5a5a5a" stroke="#1a1a1a" stroke-width="0.55"/>
<circle cx="228.5" cy="629.0" r="1.75" fill="#5a5a5a" stroke="#1a1a1a" stroke-width="0.55"/>
<circle cx="227.2" cy="631.7" r="1.75" fill="#5a5a5a" stroke="#1a1a1a" stroke-width="0.55"/>
<circle cx="218.8" cy="633.0" r="1.75" fill="#5a5a5a" stroke="#1a1a1a" stroke-width="0.55"/>
<circle cx="227.0" cy="634.3" r="1.75" fill="#5a5a5a" stroke="#1a1a1a" stroke-width="0.55"/>
<circle cx="227.0" cy="635.6" r="1.75" fill="#5a5a5a" stroke="#1a1a1a" stroke-width="0.55"/>
<circle cx="220.2" cy="637.0" r="1.75" fill="#5a5a5a" stroke="#1a1a1a" stroke-width="0.55"/>
<circle cx="228.8" cy="636.3" r="1.75" fill="#5a5a5a" stroke="#1a1a1a" stroke-width="0.55"/>
<line x1="223.7" y1="677.0" x2="223.7" y2="680.0" stroke="#111" stroke-width="0.9"/>
<text x="226.9" y="684.5" font-size="9.2" text-anchor="end" fill="#222" transform="rotate(-45 226.9 684.5)">MMP2</text>
<line x1="245.7" y1="578.9" x2="245.7" y2="650.6" stroke="#333" stroke-width="0.9"/>
<rect x="237.3" y="598.0" width="16.8" height="33.4" fill="#B7C1E1" stroke="#333" stroke-width="0.9"/>
<line x1="237.3" y1="613.9" x2="254.1" y2="613.9" stroke="#333" stroke-width="0.9"/>
<circle cx="242.9" cy="578.9" r="1.75" fill="#5a5a5a" stroke="#1a1a1a" stroke-width="0.55"/>
<circle cx="246.6" cy="605.2" r="1.75" fill="#5a5a5a" stroke="#1a1a1a" stroke-width="0.55"/>
<circle cx="250.9" cy="622.4" r="1.75" fill="#5a5a5a" stroke="#1a1a1a" stroke-width="0.55"/>
<circle cx="247.5" cy="650.6" r="1.75" fill="#5a5a5a" stroke="#1a1a1a" stroke-width="0.55"/>
<line x1="245.7" y1="677.0" x2="245.7" y2="680.0" stroke="#111" stroke-width="0.9"/>
<text x="248.9" y="684.5" font-size="9.2" text-anchor="end" fill="#222" transform="rotate(-45 248.9 684.5)">PSMD2</text>
<line x1="267.8" y1="631.0" x2="267.8" y2="640.3" stroke="#333" stroke-width="0.9"/>
<rect x="259.4" y="632.6" width="16.8" height="7.0" fill="#B7C1E1" stroke="#333" stroke-width="0.9"/>
<line x1="259.4" y1="636.0" x2="276.2" y2="636.0" stroke="#333" stroke-width="0.9"/>
<circle cx="263.7" cy="637.9" r="1.75" fill="#5a5a5a" stroke="#1a1a1a" stroke-width="0.55"/>
<circle cx="271.3" cy="633.9" r="1.75" fill="#5a5a5a" stroke="#1a1a1a" stroke-width="0.55"/>
<circle cx="272.0" cy="633.9" r="1.75" fill="#5a5a5a" stroke="#1a1a1a" stroke-width="0.55"/>
<circle cx="266.5" cy="632.4" r="1.75" fill="#5a5a5a" stroke="#1a1a1a" stroke-width="0.55"/>
<circle cx="265.3" cy="638.6" r="1.75" fill="#5a5a5a" stroke="#1a1a1a" stroke-width="0.55"/>
<circle cx="264.4" cy="638.1" r="1.75" fill="#5a5a5a" stroke="#1a1a1a" stroke-width="0.55"/>
<circle cx="263.2" cy="638.9" r="1.75" fill="#5a5a5a" stroke="#1a1a1a" stroke-width="0.55"/>
<circle cx="264.6" cy="638.2" r="1.75" fill="#5a5a5a" stroke="#1a1a1a" stroke-width="0.55"/>
<circle cx="264.5" cy="633.5" r="1.75" fill="#5a5a5a" stroke="#1a1a1a" stroke-width="0.55"/>
<circle cx="271.7" cy="639.1" r="1.75" fill="#5a5a5a" stroke="#1a1a1a" stroke-width="0.55"/>
<circle cx="264.4" cy="635.4" r="1.75" fill="#5a5a5a" stroke="#1a1a1a" stroke-width="0.55"/>
<line x1="267.8" y1="677.0" x2="267.8" y2="680.0" stroke="#111" stroke-width="0.9"/>
<text x="271.0" y="684.5" font-size="9.2" text-anchor="end" fill="#222" transform="rotate(-45 271.0 684.5)">RAC1</text>
<line x1="289.8" y1="593.2" x2="289.8" y2="651.8" stroke="#333" stroke-width="0.9"/>
<rect x="281.4" y="620.1" width="16.8" height="17.6" fill="#B7C1E1" stroke="#333" stroke-width="0.9"/>
<line x1="281.4" y1="629.6" x2="298.2" y2="629.6" stroke="#333" stroke-width="0.9"/>
<circle cx="287.4" cy="580.0" r="1.75" fill="#5a5a5a" stroke="#1a1a1a" stroke-width="0.55"/>
<circle cx="289.4" cy="587.9" r="1.75" fill="#5a5a5a" stroke="#1a1a1a" stroke-width="0.55"/>
<circle cx="290.4" cy="593.2" r="1.75" fill="#5a5a5a" stroke="#1a1a1a" stroke-width="0.55"/>
<circle cx="285.5" cy="595.9" r="1.75" fill="#5a5a5a" stroke="#1a1a1a" stroke-width="0.55"/>
<circle cx="289.9" cy="599.9" r="1.75" fill="#5a5a5a" stroke="#1a1a1a" stroke-width="0.55"/>
<circle cx="294.9" cy="646.7" r="1.75" fill="#5a5a5a" stroke="#1a1a1a" stroke-width="0.55"/>
<circle cx="290.5" cy="618.1" r="1.75" fill="#5a5a5a" stroke="#1a1a1a" stroke-width="0.55"/>
<circle cx="290.0" cy="620.5" r="1.75" fill="#5a5a5a" stroke="#1a1a1a" stroke-width="0.55"/>
<circle cx="293.0" cy="606.7" r="1.75" fill="#5a5a5a" stroke="#1a1a1a" stroke-width="0.55"/>
<circle cx="289.3" cy="638.8" r="1.75" fill="#5a5a5a" stroke="#1a1a1a" stroke-width="0.55"/>
<circle cx="287.4" cy="639.5" r="1.75" fill="#5a5a5a" stroke="#1a1a1a" stroke-width="0.55"/>
<circle cx="293.6" cy="616.6" r="1.75" fill="#5a5a5a" stroke="#1a1a1a" stroke-width="0.55"/>
<circle cx="286.2" cy="620.2" r="1.75" fill="#5a5a5a" stroke="#1a1a1a" stroke-width="0.55"/>
<circle cx="294.1" cy="637.3" r="1.75" fill="#5a5a5a" stroke="#1a1a1a" stroke-width="0.55"/>
<circle cx="294.1" cy="619.0" r="1.75" fill="#5a5a5a" stroke="#1a1a1a" stroke-width="0.55"/>
<circle cx="290.4" cy="632.8" r="1.75" fill="#5a5a5a" stroke="#1a1a1a" stroke-width="0.55"/>
<circle cx="290.0" cy="614.5" r="1.75" fill="#5a5a5a" stroke="#1a1a1a" stroke-width="0.55"/>
<circle cx="285.1" cy="646.1" r="1.75" fill="#5a5a5a" stroke="#1a1a1a" stroke-width="0.55"/>
<circle cx="286.2" cy="641.1" r="1.75" fill="#5a5a5a" stroke="#1a1a1a" stroke-width="0.55"/>
<circle cx="292.8" cy="608.6" r="1.75" fill="#5a5a5a" stroke="#1a1a1a" stroke-width="0.55"/>
<circle cx="292.4" cy="634.6" r="1.75" fill="#5a5a5a" stroke="#1a1a1a" stroke-width="0.55"/>
<circle cx="291.2" cy="639.3" r="1.75" fill="#5a5a5a" stroke="#1a1a1a" stroke-width="0.55"/>
<circle cx="285.9" cy="613.2" r="1.75" fill="#5a5a5a" stroke="#1a1a1a" stroke-width="0.55"/>
<circle cx="292.3" cy="621.5" r="1.75" fill="#5a5a5a" stroke="#1a1a1a" stroke-width="0.55"/>
<circle cx="295.2" cy="644.6" r="1.75" fill="#5a5a5a" stroke="#1a1a1a" stroke-width="0.55"/>
<circle cx="293.9" cy="625.4" r="1.75" fill="#5a5a5a" stroke="#1a1a1a" stroke-width="0.55"/>
<circle cx="291.7" cy="620.0" r="1.75" fill="#5a5a5a" stroke="#1a1a1a" stroke-width="0.55"/>
<circle cx="289.2" cy="643.9" r="1.75" fill="#5a5a5a" stroke="#1a1a1a" stroke-width="0.55"/>
<circle cx="289.0" cy="620.6" r="1.75" fill="#5a5a5a" stroke="#1a1a1a" stroke-width="0.55"/>
<circle cx="286.0" cy="645.9" r="1.75" fill="#5a5a5a" stroke="#1a1a1a" stroke-width="0.55"/>
<circle cx="284.8" cy="635.6" r="1.75" fill="#5a5a5a" stroke="#1a1a1a" stroke-width="0.55"/>
<circle cx="295.0" cy="647.8" r="1.75" fill="#5a5a5a" stroke="#1a1a1a" stroke-width="0.55"/>
<circle cx="288.7" cy="642.0" r="1.75" fill="#5a5a5a" stroke="#1a1a1a" stroke-width="0.55"/>
<circle cx="288.6" cy="604.9" r="1.75" fill="#5a5a5a" stroke="#1a1a1a" stroke-width="0.55"/>
<circle cx="289.7" cy="632.5" r="1.75" fill="#5a5a5a" stroke="#1a1a1a" stroke-width="0.55"/>
<circle cx="295.2" cy="604.3" r="1.75" fill="#5a5a5a" stroke="#1a1a1a" stroke-width="0.55"/>
<circle cx="294.4" cy="630.8" r="1.75" fill="#5a5a5a" stroke="#1a1a1a" stroke-width="0.55"/>
<circle cx="291.9" cy="622.7" r="1.75" fill="#5a5a5a" stroke="#1a1a1a" stroke-width="0.55"/>
<circle cx="293.0" cy="610.0" r="1.75" fill="#5a5a5a" stroke="#1a1a1a" stroke-width="0.55"/>
<circle cx="290.1" cy="618.9" r="1.75" fill="#5a5a5a" stroke="#1a1a1a" stroke-width="0.55"/>
<circle cx="291.5" cy="646.5" r="1.75" fill="#5a5a5a" stroke="#1a1a1a" stroke-width="0.55"/>
<circle cx="293.1" cy="623.6" r="1.75" fill="#5a5a5a" stroke="#1a1a1a" stroke-width="0.55"/>
<circle cx="291.7" cy="621.4" r="1.75" fill="#5a5a5a" stroke="#1a1a1a" stroke-width="0.55"/>
<circle cx="284.9" cy="643.1" r="1.75" fill="#5a5a5a" stroke="#1a1a1a" stroke-width="0.55"/>
<circle cx="289.5" cy="647.3" r="1.75" fill="#5a5a5a" stroke="#1a1a1a" stroke-width="0.55"/>
<circle cx="290.8" cy="609.8" r="1.75" fill="#5a5a5a" stroke="#1a1a1a" stroke-width="0.55"/>
<circle cx="291.7" cy="627.2" r="1.75" fill="#5a5a5a" stroke="#1a1a1a" stroke-width="0.55"/>
<circle cx="294.6" cy="642.5" r="1.75" fill="#5a5a5a" stroke="#1a1a1a" stroke-width="0.55"/>
<circle cx="292.9" cy="630.1" r="1.75" fill="#5a5a5a" stroke="#1a1a1a" stroke-width="0.55"/>
<circle cx="288.9" cy="641.3" r="1.75" fill="#5a5a5a" stroke="#1a1a1a" stroke-width="0.55"/>
<line x1="289.8" y1="677.0" x2="289.8" y2="680.0" stroke="#111" stroke-width="0.9"/>
<text x="293.0" y="684.5" font-size="9.2" text-anchor="end" fill="#222" transform="rotate(-45 293.0 684.5)">TIMP2</text>
<line x1="311.9" y1="607.0" x2="311.9" y2="651.3" stroke="#333" stroke-width="0.9"/>
<rect x="303.5" y="623.3" width="16.8" height="13.7" fill="#B7C1E1" stroke="#333" stroke-width="0.9"/>
<line x1="303.5" y1="629.2" x2="320.3" y2="629.2" stroke="#333" stroke-width="0.9"/>
<circle cx="316.7" cy="607.0" r="1.75" fill="#5a5a5a" stroke="#1a1a1a" stroke-width="0.55"/>
<circle cx="310.7" cy="610.5" r="1.75" fill="#5a5a5a" stroke="#1a1a1a" stroke-width="0.55"/>
<circle cx="315.4" cy="614.4" r="1.75" fill="#5a5a5a" stroke="#1a1a1a" stroke-width="0.55"/>
<circle cx="309.1" cy="618.3" r="1.75" fill="#5a5a5a" stroke="#1a1a1a" stroke-width="0.55"/>
<circle cx="311.7" cy="650.9" r="1.75" fill="#5a5a5a" stroke="#1a1a1a" stroke-width="0.55"/>
<circle cx="309.4" cy="626.1" r="1.75" fill="#5a5a5a" stroke="#1a1a1a" stroke-width="0.55"/>
<circle cx="312.4" cy="645.9" r="1.75" fill="#5a5a5a" stroke="#1a1a1a" stroke-width="0.55"/>
<circle cx="307.2" cy="617.6" r="1.75" fill="#5a5a5a" stroke="#1a1a1a" stroke-width="0.55"/>
<circle cx="311.0" cy="650.7" r="1.75" fill="#5a5a5a" stroke="#1a1a1a" stroke-width="0.55"/>
<circle cx="309.9" cy="621.2" r="1.75" fill="#5a5a5a" stroke="#1a1a1a" stroke-width="0.55"/>
<circle cx="306.8" cy="628.0" r="1.75" fill="#5a5a5a" stroke="#1a1a1a" stroke-width="0.55"/>
<circle cx="315.4" cy="622.0" r="1.75" fill="#5a5a5a" stroke="#1a1a1a" stroke-width="0.55"/>
<circle cx="316.4" cy="617.1" r="1.75" fill="#5a5a5a" stroke="#1a1a1a" stroke-width="0.55"/>
<circle cx="308.1" cy="643.1" r="1.75" fill="#5a5a5a" stroke="#1a1a1a" stroke-width="0.55"/>
<circle cx="313.4" cy="639.7" r="1.75" fill="#5a5a5a" stroke="#1a1a1a" stroke-width="0.55"/>
<circle cx="312.2" cy="627.1" r="1.75" fill="#5a5a5a" stroke="#1a1a1a" stroke-width="0.55"/>
<circle cx="311.1" cy="641.7" r="1.75" fill="#5a5a5a" stroke="#1a1a1a" stroke-width="0.55"/>
<circle cx="312.9" cy="642.3" r="1.75" fill="#5a5a5a" stroke="#1a1a1a" stroke-width="0.55"/>
<circle cx="313.7" cy="643.5" r="1.75" fill="#5a5a5a" stroke="#1a1a1a" stroke-width="0.55"/>
<circle cx="309.5" cy="622.0" r="1.75" fill="#5a5a5a" stroke="#1a1a1a" stroke-width="0.55"/>
<circle cx="310.4" cy="621.4" r="1.75" fill="#5a5a5a" stroke="#1a1a1a" stroke-width="0.55"/>
<line x1="311.9" y1="677.0" x2="311.9" y2="680.0" stroke="#111" stroke-width="0.9"/>
<text x="315.1" y="684.5" font-size="9.2" text-anchor="end" fill="#222" transform="rotate(-45 315.1 684.5)">VASN</text>
<text x="13.8" y="793.6" font-size="14.2" text-anchor="middle" fill="#111" transform="rotate(-90 13.8 793.6)">3UTR</text>
<text x="26.7" y="790.7" font-size="9.2" text-anchor="middle" fill="#111" transform="rotate(-90 26.7 790.7)">SU-DIPGXVII vs normal</text>
<text x="37.8" y="785.6" font-size="9.2" text-anchor="middle" fill="#111" transform="rotate(-90 37.8 785.6)">&#916;m6a (%)</text>
<line x1="53.4" y1="724.5" x2="53.4" y2="852.0" stroke="#111" stroke-width="1.1"/>
<line x1="52.9" y1="851.5" x2="179.6" y2="851.5" stroke="#111" stroke-width="1.1"/>
<line x1="50.0" y1="725.7" x2="53.4" y2="725.7" stroke="#111" stroke-width="0.9"/>
<text x="48.6" y="729.0" font-size="9.2" text-anchor="end" fill="#222">25</text>
<line x1="50.0" y1="757.2" x2="53.4" y2="757.2" stroke="#111" stroke-width="0.9"/>
<line x1="50.0" y1="788.7" x2="53.4" y2="788.7" stroke="#111" stroke-width="0.9"/>
<text x="48.6" y="792.0" font-size="9.2" text-anchor="end" fill="#222">0</text>
<line x1="50.0" y1="820.2" x2="53.4" y2="820.2" stroke="#111" stroke-width="0.9"/>
<line x1="50.0" y1="851.7" x2="53.4" y2="851.7" stroke="#111" stroke-width="0.9"/>
<text x="48.6" y="855.0" font-size="9.2" text-anchor="end" fill="#222">&#8722;25</text>
<line x1="68.6" y1="774.6" x2="68.6" y2="819.9" stroke="#333" stroke-width="0.9"/>
<rect x="62.2" y="791.2" width="12.8" height="19.4" fill="#B7C1E1" stroke="#333" stroke-width="0.9"/>
<line x1="62.2" y1="801.8" x2="75.0" y2="801.8" stroke="#333" stroke-width="0.9"/>
<circle cx="65.0" cy="774.6" r="1.35" fill="#5a5a5a" stroke="#1a1a1a" stroke-width="0.55"/>
<circle cx="66.2" cy="796.3" r="1.35" fill="#5a5a5a" stroke="#1a1a1a" stroke-width="0.55"/>
<circle cx="70.3" cy="808.9" r="1.35" fill="#5a5a5a" stroke="#1a1a1a" stroke-width="0.55"/>
<circle cx="65.7" cy="819.9" r="1.35" fill="#5a5a5a" stroke="#1a1a1a" stroke-width="0.55"/>
<line x1="68.6" y1="851.5" x2="68.6" y2="854.5" stroke="#111" stroke-width="0.9"/>
<text x="71.8" y="858.5" font-size="9.2" text-anchor="end" fill="#222" transform="rotate(-45 71.8 858.5)">CENPK</text>
<line x1="78.2" y1="820.5" x2="91.8" y2="820.5" stroke="#333" stroke-width="1.1"/>
<circle cx="85.0" cy="820.5" r="1.6" fill="#5a5a5a" stroke="#1a1a1a" stroke-width="0.55"/>
<line x1="85.0" y1="851.5" x2="85.0" y2="854.5" stroke="#111" stroke-width="0.9"/>
<text x="88.2" y="858.5" font-size="9.2" text-anchor="end" fill="#222" transform="rotate(-45 88.2 858.5)">CENPS</text>
<line x1="101.5" y1="781.9" x2="101.5" y2="847.7" stroke="#333" stroke-width="0.9"/>
<rect x="95.1" y="800.3" width="12.8" height="30.5" fill="#B7C1E1" stroke="#333" stroke-width="0.9"/>
<line x1="95.1" y1="808.1" x2="107.9" y2="808.1" stroke="#333" stroke-width="0.9"/>
<circle cx="103.6" cy="781.9" r="1.35" fill="#5a5a5a" stroke="#1a1a1a" stroke-width="0.55"/>
<circle cx="102.7" cy="783.7" r="1.35" fill="#5a5a5a" stroke="#1a1a1a" stroke-width="0.55"/>
<circle cx="100.8" cy="793.7" r="1.35" fill="#5a5a5a" stroke="#1a1a1a" stroke-width="0.55"/>
<circle cx="99.1" cy="796.3" r="1.35" fill="#5a5a5a" stroke="#1a1a1a" stroke-width="0.55"/>
<circle cx="102.9" cy="801.3" r="1.35" fill="#5a5a5a" stroke="#1a1a1a" stroke-width="0.55"/>
<circle cx="105.3" cy="803.8" r="1.35" fill="#5a5a5a" stroke="#1a1a1a" stroke-width="0.55"/>
<circle cx="100.9" cy="806.3" r="1.35" fill="#5a5a5a" stroke="#1a1a1a" stroke-width="0.55"/>
<circle cx="104.3" cy="807.6" r="1.35" fill="#5a5a5a" stroke="#1a1a1a" stroke-width="0.55"/>
<circle cx="97.8" cy="808.9" r="1.35" fill="#5a5a5a" stroke="#1a1a1a" stroke-width="0.55"/>
<circle cx="101.7" cy="811.4" r="1.35" fill="#5a5a5a" stroke="#1a1a1a" stroke-width="0.55"/>
<circle cx="99.1" cy="813.9" r="1.35" fill="#5a5a5a" stroke="#1a1a1a" stroke-width="0.55"/>
<circle cx="101.5" cy="818.9" r="1.35" fill="#5a5a5a" stroke="#1a1a1a" stroke-width="0.55"/>
<circle cx="102.4" cy="824.0" r="1.35" fill="#5a5a5a" stroke="#1a1a1a" stroke-width="0.55"/>
<circle cx="104.3" cy="829.0" r="1.35" fill="#5a5a5a" stroke="#1a1a1a" stroke-width="0.55"/>
<circle cx="101.7" cy="836.6" r="1.35" fill="#5a5a5a" stroke="#1a1a1a" stroke-width="0.55"/>
<circle cx="104.5" cy="841.6" r="1.35" fill="#5a5a5a" stroke="#1a1a1a" stroke-width="0.55"/>
<circle cx="100.1" cy="847.7" r="1.35" fill="#5a5a5a" stroke="#1a1a1a" stroke-width="0.55"/>
<line x1="101.5" y1="851.5" x2="101.5" y2="854.5" stroke="#111" stroke-width="0.9"/>
<text x="104.7" y="858.5" font-size="9.2" text-anchor="end" fill="#222" transform="rotate(-45 104.7 858.5)">CENPX</text>
<line x1="117.9" y1="775.6" x2="117.9" y2="814.9" stroke="#333" stroke-width="0.9"/>
<rect x="111.5" y="793.5" width="12.8" height="15.6" fill="#B7C1E1" stroke="#333" stroke-width="0.9"/>
<line x1="111.5" y1="801.0" x2="124.3" y2="801.0" stroke="#333" stroke-width="0.9"/>
<circle cx="114.7" cy="775.6" r="1.35" fill="#5a5a5a" stroke="#1a1a1a" stroke-width="0.55"/>
<circle cx="120.7" cy="793.7" r="1.35" fill="#5a5a5a" stroke="#1a1a1a" stroke-width="0.55"/>
<circle cx="118.8" cy="796.3" r="1.35" fill="#5a5a5a" stroke="#1a1a1a" stroke-width="0.55"/>
<circle cx="115.7" cy="801.3" r="1.35" fill="#5a5a5a" stroke="#1a1a1a" stroke-width="0.55"/>
<circle cx="120.2" cy="803.8" r="1.35" fill="#5a5a5a" stroke="#1a1a1a" stroke-width="0.55"/>
<circle cx="118.7" cy="808.9" r="1.35" fill="#5a5a5a" stroke="#1a1a1a" stroke-width="0.55"/>
<circle cx="120.6" cy="811.4" r="1.35" fill="#5a5a5a" stroke="#1a1a1a" stroke-width="0.55"/>
<circle cx="118.8" cy="814.9" r="1.35" fill="#5a5a5a" stroke="#1a1a1a" stroke-width="0.55"/>
<line x1="117.9" y1="851.5" x2="117.9" y2="854.5" stroke="#111" stroke-width="0.9"/>
<text x="121.1" y="858.5" font-size="9.2" text-anchor="end" fill="#222" transform="rotate(-45 121.1 858.5)">SPC24</text>
<line x1="127.6" y1="816.9" x2="141.2" y2="816.9" stroke="#333" stroke-width="1.1"/>
<circle cx="134.4" cy="816.9" r="1.6" fill="#5a5a5a" stroke="#1a1a1a" stroke-width="0.55"/>
<line x1="134.4" y1="851.5" x2="134.4" y2="854.5" stroke="#111" stroke-width="0.9"/>
<text x="137.6" y="858.5" font-size="9.2" text-anchor="end" fill="#222" transform="rotate(-45 137.6 858.5)">SPC25</text>
<line x1="150.8" y1="800.3" x2="150.8" y2="819.9" stroke="#333" stroke-width="0.9"/>
<rect x="144.4" y="801.8" width="12.8" height="9.3" fill="#B7C1E1" stroke="#333" stroke-width="0.9"/>
<line x1="144.4" y1="803.8" x2="157.2" y2="803.8" stroke="#333" stroke-width="0.9"/>
<circle cx="150.3" cy="800.3" r="1.35" fill="#5a5a5a" stroke="#1a1a1a" stroke-width="0.55"/>
<circle cx="152.6" cy="801.3" r="1.35" fill="#5a5a5a" stroke="#1a1a1a" stroke-width="0.55"/>
<circle cx="151.1" cy="803.8" r="1.35" fill="#5a5a5a" stroke="#1a1a1a" stroke-width="0.55"/>
<circle cx="150.8" cy="808.9" r="1.35" fill="#5a5a5a" stroke="#1a1a1a" stroke-width="0.55"/>
<circle cx="153.5" cy="813.9" r="1.35" fill="#5a5a5a" stroke="#1a1a1a" stroke-width="0.55"/>
<circle cx="148.7" cy="819.9" r="1.35" fill="#5a5a5a" stroke="#1a1a1a" stroke-width="0.55"/>
<line x1="150.8" y1="851.5" x2="150.8" y2="854.5" stroke="#111" stroke-width="0.9"/>
<text x="154.0" y="858.5" font-size="9.2" text-anchor="end" fill="#222" transform="rotate(-45 154.0 858.5)">ZWILCH</text>
<line x1="167.3" y1="776.1" x2="167.3" y2="822.7" stroke="#333" stroke-width="0.9"/>
<rect x="160.9" y="792.2" width="12.8" height="13.1" fill="#B7C1E1" stroke="#333" stroke-width="0.9"/>
<line x1="160.9" y1="796.5" x2="173.7" y2="796.5" stroke="#333" stroke-width="0.9"/>
<circle cx="163.4" cy="776.1" r="1.35" fill="#5a5a5a" stroke="#1a1a1a" stroke-width="0.55"/>
<circle cx="165.7" cy="777.4" r="1.35" fill="#5a5a5a" stroke="#1a1a1a" stroke-width="0.55"/>
<circle cx="169.2" cy="781.1" r="1.35" fill="#5a5a5a" stroke="#1a1a1a" stroke-width="0.55"/>
<circle cx="170.0" cy="791.2" r="1.35" fill="#5a5a5a" stroke="#1a1a1a" stroke-width="0.55"/>
<circle cx="170.5" cy="793.7" r="1.35" fill="#5a5a5a" stroke="#1a1a1a" stroke-width="0.55"/>
<circle cx="171.1" cy="796.3" r="1.35" fill="#5a5a5a" stroke="#1a1a1a" stroke-width="0.55"/>
<circle cx="164.8" cy="798.8" r="1.35" fill="#5a5a5a" stroke="#1a1a1a" stroke-width="0.55"/>
<circle cx="165.4" cy="801.3" r="1.35" fill="#5a5a5a" stroke="#1a1a1a" stroke-width="0.55"/>
<circle cx="167.5" cy="803.8" r="1.35" fill="#5a5a5a" stroke="#1a1a1a" stroke-width="0.55"/>
<circle cx="168.5" cy="811.4" r="1.35" fill="#5a5a5a" stroke="#1a1a1a" stroke-width="0.55"/>
<circle cx="164.8" cy="822.7" r="1.35" fill="#5a5a5a" stroke="#1a1a1a" stroke-width="0.55"/>
<circle cx="169.2" cy="830.3" r="1.35" fill="#5a5a5a" stroke="#1a1a1a" stroke-width="0.55"/>
<circle cx="165.5" cy="831.5" r="1.35" fill="#5a5a5a" stroke="#1a1a1a" stroke-width="0.55"/>
<line x1="167.3" y1="851.5" x2="167.3" y2="854.5" stroke="#111" stroke-width="0.9"/>
<text x="170.5" y="858.5" font-size="9.2" text-anchor="end" fill="#222" transform="rotate(-45 170.5 858.5)">ZWINT</text>
<line x1="211.0" y1="724.0" x2="211.0" y2="852.8" stroke="#111" stroke-width="1.1"/>
<line x1="210.5" y1="852.3" x2="343.7" y2="852.3" stroke="#111" stroke-width="1.1"/>
<line x1="207.8" y1="726.6" x2="211.0" y2="726.6" stroke="#111" stroke-width="0.9"/>
<text x="206.5" y="729.8" font-size="9.2" text-anchor="end" fill="#222">25</text>
<line x1="207.8" y1="758.0" x2="211.0" y2="758.0" stroke="#111" stroke-width="0.9"/>
<text x="206.5" y="761.3" font-size="9.2" text-anchor="end" fill="#222">0</text>
<line x1="207.8" y1="789.4" x2="211.0" y2="789.4" stroke="#111" stroke-width="0.9"/>
<text x="206.5" y="792.7" font-size="9.2" text-anchor="end" fill="#222">&#8722;25</text>
<line x1="207.8" y1="820.9" x2="211.0" y2="820.9" stroke="#111" stroke-width="0.9"/>
<text x="206.5" y="824.1" font-size="9.2" text-anchor="end" fill="#222">&#8722;50</text>
<line x1="207.8" y1="852.3" x2="211.0" y2="852.3" stroke="#111" stroke-width="0.9"/>
<text x="206.5" y="855.5" font-size="9.2" text-anchor="end" fill="#222">&#8722;75</text>
<line x1="222.0" y1="731.6" x2="222.0" y2="759.3" stroke="#333" stroke-width="0.9"/>
<rect x="215.6" y="746.3" width="12.8" height="9.7" fill="#B7C1E1" stroke="#333" stroke-width="0.9"/>
<line x1="215.6" y1="750.5" x2="228.4" y2="750.5" stroke="#333" stroke-width="0.9"/>
<circle cx="222.8" cy="731.6" r="1.3" fill="#5a5a5a" stroke="#1a1a1a" stroke-width="0.55"/>
<circle cx="220.8" cy="740.4" r="1.3" fill="#5a5a5a" stroke="#1a1a1a" stroke-width="0.55"/>
<circle cx="218.0" cy="742.9" r="1.3" fill="#5a5a5a" stroke="#1a1a1a" stroke-width="0.55"/>
<circle cx="220.8" cy="745.4" r="1.3" fill="#5a5a5a" stroke="#1a1a1a" stroke-width="0.55"/>
<circle cx="224.6" cy="746.7" r="1.3" fill="#5a5a5a" stroke="#1a1a1a" stroke-width="0.55"/>
<circle cx="221.4" cy="747.9" r="1.3" fill="#5a5a5a" stroke="#1a1a1a" stroke-width="0.55"/>
<circle cx="222.6" cy="749.2" r="1.3" fill="#5a5a5a" stroke="#1a1a1a" stroke-width="0.55"/>
<circle cx="219.3" cy="750.5" r="1.3" fill="#5a5a5a" stroke="#1a1a1a" stroke-width="0.55"/>
<circle cx="221.4" cy="751.7" r="1.3" fill="#5a5a5a" stroke="#1a1a1a" stroke-width="0.55"/>
<circle cx="220.9" cy="753.0" r="1.3" fill="#5a5a5a" stroke="#1a1a1a" stroke-width="0.55"/>
<circle cx="219.1" cy="754.2" r="1.3" fill="#5a5a5a" stroke="#1a1a1a" stroke-width="0.55"/>
<circle cx="220.0" cy="755.5" r="1.3" fill="#5a5a5a" stroke="#1a1a1a" stroke-width="0.55"/>
<circle cx="218.8" cy="756.7" r="1.3" fill="#5a5a5a" stroke="#1a1a1a" stroke-width="0.55"/>
<circle cx="224.9" cy="758.0" r="1.3" fill="#5a5a5a" stroke="#1a1a1a" stroke-width="0.55"/>
<circle cx="222.0" cy="759.3" r="1.3" fill="#5a5a5a" stroke="#1a1a1a" stroke-width="0.55"/>
<circle cx="222.1" cy="771.8" r="1.3" fill="#5a5a5a" stroke="#1a1a1a" stroke-width="0.55"/>
<line x1="222.0" y1="852.3" x2="222.0" y2="855.3" stroke="#111" stroke-width="0.9"/>
<text x="225.2" y="859.3" font-size="9.2" text-anchor="end" fill="#222" transform="rotate(-45 225.2 859.3)">CREBBP</text>
<line x1="238.8" y1="750.5" x2="238.8" y2="754.2" stroke="#333" stroke-width="0.9"/>
<rect x="232.4" y="751.0" width="12.8" height="2.3" fill="#B7C1E1" stroke="#333" stroke-width="0.9"/>
<line x1="232.4" y1="752.3" x2="245.2" y2="752.3" stroke="#333" stroke-width="0.9"/>
<circle cx="238.0" cy="750.7" r="1.3" fill="#5a5a5a" stroke="#1a1a1a" stroke-width="0.55"/>
<circle cx="241.2" cy="753.0" r="1.3" fill="#5a5a5a" stroke="#1a1a1a" stroke-width="0.55"/>
<circle cx="238.7" cy="753.6" r="1.3" fill="#5a5a5a" stroke="#1a1a1a" stroke-width="0.55"/>
<line x1="238.8" y1="852.3" x2="238.8" y2="855.3" stroke="#111" stroke-width="0.9"/>
<text x="242.0" y="859.3" font-size="9.2" text-anchor="end" fill="#222" transform="rotate(-45 242.0 859.3)">EP300</text>
<line x1="255.6" y1="740.5" x2="255.6" y2="762.7" stroke="#333" stroke-width="0.9"/>
<rect x="249.2" y="745.1" width="12.8" height="10.9" fill="#B7C1E1" stroke="#333" stroke-width="0.9"/>
<line x1="249.2" y1="749.6" x2="262.0" y2="749.6" stroke="#333" stroke-width="0.9"/>
<circle cx="259.3" cy="740.5" r="1.3" fill="#5a5a5a" stroke="#1a1a1a" stroke-width="0.55"/>
<circle cx="255.9" cy="745.4" r="1.3" fill="#5a5a5a" stroke="#1a1a1a" stroke-width="0.55"/>
<circle cx="256.0" cy="750.5" r="1.3" fill="#5a5a5a" stroke="#1a1a1a" stroke-width="0.55"/>
<circle cx="255.4" cy="755.5" r="1.3" fill="#5a5a5a" stroke="#1a1a1a" stroke-width="0.55"/>
<circle cx="253.1" cy="762.7" r="1.3" fill="#5a5a5a" stroke="#1a1a1a" stroke-width="0.55"/>
<line x1="255.6" y1="852.3" x2="255.6" y2="855.3" stroke="#111" stroke-width="0.9"/>
<text x="258.8" y="859.3" font-size="9.2" text-anchor="end" fill="#222" transform="rotate(-45 258.8 859.3)">HDAC2</text>
<line x1="272.4" y1="730.3" x2="272.4" y2="764.3" stroke="#333" stroke-width="0.9"/>
<rect x="266.0" y="740.0" width="12.8" height="9.6" fill="#B7C1E1" stroke="#333" stroke-width="0.9"/>
<line x1="266.0" y1="746.9" x2="278.8" y2="746.9" stroke="#333" stroke-width="0.9"/>
<circle cx="268.7" cy="730.3" r="1.3" fill="#5a5a5a" stroke="#1a1a1a" stroke-width="0.55"/>
<circle cx="276.2" cy="732.9" r="1.3" fill="#5a5a5a" stroke="#1a1a1a" stroke-width="0.55"/>
<circle cx="270.0" cy="735.4" r="1.3" fill="#5a5a5a" stroke="#1a1a1a" stroke-width="0.55"/>
<circle cx="276.4" cy="739.1" r="1.3" fill="#5a5a5a" stroke="#1a1a1a" stroke-width="0.55"/>
<circle cx="276.0" cy="742.9" r="1.3" fill="#5a5a5a" stroke="#1a1a1a" stroke-width="0.55"/>
<circle cx="270.5" cy="745.4" r="1.3" fill="#5a5a5a" stroke="#1a1a1a" stroke-width="0.55"/>
<circle cx="272.5" cy="746.7" r="1.3" fill="#5a5a5a" stroke="#1a1a1a" stroke-width="0.55"/>
<circle cx="271.6" cy="747.9" r="1.3" fill="#5a5a5a" stroke="#1a1a1a" stroke-width="0.55"/>
<circle cx="271.7" cy="749.2" r="1.3" fill="#5a5a5a" stroke="#1a1a1a" stroke-width="0.55"/>
<circle cx="274.7" cy="750.5" r="1.3" fill="#5a5a5a" stroke="#1a1a1a" stroke-width="0.55"/>
<circle cx="275.0" cy="751.7" r="1.3" fill="#5a5a5a" stroke="#1a1a1a" stroke-width="0.55"/>
<circle cx="270.5" cy="754.2" r="1.3" fill="#5a5a5a" stroke="#1a1a1a" stroke-width="0.55"/>
<circle cx="272.8" cy="758.0" r="1.3" fill="#5a5a5a" stroke="#1a1a1a" stroke-width="0.55"/>
<circle cx="273.9" cy="760.5" r="1.3" fill="#5a5a5a" stroke="#1a1a1a" stroke-width="0.55"/>
<circle cx="273.2" cy="764.3" r="1.3" fill="#5a5a5a" stroke="#1a1a1a" stroke-width="0.55"/>
<line x1="272.4" y1="852.3" x2="272.4" y2="855.3" stroke="#111" stroke-width="0.9"/>
<text x="275.6" y="859.3" font-size="9.2" text-anchor="end" fill="#222" transform="rotate(-45 275.6 859.3)">KDM2A</text>
<line x1="289.2" y1="735.8" x2="289.2" y2="758.0" stroke="#333" stroke-width="0.9"/>
<rect x="282.8" y="743.3" width="12.8" height="9.9" fill="#B7C1E1" stroke="#333" stroke-width="0.9"/>
<line x1="282.8" y1="752.7" x2="295.6" y2="752.7" stroke="#333" stroke-width="0.9"/>
<circle cx="286.3" cy="735.8" r="1.3" fill="#5a5a5a" stroke="#1a1a1a" stroke-width="0.55"/>
<circle cx="288.6" cy="742.9" r="1.3" fill="#5a5a5a" stroke="#1a1a1a" stroke-width="0.55"/>
<circle cx="292.0" cy="751.7" r="1.3" fill="#5a5a5a" stroke="#1a1a1a" stroke-width="0.55"/>
<circle cx="288.8" cy="754.2" r="1.3" fill="#5a5a5a" stroke="#1a1a1a" stroke-width="0.55"/>
<circle cx="287.1" cy="758.0" r="1.3" fill="#5a5a5a" stroke="#1a1a1a" stroke-width="0.55"/>
<line x1="289.2" y1="852.3" x2="289.2" y2="855.3" stroke="#111" stroke-width="0.9"/>
<text x="292.4" y="859.3" font-size="9.2" text-anchor="end" fill="#222" transform="rotate(-45 292.4 859.3)">KDM4B</text>
<line x1="306.0" y1="731.0" x2="306.0" y2="754.4" stroke="#333" stroke-width="0.9"/>
<rect x="299.6" y="741.9" width="12.8" height="9.7" fill="#B7C1E1" stroke="#333" stroke-width="0.9"/>
<line x1="299.6" y1="746.9" x2="312.4" y2="746.9" stroke="#333" stroke-width="0.9"/>
<circle cx="303.5" cy="731.0" r="1.3" fill="#5a5a5a" stroke="#1a1a1a" stroke-width="0.55"/>
<circle cx="306.5" cy="735.4" r="1.3" fill="#5a5a5a" stroke="#1a1a1a" stroke-width="0.55"/>
<circle cx="307.0" cy="742.9" r="1.3" fill="#5a5a5a" stroke="#1a1a1a" stroke-width="0.55"/>
<circle cx="304.3" cy="745.4" r="1.3" fill="#5a5a5a" stroke="#1a1a1a" stroke-width="0.55"/>
<circle cx="303.4" cy="747.9" r="1.3" fill="#5a5a5a" stroke="#1a1a1a" stroke-width="0.55"/>
<circle cx="308.2" cy="750.5" r="1.3" fill="#5a5a5a" stroke="#1a1a1a" stroke-width="0.55"/>
<circle cx="306.9" cy="751.7" r="1.3" fill="#5a5a5a" stroke="#1a1a1a" stroke-width="0.55"/>
<circle cx="303.5" cy="754.2" r="1.3" fill="#5a5a5a" stroke="#1a1a1a" stroke-width="0.55"/>
<line x1="306.0" y1="852.3" x2="306.0" y2="855.3" stroke="#111" stroke-width="0.9"/>
<text x="309.2" y="859.3" font-size="9.2" text-anchor="end" fill="#222" transform="rotate(-45 309.2 859.3)">KDM5A</text>
<line x1="322.8" y1="728.8" x2="322.8" y2="764.9" stroke="#333" stroke-width="0.9"/>
<rect x="316.4" y="741.3" width="12.8" height="15.3" fill="#B7C1E1" stroke="#333" stroke-width="0.9"/>
<line x1="316.4" y1="746.9" x2="329.2" y2="746.9" stroke="#333" stroke-width="0.9"/>
<circle cx="322.2" cy="728.8" r="1.3" fill="#5a5a5a" stroke="#1a1a1a" stroke-width="0.55"/>
<circle cx="323.0" cy="739.1" r="1.3" fill="#5a5a5a" stroke="#1a1a1a" stroke-width="0.55"/>
<circle cx="320.3" cy="745.4" r="1.3" fill="#5a5a5a" stroke="#1a1a1a" stroke-width="0.55"/>
<circle cx="324.9" cy="747.9" r="1.3" fill="#5a5a5a" stroke="#1a1a1a" stroke-width="0.55"/>
<circle cx="320.5" cy="751.7" r="1.3" fill="#5a5a5a" stroke="#1a1a1a" stroke-width="0.55"/>
<circle cx="324.6" cy="755.5" r="1.3" fill="#5a5a5a" stroke="#1a1a1a" stroke-width="0.55"/>
<circle cx="321.8" cy="761.8" r="1.3" fill="#5a5a5a" stroke="#1a1a1a" stroke-width="0.55"/>
<circle cx="324.2" cy="764.9" r="1.3" fill="#5a5a5a" stroke="#1a1a1a" stroke-width="0.55"/>
<line x1="322.8" y1="852.3" x2="322.8" y2="855.3" stroke="#111" stroke-width="0.9"/>
<text x="326.0" y="859.3" font-size="9.2" text-anchor="end" fill="#222" transform="rotate(-45 326.0 859.3)">KDM5B</text>
<line x1="339.6" y1="763.5" x2="339.6" y2="846.0" stroke="#333" stroke-width="0.9"/>
<rect x="333.2" y="780.2" width="12.8" height="35.2" fill="#B7C1E1" stroke="#333" stroke-width="0.9"/>
<line x1="333.2" y1="795.5" x2="346.0" y2="795.5" stroke="#333" stroke-width="0.9"/>
<circle cx="340.7" cy="763.5" r="1.3" fill="#5a5a5a" stroke="#1a1a1a" stroke-width="0.55"/>
<circle cx="338.0" cy="785.7" r="1.3" fill="#5a5a5a" stroke="#1a1a1a" stroke-width="0.55"/>
<circle cx="341.1" cy="804.5" r="1.3" fill="#5a5a5a" stroke="#1a1a1a" stroke-width="0.55"/>
<circle cx="339.8" cy="846.0" r="1.3" fill="#5a5a5a" stroke="#1a1a1a" stroke-width="0.55"/>
<line x1="339.6" y1="852.3" x2="339.6" y2="855.3" stroke="#111" stroke-width="0.9"/>
<text x="342.8" y="859.3" font-size="9.2" text-anchor="end" fill="#222" transform="rotate(-45 342.8 859.3)">EZH1</text>
<text x="356.6" y="582.6" font-size="13.8" text-anchor="start" font-weight="bold" fill="#000">G</text>
<rect x="480.2" y="586.6" width="187.3" height="233.3" fill="#fff"/>
<line x1="490.6" y1="586.6" x2="490.6" y2="819.9" stroke="#F2F2F2" stroke-width="0.6"/>
<line x1="530.9" y1="586.6" x2="530.9" y2="819.9" stroke="#F2F2F2" stroke-width="0.6"/>
<line x1="571.1" y1="586.6" x2="571.1" y2="819.9" stroke="#F2F2F2" stroke-width="0.6"/>
<line x1="611.5" y1="586.6" x2="611.5" y2="819.9" stroke="#F2F2F2" stroke-width="0.6"/>
<line x1="651.8" y1="586.6" x2="651.8" y2="819.9" stroke="#F2F2F2" stroke-width="0.6"/>
<line x1="510.7" y1="586.6" x2="510.7" y2="819.9" stroke="#E8E8E8" stroke-width="1"/>
<line x1="551.0" y1="586.6" x2="551.0" y2="819.9" stroke="#E8E8E8" stroke-width="1"/>
<line x1="591.3" y1="586.6" x2="591.3" y2="819.9" stroke="#E8E8E8" stroke-width="1"/>
<line x1="631.6" y1="586.6" x2="631.6" y2="819.9" stroke="#E8E8E8" stroke-width="1"/>
<rect x="480.2" y="834.6" width="187.3" height="49.2" fill="#fff"/>
<line x1="490.6" y1="834.6" x2="490.6" y2="883.8" stroke="#F2F2F2" stroke-width="0.6"/>
<line x1="530.9" y1="834.6" x2="530.9" y2="883.8" stroke="#F2F2F2" stroke-width="0.6"/>
<line x1="571.1" y1="834.6" x2="571.1" y2="883.8" stroke="#F2F2F2" stroke-width="0.6"/>
<line x1="611.5" y1="834.6" x2="611.5" y2="883.8" stroke="#F2F2F2" stroke-width="0.6"/>
<line x1="651.8" y1="834.6" x2="651.8" y2="883.8" stroke="#F2F2F2" stroke-width="0.6"/>
<line x1="510.7" y1="834.6" x2="510.7" y2="883.8" stroke="#E8E8E8" stroke-width="1"/>
<line x1="551.0" y1="834.6" x2="551.0" y2="883.8" stroke="#E8E8E8" stroke-width="1"/>
<line x1="591.3" y1="834.6" x2="591.3" y2="883.8" stroke="#E8E8E8" stroke-width="1"/>
<line x1="631.6" y1="834.6" x2="631.6" y2="883.8" stroke="#E8E8E8" stroke-width="1"/>
<line x1="480.2" y1="594.9" x2="667.5" y2="594.9" stroke="#E8E8E8" stroke-width="1"/>
<line x1="480.2" y1="609.1" x2="667.5" y2="609.1" stroke="#E8E8E8" stroke-width="1"/>
<line x1="480.2" y1="623.4" x2="667.5" y2="623.4" stroke="#E8E8E8" stroke-width="1"/>
<line x1="480.2" y1="637.6" x2="667.5" y2="637.6" stroke="#E8E8E8" stroke-width="1"/>
<line x1="480.2" y1="651.9" x2="667.5" y2="651.9" stroke="#E8E8E8" stroke-width="1"/>
<line x1="480.2" y1="666.1" x2="667.5" y2="666.1" stroke="#E8E8E8" stroke-width="1"/>
<line x1="480.2" y1="680.4" x2="667.5" y2="680.4" stroke="#E8E8E8" stroke-width="1"/>
<line x1="480.2" y1="694.6" x2="667.5" y2="694.6" stroke="#E8E8E8" stroke-width="1"/>
<line x1="480.2" y1="708.9" x2="667.5" y2="708.9" stroke="#E8E8E8" stroke-width="1"/>
<line x1="480.2" y1="723.1" x2="667.5" y2="723.1" stroke="#E8E8E8" stroke-width="1"/>
<line x1="480.2" y1="737.4" x2="667.5" y2="737.4" stroke="#E8E8E8" stroke-width="1"/>
<line x1="480.2" y1="751.6" x2="667.5" y2="751.6" stroke="#E8E8E8" stroke-width="1"/>
<line x1="480.2" y1="765.9" x2="667.5" y2="765.9" stroke="#E8E8E8" stroke-width="1"/>
<line x1="480.2" y1="780.1" x2="667.5" y2="780.1" stroke="#E8E8E8" stroke-width="1"/>
<line x1="480.2" y1="794.4" x2="667.5" y2="794.4" stroke="#E8E8E8" stroke-width="1"/>
<line x1="480.2" y1="808.6" x2="667.5" y2="808.6" stroke="#E8E8E8" stroke-width="1"/>
<line x1="480.2" y1="845.5" x2="667.5" y2="845.5" stroke="#E8E8E8" stroke-width="1"/>
<line x1="480.2" y1="859.6" x2="667.5" y2="859.6" stroke="#E8E8E8" stroke-width="1"/>
<line x1="480.2" y1="873.9" x2="667.5" y2="873.9" stroke="#E8E8E8" stroke-width="1"/>
<rect x="480.2" y="572.7" width="187.3" height="13.9" fill="#D9D9D9" stroke="#333" stroke-width="1"/>
<rect x="480.2" y="822.4" width="187.3" height="12.2" fill="#D9D9D9" stroke="#333" stroke-width="1"/>
<text x="572.5" y="583.5" font-size="10.9" text-anchor="middle">increased m6A</text>
<text x="579.8" y="832.3" font-size="10.8" text-anchor="middle">decreased m6A</text>
<rect x="591.5" y="684.5" width="61.3" height="131.0" fill="#fff"/>
<text x="519.5" y="605.7" font-size="12.6" text-anchor="middle" fill="#111">Count</text>
<circle cx="504.1" cy="622.6" r="8.2" fill="#111"/>
<circle cx="504.6" cy="644.7" r="9.4" fill="#111"/>
<text x="522.5" y="626.3" font-size="10.3" text-anchor="start" fill="#111">100</text>
<text x="522.5" y="648.4" font-size="10.3" text-anchor="start" fill="#111">200</text>
<text x="599.3" y="702.8" font-size="12.4" text-anchor="start" fill="#111">p.adjust</text>
<defs><linearGradient id="gp" x1="0" y1="0" x2="0" y2="1"><stop offset="0" stop-color="#B8A24E"/><stop offset="0.15" stop-color="#A3AE52"/><stop offset="0.33" stop-color="#84DC54"/><stop offset="0.5" stop-color="#80DE5C"/><stop offset="0.65" stop-color="#86E59A"/><stop offset="0.85" stop-color="#86E3CE"/><stop offset="1" stop-color="#86E0DE"/></linearGradient></defs>
<rect x="599.0" y="710.4" width="20.3" height="99.9" fill="url(#gp)"/>
<line x1="599.0" y1="725.2" x2="602.5" y2="725.2" stroke="#555" stroke-width="0.8"/>
<line x1="615.8" y1="725.2" x2="619.3" y2="725.2" stroke="#555" stroke-width="0.8"/>
<text x="626.0" y="728.8" font-size="10.2" text-anchor="start" fill="#111">0.04</text>
<line x1="599.0" y1="749.7" x2="602.5" y2="749.7" stroke="#555" stroke-width="0.8"/>
<line x1="615.8" y1="749.7" x2="619.3" y2="749.7" stroke="#555" stroke-width="0.8"/>
<text x="626.0" y="753.3" font-size="10.2" text-anchor="start" fill="#111">0.03</text>
<line x1="599.0" y1="774.0" x2="602.5" y2="774.0" stroke="#555" stroke-width="0.8"/>
<line x1="615.8" y1="774.0" x2="619.3" y2="774.0" stroke="#555" stroke-width="0.8"/>
<text x="626.0" y="777.6" font-size="10.2" text-anchor="start" fill="#111">0.02</text>
<line x1="599.0" y1="798.6" x2="602.5" y2="798.6" stroke="#555" stroke-width="0.8"/>
<line x1="615.8" y1="798.6" x2="619.3" y2="798.6" stroke="#555" stroke-width="0.8"/>
<text x="626.0" y="802.2" font-size="10.2" text-anchor="start" fill="#111">0.01</text>
<defs><clipPath id="cg1"><rect x="480.2" y="586.6" width="187.3" height="233.3"/></clipPath><clipPath id="cg2"><rect x="480.2" y="834.6" width="187.3" height="49.2"/></clipPath></defs>
<circle cx="659" cy="594.7" r="4.6" fill="#86E052" clip-path="url(#cg1)"/>
<circle cx="649.4" cy="608.5" r="4.6" fill="#86E052" clip-path="url(#cg1)"/>
<circle cx="625.5" cy="622.6" r="5.0" fill="#86E052" clip-path="url(#cg1)"/>
<circle cx="613.6" cy="637.3" r="4.3" fill="#86E052" clip-path="url(#cg1)"/>
<circle cx="593.3" cy="651.4" r="6.0" fill="#86E052" clip-path="url(#cg1)"/>
<circle cx="586.9" cy="665.9" r="6.5" fill="#86E052" clip-path="url(#cg1)"/>
<circle cx="564.8" cy="680.6" r="5.3" fill="#86E052" clip-path="url(#cg1)"/>
<circle cx="562.4" cy="695" r="5.3" fill="#86E052" clip-path="url(#cg1)"/>
<circle cx="549.8" cy="708.8" r="7.0" fill="#84DF52" clip-path="url(#cg1)"/>
<circle cx="546.1" cy="723.8" r="9.5" fill="#8CE8A8" clip-path="url(#cg1)"/>
<circle cx="545.2" cy="738.2" r="9.3" fill="#88E3D6" clip-path="url(#cg1)"/>
<circle cx="544.3" cy="752.4" r="10" fill="#8CE8A8" clip-path="url(#cg1)"/>
<circle cx="538.5" cy="766.5" r="9.5" fill="#8AE79C" clip-path="url(#cg1)"/>
<circle cx="537.8" cy="780.6" r="10.5" fill="#8AE6BE" clip-path="url(#cg1)"/>
<circle cx="533.2" cy="794.7" r="9.5" fill="#88E1D8" clip-path="url(#cg1)"/>
<circle cx="532" cy="809.1" r="6.5" fill="#80DF52" clip-path="url(#cg1)"/>
<circle cx="532" cy="845.6" r="4.5" fill="#A8AC50" clip-path="url(#cg2)"/>
<circle cx="525" cy="859.7" r="5.5" fill="#A5AA4E" clip-path="url(#cg2)"/>
<circle cx="516.4" cy="874.4" r="6.0" fill="#8EE8A0" clip-path="url(#cg2)"/>
<rect x="480.2" y="586.6" width="187.3" height="233.3" fill="none" stroke="#333" stroke-width="1.1"/>
<rect x="480.2" y="834.6" width="187.3" height="49.2" fill="none" stroke="#333" stroke-width="1.1"/>
<line x1="475.8" y1="594.9" x2="480.2" y2="594.9" stroke="#333" stroke-width="1"/>
<text x="472.8" y="590.0" font-size="7.4" text-anchor="end">regulation of postsynaptic</text>
<text x="472.8" y="597.5" font-size="7.4" text-anchor="end">membrane potential</text>
<line x1="475.8" y1="609.1" x2="480.2" y2="609.1" stroke="#333" stroke-width="1"/>
<text x="472.8" y="607.6" font-size="7.4" text-anchor="end">chemical synaptic</text>
<text x="472.8" y="613.2" font-size="7.4" text-anchor="end">transmission, postsynaptic</text>
<line x1="475.8" y1="623.4" x2="480.2" y2="623.4" stroke="#333" stroke-width="1"/>
<text x="472.8" y="623.4" font-size="7.4" text-anchor="end">negative regulation of</text>
<text x="472.8" y="629.9" font-size="7.4" text-anchor="end">cell&#8722;substrate adhesion</text>
<line x1="475.8" y1="637.6" x2="480.2" y2="637.6" stroke="#333" stroke-width="1"/>
<text x="472.8" y="640.0" font-size="7.4" text-anchor="end">regulation of heart growth</text>
<line x1="475.8" y1="651.9" x2="480.2" y2="651.9" stroke="#333" stroke-width="1"/>
<text x="472.8" y="650.9" font-size="7.4" text-anchor="end">endothelial cell</text>
<text x="472.8" y="657.0" font-size="7.4" text-anchor="end">differentiation</text>
<line x1="475.8" y1="666.1" x2="480.2" y2="666.1" stroke="#333" stroke-width="1"/>
<text x="472.8" y="668.1" font-size="7.4" text-anchor="end">epithelial cell development</text>
<line x1="475.8" y1="680.4" x2="480.2" y2="680.4" stroke="#333" stroke-width="1"/>
<text x="472.8" y="680.0" font-size="7.4" text-anchor="end">regulation of epithelial to</text>
<text x="472.8" y="686.0" font-size="7.4" text-anchor="end">mesenchymal transition</text>
<line x1="475.8" y1="694.6" x2="480.2" y2="694.6" stroke="#333" stroke-width="1"/>
<text x="472.8" y="696.1" font-size="7.4" text-anchor="end">regulation of cell&#8722;matrix</text>
<text x="472.8" y="703.1" font-size="7.4" text-anchor="end">adhesion</text>
<line x1="475.8" y1="708.9" x2="480.2" y2="708.9" stroke="#333" stroke-width="1"/>
<text x="472.8" y="712.4" font-size="7.4" text-anchor="end">forebrain development</text>
<line x1="475.8" y1="723.1" x2="480.2" y2="723.1" stroke="#333" stroke-width="1"/>
<text x="472.8" y="722.9" font-size="7.4" text-anchor="end">regulation of hydrolase</text>
<text x="472.8" y="729.1" font-size="7.4" text-anchor="end">activity</text>
<line x1="475.8" y1="737.4" x2="480.2" y2="737.4" stroke="#333" stroke-width="1"/>
<text x="466.8" y="740.0" font-size="7.4" text-anchor="end">regulation of cell motility</text>
<line x1="475.8" y1="751.6" x2="480.2" y2="751.6" stroke="#333" stroke-width="1"/>
<text x="472.8" y="754.5" font-size="7.4" text-anchor="end">regulation of cell migration</text>
<line x1="475.8" y1="765.9" x2="480.2" y2="765.9" stroke="#333" stroke-width="1"/>
<text x="472.8" y="768.9" font-size="7.4" text-anchor="end">regulation of locomotion</text>
<line x1="475.8" y1="780.1" x2="480.2" y2="780.1" stroke="#333" stroke-width="1"/>
<text x="472.8" y="783.4" font-size="7.4" text-anchor="end">cell migration</text>
<line x1="475.8" y1="794.4" x2="480.2" y2="794.4" stroke="#333" stroke-width="1"/>
<text x="472.8" y="797.7" font-size="7.4" text-anchor="end">cell morphogenesis</text>
<line x1="475.8" y1="808.6" x2="480.2" y2="808.6" stroke="#333" stroke-width="1"/>
<text x="472.8" y="809.3" font-size="7.4" text-anchor="end">negative regulation of cell</text>
<text x="472.8" y="815.4" font-size="7.4" text-anchor="end">migration</text>
<line x1="475.8" y1="845.5" x2="480.2" y2="845.5" stroke="#333" stroke-width="1"/>
<text x="472.8" y="841.7" font-size="7.4" text-anchor="end">regulation of mitotic sister</text>
<text x="472.8" y="848.7" font-size="7.4" text-anchor="end">chromatid segregation</text>
<line x1="475.8" y1="859.6" x2="480.2" y2="859.6" stroke="#333" stroke-width="1"/>
<text x="472.8" y="862.0" font-size="7.4" text-anchor="end">metaphase/anaphase transition</text>
<line x1="475.8" y1="873.9" x2="480.2" y2="873.9" stroke="#333" stroke-width="1"/>
<text x="472.8" y="875.1" font-size="7.4" text-anchor="end">chromosome separation</text>
<line x1="510.7" y1="883.8" x2="510.7" y2="886.8" stroke="#333" stroke-width="1"/>
<line x1="551.0" y1="883.8" x2="551.0" y2="886.8" stroke="#333" stroke-width="1"/>
<line x1="591.3" y1="883.8" x2="591.3" y2="886.8" stroke="#333" stroke-width="1"/>
<line x1="631.6" y1="883.8" x2="631.6" y2="886.8" stroke="#333" stroke-width="1"/>
<text x="508.5" y="895.3" font-size="7.2" text-anchor="middle" fill="#222">0.2</text>
<text x="550.9" y="895.3" font-size="7.2" text-anchor="middle" fill="#222">0.4</text>
<text x="591.0" y="895.3" font-size="7.2" text-anchor="middle" fill="#222">0.5</text>
<text x="631.3" y="895.3" font-size="7.2" text-anchor="middle" fill="#222">0.6</text>
<text x="478.2" y="895.2" font-size="7.0" text-anchor="middle" fill="#222">GeneRatio</text>
</svg>
</body></html>
